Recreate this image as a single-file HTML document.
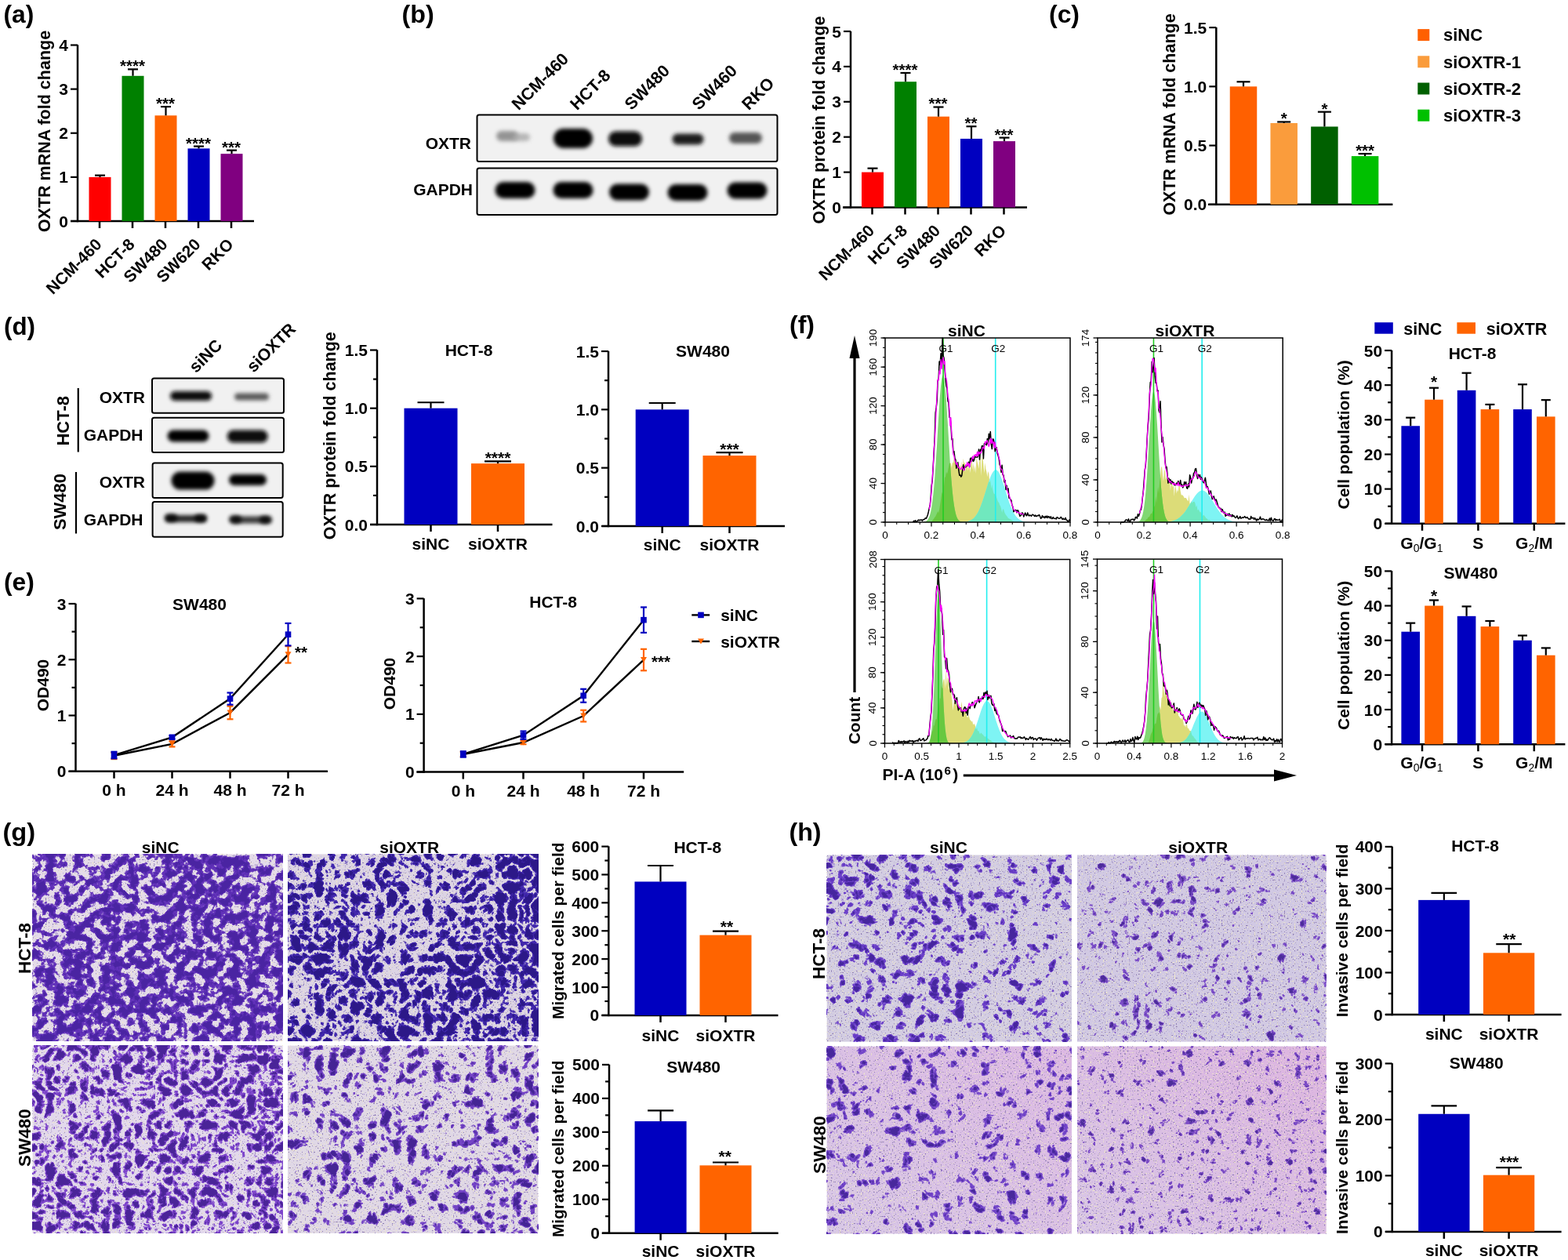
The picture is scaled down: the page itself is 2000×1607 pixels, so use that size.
<!DOCTYPE html>
<html><head><meta charset="utf-8"><title>Figure</title>
<style>
html,body{margin:0;padding:0;background:#fff;}
svg{display:block;}
text{font-family:"Liberation Sans", Arial, Helvetica, sans-serif;font-weight:bold;font-size:21px;text-anchor:middle;}
</style></head><body>
<svg width="2000" height="1607" viewBox="0 0 2000 1607">
<rect width="2000" height="1607" fill="#fff"/>
<text x="4.5" y="28.5" style="text-anchor:start;font-size:31px" textLength="38.8" lengthAdjust="spacingAndGlyphs">(a)</text>
<line x1="99" y1="283.25" x2="99" y2="57.25" stroke="#000" stroke-width="2.5"/>
<line x1="90" y1="282" x2="99" y2="282" stroke="#000" stroke-width="2.2"/>
<text x="87" y="289.56" style="text-anchor:end">0</text>
<line x1="90" y1="225.88" x2="99" y2="225.88" stroke="#000" stroke-width="2.2"/>
<text x="87" y="233.44" style="text-anchor:end">1</text>
<line x1="90" y1="169.75" x2="99" y2="169.75" stroke="#000" stroke-width="2.2"/>
<text x="87" y="177.31" style="text-anchor:end">2</text>
<line x1="90" y1="113.62" x2="99" y2="113.62" stroke="#000" stroke-width="2.2"/>
<text x="87" y="121.19" style="text-anchor:end">3</text>
<line x1="90" y1="57.5" x2="99" y2="57.5" stroke="#000" stroke-width="2.2"/>
<text x="87" y="65.06" style="text-anchor:end">4</text>
<line x1="90" y1="282" x2="324" y2="282" stroke="#000" stroke-width="2.5"/>
<rect x="113.5" y="225.88" width="28" height="56.12" fill="#ff0000"/>
<line x1="127.5" y1="225.88" x2="127.5" y2="223.63" stroke="#000" stroke-width="2.2"/>
<line x1="121" y1="223.63" x2="134" y2="223.63" stroke="#000" stroke-width="2.2"/>
<line x1="127" y1="282" x2="127" y2="291" stroke="#000" stroke-width="2.5"/>
<text x="131" y="313" style="text-anchor:end" transform="rotate(-45 131 313)">NCM-460</text>
<rect x="155.5" y="96.79" width="28" height="185.21" fill="#008000"/>
<line x1="169.5" y1="96.79" x2="169.5" y2="88.37" stroke="#000" stroke-width="2.2"/>
<line x1="163" y1="88.37" x2="176" y2="88.37" stroke="#000" stroke-width="2.2"/>
<line x1="169" y1="282" x2="169" y2="291" stroke="#000" stroke-width="2.5"/>
<text x="169" y="91.28" style="font-size:20.5px">****</text>
<text x="173" y="313" style="text-anchor:end" transform="rotate(-45 173 313)">HCT-8</text>
<rect x="197.5" y="147.3" width="28" height="134.7" fill="#ff6400"/>
<line x1="211.5" y1="147.3" x2="211.5" y2="136.07" stroke="#000" stroke-width="2.2"/>
<line x1="205" y1="136.07" x2="218" y2="136.07" stroke="#000" stroke-width="2.2"/>
<line x1="211" y1="282" x2="211" y2="291" stroke="#000" stroke-width="2.5"/>
<text x="211" y="138.98" style="font-size:20.5px">***</text>
<text x="215" y="313" style="text-anchor:end" transform="rotate(-45 215 313)">SW480</text>
<rect x="239.5" y="189.39" width="28" height="92.61" fill="#0000c0"/>
<line x1="253.5" y1="189.39" x2="253.5" y2="186.59" stroke="#000" stroke-width="2.2"/>
<line x1="247" y1="186.59" x2="260" y2="186.59" stroke="#000" stroke-width="2.2"/>
<line x1="253" y1="282" x2="253" y2="291" stroke="#000" stroke-width="2.5"/>
<text x="253" y="189.5" style="font-size:20.5px">****</text>
<text x="257" y="313" style="text-anchor:end" transform="rotate(-45 257 313)">SW620</text>
<rect x="281.5" y="196.13" width="28" height="85.87" fill="#800080"/>
<line x1="295.5" y1="196.13" x2="295.5" y2="191.64" stroke="#000" stroke-width="2.2"/>
<line x1="289" y1="191.64" x2="302" y2="191.64" stroke="#000" stroke-width="2.2"/>
<line x1="295" y1="282" x2="295" y2="291" stroke="#000" stroke-width="2.5"/>
<text x="295" y="194.55" style="font-size:20.5px">***</text>
<text x="299" y="313" style="text-anchor:end" transform="rotate(-45 299 313)">RKO</text>
<text x="63.5" y="167.5" style="font-size:21.5px" transform="rotate(-90 63.5 167.5)">OXTR mRNA fold change</text>
<text x="512.5" y="28.5" style="text-anchor:start;font-size:31px" textLength="41.2" lengthAdjust="spacingAndGlyphs">(b)</text>
<line x1="1085" y1="265.75" x2="1085" y2="39.75" stroke="#000" stroke-width="2.5"/>
<line x1="1076" y1="264.5" x2="1085" y2="264.5" stroke="#000" stroke-width="2.2"/>
<text x="1073" y="272.06" style="text-anchor:end">0</text>
<line x1="1076" y1="219.6" x2="1085" y2="219.6" stroke="#000" stroke-width="2.2"/>
<text x="1073" y="227.16" style="text-anchor:end">1</text>
<line x1="1076" y1="174.7" x2="1085" y2="174.7" stroke="#000" stroke-width="2.2"/>
<text x="1073" y="182.26" style="text-anchor:end">2</text>
<line x1="1076" y1="129.8" x2="1085" y2="129.8" stroke="#000" stroke-width="2.2"/>
<text x="1073" y="137.36" style="text-anchor:end">3</text>
<line x1="1076" y1="84.9" x2="1085" y2="84.9" stroke="#000" stroke-width="2.2"/>
<text x="1073" y="92.46" style="text-anchor:end">4</text>
<line x1="1076" y1="40" x2="1085" y2="40" stroke="#000" stroke-width="2.2"/>
<text x="1073" y="47.56" style="text-anchor:end">5</text>
<line x1="1075" y1="264.5" x2="1310" y2="264.5" stroke="#000" stroke-width="2.5"/>
<rect x="1099" y="219.6" width="28" height="44.9" fill="#ff0000"/>
<line x1="1113" y1="219.6" x2="1113" y2="214.66" stroke="#000" stroke-width="2.2"/>
<line x1="1106.5" y1="214.66" x2="1119.5" y2="214.66" stroke="#000" stroke-width="2.2"/>
<line x1="1112.5" y1="264.5" x2="1112.5" y2="273.5" stroke="#000" stroke-width="2.5"/>
<text x="1116.5" y="295.5" style="text-anchor:end" transform="rotate(-45 1116.5 295.5)">NCM-460</text>
<rect x="1141" y="104.21" width="28" height="160.29" fill="#008000"/>
<line x1="1155" y1="104.21" x2="1155" y2="92.98" stroke="#000" stroke-width="2.2"/>
<line x1="1148.5" y1="92.98" x2="1161.5" y2="92.98" stroke="#000" stroke-width="2.2"/>
<line x1="1154.5" y1="264.5" x2="1154.5" y2="273.5" stroke="#000" stroke-width="2.5"/>
<text x="1154.5" y="95.89" style="font-size:20.5px">****</text>
<text x="1158.5" y="295.5" style="text-anchor:end" transform="rotate(-45 1158.5 295.5)">HCT-8</text>
<rect x="1183" y="148.66" width="28" height="115.84" fill="#ff6400"/>
<line x1="1197" y1="148.66" x2="1197" y2="136.53" stroke="#000" stroke-width="2.2"/>
<line x1="1190.5" y1="136.53" x2="1203.5" y2="136.53" stroke="#000" stroke-width="2.2"/>
<line x1="1196.5" y1="264.5" x2="1196.5" y2="273.5" stroke="#000" stroke-width="2.5"/>
<text x="1196.5" y="139.44" style="font-size:20.5px">***</text>
<text x="1200.5" y="295.5" style="text-anchor:end" transform="rotate(-45 1200.5 295.5)">SW480</text>
<rect x="1225" y="176.94" width="28" height="87.56" fill="#0000c0"/>
<line x1="1239" y1="176.94" x2="1239" y2="161.23" stroke="#000" stroke-width="2.2"/>
<line x1="1232.5" y1="161.23" x2="1245.5" y2="161.23" stroke="#000" stroke-width="2.2"/>
<line x1="1238.5" y1="264.5" x2="1238.5" y2="273.5" stroke="#000" stroke-width="2.5"/>
<text x="1238.5" y="164.14" style="font-size:20.5px">**</text>
<text x="1242.5" y="295.5" style="text-anchor:end" transform="rotate(-45 1242.5 295.5)">SW620</text>
<rect x="1267" y="180.09" width="28" height="84.41" fill="#800080"/>
<line x1="1281" y1="180.09" x2="1281" y2="175.6" stroke="#000" stroke-width="2.2"/>
<line x1="1274.5" y1="175.6" x2="1287.5" y2="175.6" stroke="#000" stroke-width="2.2"/>
<line x1="1280.5" y1="264.5" x2="1280.5" y2="273.5" stroke="#000" stroke-width="2.5"/>
<text x="1280.5" y="178.51" style="font-size:20.5px">***</text>
<text x="1284.5" y="295.5" style="text-anchor:end" transform="rotate(-45 1284.5 295.5)">RKO</text>
<text x="1052" y="153" style="font-size:21.5px" transform="rotate(-90 1052 153)">OXTR protein fold change</text>
<text x="1338" y="28.5" style="text-anchor:start;font-size:31px" textLength="39" lengthAdjust="spacingAndGlyphs">(c)</text>
<line x1="1551.3" y1="262.05" x2="1551.3" y2="34.85" stroke="#000" stroke-width="2.5"/>
<line x1="1542.3" y1="260.8" x2="1551.3" y2="260.8" stroke="#000" stroke-width="2.2"/>
<text x="1539.3" y="268.36" style="text-anchor:end">0.0</text>
<line x1="1542.3" y1="185.57" x2="1551.3" y2="185.57" stroke="#000" stroke-width="2.2"/>
<text x="1539.3" y="193.13" style="text-anchor:end">0.5</text>
<line x1="1542.3" y1="110.33" x2="1551.3" y2="110.33" stroke="#000" stroke-width="2.2"/>
<text x="1539.3" y="117.89" style="text-anchor:end">1.0</text>
<line x1="1542.3" y1="35.1" x2="1551.3" y2="35.1" stroke="#000" stroke-width="2.2"/>
<text x="1539.3" y="42.66" style="text-anchor:end">1.5</text>
<line x1="1541" y1="260.8" x2="1776.4" y2="260.8" stroke="#000" stroke-width="2.5"/>
<rect x="1568.75" y="110.33" width="34.5" height="150.47" fill="#ff6000"/>
<line x1="1586" y1="110.33" x2="1586" y2="104.31" stroke="#000" stroke-width="2.2"/>
<line x1="1577.5" y1="104.31" x2="1594.5" y2="104.31" stroke="#000" stroke-width="2.2"/>
<rect x="1620.45" y="156.98" width="34.5" height="103.82" fill="#fa9c3c"/>
<line x1="1637.7" y1="156.98" x2="1637.7" y2="155.47" stroke="#000" stroke-width="2.2"/>
<line x1="1629.2" y1="155.47" x2="1646.2" y2="155.47" stroke="#000" stroke-width="2.2"/>
<text x="1637.7" y="158.38" style="font-size:20.5px">*</text>
<rect x="1672.15" y="161.49" width="34.5" height="99.31" fill="#006000"/>
<line x1="1689.4" y1="161.49" x2="1689.4" y2="142.68" stroke="#000" stroke-width="2.2"/>
<line x1="1680.9" y1="142.68" x2="1697.9" y2="142.68" stroke="#000" stroke-width="2.2"/>
<text x="1689.4" y="145.59" style="font-size:20.5px">*</text>
<rect x="1723.85" y="199.11" width="34.5" height="61.69" fill="#00c000"/>
<line x1="1741.1" y1="199.11" x2="1741.1" y2="196.1" stroke="#000" stroke-width="2.2"/>
<line x1="1732.6" y1="196.1" x2="1749.6" y2="196.1" stroke="#000" stroke-width="2.2"/>
<text x="1741.1" y="199.01" style="font-size:20.5px">***</text>
<text x="1499" y="146" style="font-size:21.5px" transform="rotate(-90 1499 146)">OXTR mRNA fold change</text>
<rect x="1808.3" y="37.1" width="15" height="15" fill="#ff6000"/>
<text x="1841" y="52.4" style="text-anchor:start;font-size:22px">siNC</text>
<rect x="1808.3" y="71.3" width="15" height="15" fill="#fa9c3c"/>
<text x="1841" y="86.6" style="text-anchor:start;font-size:22px">siOXTR-1</text>
<rect x="1808.3" y="105.5" width="15" height="15" fill="#006000"/>
<text x="1841" y="120.8" style="text-anchor:start;font-size:22px">siOXTR-2</text>
<rect x="1808.3" y="139.7" width="15" height="15" fill="#00c000"/>
<text x="1841" y="155" style="text-anchor:start;font-size:22px">siOXTR-3</text>
<defs><filter id="bb" x="-30%" y="-80%" width="160%" height="260%"><feGaussianBlur stdDeviation="2.4"/></filter><filter id="bb2" x="-30%" y="-80%" width="160%" height="260%"><feGaussianBlur stdDeviation="1.6"/></filter></defs>
<rect x="608.5" y="146.5" width="383" height="59.5" rx="2.5" fill="#f1f1f1" stroke="#000" stroke-width="2"/>
<rect x="608.5" y="214.5" width="383" height="59.5" rx="2.5" fill="#f1f1f1" stroke="#000" stroke-width="2"/>
<rect x="633" y="167" width="28" height="13" rx="6.5" fill="#8a8a8a" opacity="0.9" filter="url(#bb)"/>
<rect x="654" y="170" width="22" height="10" rx="5" fill="#a8a8a8" opacity="0.8" filter="url(#bb)"/>
<rect x="706" y="164" width="50" height="25" rx="12.5" fill="#050505" opacity="1" filter="url(#bb)"/>
<rect x="776" y="167.5" width="43" height="19" rx="9.5" fill="#080808" opacity="1" filter="url(#bb)"/>
<rect x="857.5" y="170.5" width="40" height="14" rx="7" fill="#1e1e1e" opacity="1" filter="url(#bb)"/>
<rect x="930" y="169" width="42" height="14" rx="7" fill="#555555" opacity="1" filter="url(#bb)"/>
<rect x="631.5" y="232" width="51" height="21" rx="10.5" fill="#050505" opacity="1" filter="url(#bb)"/>
<rect x="705.5" y="232" width="51" height="21" rx="10.5" fill="#050505" opacity="1" filter="url(#bb)"/>
<rect x="777" y="234.5" width="51" height="21" rx="10.5" fill="#050505" opacity="1" filter="url(#bb)"/>
<rect x="851.5" y="235" width="51" height="21" rx="10.5" fill="#050505" opacity="1" filter="url(#bb)"/>
<rect x="927.5" y="232.5" width="51" height="21" rx="10.5" fill="#050505" opacity="1" filter="url(#bb)"/>
<text x="601" y="189.5" style="text-anchor:end">OXTR</text>
<text x="603" y="249" style="text-anchor:end">GAPDH</text>
<text x="661.5" y="141.5" style="text-anchor:start;font-size:21.5px" transform="rotate(-45 661.5 141.5)">NCM-460</text>
<text x="736" y="141.5" style="text-anchor:start;font-size:21.5px" transform="rotate(-45 736 141.5)">HCT-8</text>
<text x="805.5" y="141.5" style="text-anchor:start;font-size:21.5px" transform="rotate(-45 805.5 141.5)">SW480</text>
<text x="891.5" y="141.5" style="text-anchor:start;font-size:21.5px" transform="rotate(-45 891.5 141.5)">SW460</text>
<text x="955" y="141.5" style="text-anchor:start;font-size:21.5px" transform="rotate(-45 955 141.5)">RKO</text>
<text x="5" y="427" style="text-anchor:start;font-size:31px" textLength="40" lengthAdjust="spacingAndGlyphs">(d)</text>
<rect x="194" y="482.5" width="168" height="44.3" rx="2.5" fill="#f1f1f1" stroke="#000" stroke-width="2"/>
<rect x="194" y="532.8" width="168" height="44.2" rx="2.5" fill="#f1f1f1" stroke="#000" stroke-width="2"/>
<rect x="194.6" y="590.5" width="166.1" height="44.4" rx="2.5" fill="#f1f1f1" stroke="#000" stroke-width="2"/>
<rect x="194.6" y="640.1" width="166.1" height="44.6" rx="2.5" fill="#f1f1f1" stroke="#000" stroke-width="2"/>
<rect x="217.1" y="499" width="53" height="12" rx="6" fill="#0a0a0a" opacity="1" filter="url(#bb)"/>
<rect x="299" y="501.5" width="44" height="9" rx="4.5" fill="#5a5a5a" opacity="1" filter="url(#bb)"/>
<rect x="213.5" y="548.5" width="53" height="15" rx="7.5" fill="#050505" opacity="1" filter="url(#bb)"/>
<rect x="289.7" y="548.5" width="52" height="16" rx="8" fill="#0a0a0a" opacity="1" filter="url(#bb)"/>
<rect x="218.5" y="601.5" width="55" height="23" rx="11.5" fill="#000000" opacity="1" filter="url(#bb)"/>
<rect x="292" y="605" width="48" height="14" rx="7" fill="#050505" opacity="1" filter="url(#bb)"/>
<rect x="211" y="657" width="52" height="9" rx="4.5" fill="#262626" opacity="1" filter="url(#bb)"/>
<rect x="294.6" y="658.5" width="50" height="9" rx="4.5" fill="#3a3a3a" opacity="1" filter="url(#bb)"/>
<rect x="210" y="655.5" width="16" height="10" rx="5" fill="#000" opacity="0.8" filter="url(#bb)"/>
<rect x="248" y="656" width="16" height="10" rx="5" fill="#000" opacity="0.8" filter="url(#bb)"/>
<rect x="292" y="657.5" width="16" height="10" rx="5" fill="#000" opacity="0.8" filter="url(#bb)"/>
<rect x="331" y="658" width="16" height="10" rx="5" fill="#000" opacity="0.8" filter="url(#bb)"/>
<text x="185" y="513.5" style="text-anchor:end">OXTR</text>
<text x="182.5" y="561.5" style="text-anchor:end">GAPDH</text>
<text x="185" y="621.5" style="text-anchor:end">OXTR</text>
<text x="182.5" y="669.5" style="text-anchor:end">GAPDH</text>
<line x1="99.75" y1="495" x2="99.75" y2="576.5" stroke="#000" stroke-width="2.2"/>
<line x1="97" y1="602" x2="97" y2="680.5" stroke="#000" stroke-width="2.2"/>
<text x="88" y="536.75" style="font-size:22px" transform="rotate(-90 88 536.75)">HCT-8</text>
<text x="84" y="640" style="font-size:22px" transform="rotate(-90 84 640)">SW480</text>
<text x="250" y="476.5" style="text-anchor:start;font-size:21.5px" transform="rotate(-45 250 476.5)">siNC</text>
<text x="323.5" y="476" style="text-anchor:start;font-size:21.5px" transform="rotate(-45 323.5 476)">siOXTR</text>
<line x1="481" y1="670.25" x2="481" y2="446.25" stroke="#000" stroke-width="2.5"/>
<line x1="472" y1="669" x2="481" y2="669" stroke="#000" stroke-width="2.2"/>
<text x="469" y="676.56" style="text-anchor:end">0.0</text>
<line x1="472" y1="594.83" x2="481" y2="594.83" stroke="#000" stroke-width="2.2"/>
<text x="469" y="602.39" style="text-anchor:end">0.5</text>
<line x1="472" y1="520.67" x2="481" y2="520.67" stroke="#000" stroke-width="2.2"/>
<text x="469" y="528.23" style="text-anchor:end">1.0</text>
<line x1="472" y1="446.5" x2="481" y2="446.5" stroke="#000" stroke-width="2.2"/>
<text x="469" y="454.06" style="text-anchor:end">1.5</text>
<line x1="476.05" y1="631.92" x2="481" y2="631.92" stroke="#000" stroke-width="2.2"/>
<line x1="476.05" y1="557.75" x2="481" y2="557.75" stroke="#000" stroke-width="2.2"/>
<line x1="476.05" y1="483.58" x2="481" y2="483.58" stroke="#000" stroke-width="2.2"/>
<line x1="472" y1="669" x2="704.5" y2="669" stroke="#000" stroke-width="2.5"/>
<rect x="515.5" y="520.67" width="68" height="148.33" fill="#0000c0"/>
<line x1="549.5" y1="520.67" x2="549.5" y2="513.25" stroke="#000" stroke-width="2.2"/>
<line x1="532.5" y1="513.25" x2="566.5" y2="513.25" stroke="#000" stroke-width="2.2"/>
<line x1="549.5" y1="669" x2="549.5" y2="678" stroke="#000" stroke-width="2.5"/>
<rect x="601" y="591.12" width="68" height="77.88" fill="#ff6400"/>
<line x1="635" y1="591.12" x2="635" y2="588.45" stroke="#000" stroke-width="2.2"/>
<line x1="618" y1="588.45" x2="652" y2="588.45" stroke="#000" stroke-width="2.2"/>
<line x1="635" y1="669" x2="635" y2="678" stroke="#000" stroke-width="2.5"/>
<text x="549.5" y="700.5">siNC</text>
<text x="635" y="700.5">siOXTR</text>
<text x="598" y="454">HCT-8</text>
<text x="635" y="591.22">****</text>
<line x1="776" y1="672.25" x2="776" y2="447.75" stroke="#000" stroke-width="2.5"/>
<line x1="767" y1="671" x2="776" y2="671" stroke="#000" stroke-width="2.2"/>
<text x="764" y="678.56" style="text-anchor:end">0.0</text>
<line x1="767" y1="596.67" x2="776" y2="596.67" stroke="#000" stroke-width="2.2"/>
<text x="764" y="604.23" style="text-anchor:end">0.5</text>
<line x1="767" y1="522.33" x2="776" y2="522.33" stroke="#000" stroke-width="2.2"/>
<text x="764" y="529.89" style="text-anchor:end">1.0</text>
<line x1="767" y1="448" x2="776" y2="448" stroke="#000" stroke-width="2.2"/>
<text x="764" y="455.56" style="text-anchor:end">1.5</text>
<line x1="771.05" y1="633.83" x2="776" y2="633.83" stroke="#000" stroke-width="2.2"/>
<line x1="771.05" y1="559.5" x2="776" y2="559.5" stroke="#000" stroke-width="2.2"/>
<line x1="771.05" y1="485.17" x2="776" y2="485.17" stroke="#000" stroke-width="2.2"/>
<line x1="767.5" y1="671" x2="1001" y2="671" stroke="#000" stroke-width="2.5"/>
<rect x="810.7" y="522.33" width="68" height="148.67" fill="#0000c0"/>
<line x1="844.7" y1="522.33" x2="844.7" y2="514.01" stroke="#000" stroke-width="2.2"/>
<line x1="827.7" y1="514.01" x2="861.7" y2="514.01" stroke="#000" stroke-width="2.2"/>
<line x1="844.7" y1="671" x2="844.7" y2="680" stroke="#000" stroke-width="2.5"/>
<rect x="896.5" y="581.06" width="68" height="89.94" fill="#ff6400"/>
<line x1="930.5" y1="581.06" x2="930.5" y2="577.04" stroke="#000" stroke-width="2.2"/>
<line x1="913.5" y1="577.04" x2="947.5" y2="577.04" stroke="#000" stroke-width="2.2"/>
<line x1="930.5" y1="671" x2="930.5" y2="680" stroke="#000" stroke-width="2.5"/>
<text x="844.7" y="701.5">siNC</text>
<text x="930.5" y="701.5">siOXTR</text>
<text x="896.5" y="454.5">SW480</text>
<text x="930.5" y="580.22">***</text>
<text x="428" y="555.75" style="font-size:21.5px" transform="rotate(-90 428 555.75)">OXTR protein fold change</text>
<text x="5" y="752.5" style="text-anchor:start;font-size:31px" textLength="38.8" lengthAdjust="spacingAndGlyphs">(e)</text>
<line x1="96.5" y1="985" x2="96.5" y2="769.75" stroke="#000" stroke-width="2.5"/>
<line x1="87.5" y1="983.75" x2="96.5" y2="983.75" stroke="#000" stroke-width="2.2"/>
<text x="84.5" y="991.31" style="text-anchor:end">0</text>
<line x1="87.5" y1="912.5" x2="96.5" y2="912.5" stroke="#000" stroke-width="2.2"/>
<text x="84.5" y="920.06" style="text-anchor:end">1</text>
<line x1="87.5" y1="841.25" x2="96.5" y2="841.25" stroke="#000" stroke-width="2.2"/>
<text x="84.5" y="848.81" style="text-anchor:end">2</text>
<line x1="87.5" y1="770" x2="96.5" y2="770" stroke="#000" stroke-width="2.2"/>
<text x="84.5" y="777.56" style="text-anchor:end">3</text>
<line x1="91.55" y1="948.12" x2="96.5" y2="948.12" stroke="#000" stroke-width="2.2"/>
<line x1="91.55" y1="876.88" x2="96.5" y2="876.88" stroke="#000" stroke-width="2.2"/>
<line x1="91.55" y1="805.62" x2="96.5" y2="805.62" stroke="#000" stroke-width="2.2"/>
<line x1="87.5" y1="983.75" x2="418" y2="983.75" stroke="#000" stroke-width="2.5"/>
<line x1="145.5" y1="983.75" x2="145.5" y2="992.75" stroke="#000" stroke-width="2.5"/>
<text x="145.5" y="1015.25">0 h</text>
<line x1="219.5" y1="983.75" x2="219.5" y2="992.75" stroke="#000" stroke-width="2.5"/>
<text x="219.5" y="1015.25">24 h</text>
<line x1="293.5" y1="983.75" x2="293.5" y2="992.75" stroke="#000" stroke-width="2.5"/>
<text x="293.5" y="1015.25">48 h</text>
<line x1="367.5" y1="983.75" x2="367.5" y2="992.75" stroke="#000" stroke-width="2.5"/>
<text x="367.5" y="1015.25">72 h</text>
<polyline points="145.5,963.09 219.5,940.29 293.5,891.12 367.5,809.19" fill="none" stroke="#000" stroke-width="2.4"/>
<polyline points="145.5,963.8 219.5,948.84 293.5,908.94 367.5,834.84" fill="none" stroke="#000" stroke-width="2.4"/>
<line x1="145.5" y1="959.52" x2="145.5" y2="968.07" stroke="#ff6400" stroke-width="2.2"/>
<line x1="141.5" y1="959.52" x2="149.5" y2="959.52" stroke="#ff6400" stroke-width="2.2"/>
<line x1="141.5" y1="968.07" x2="149.5" y2="968.07" stroke="#ff6400" stroke-width="2.2"/>
<path d="M141.5,960.3h8l-4,7z" fill="#ff6400"/>
<line x1="219.5" y1="945.27" x2="219.5" y2="952.4" stroke="#ff6400" stroke-width="2.2"/>
<line x1="215.5" y1="945.27" x2="223.5" y2="945.27" stroke="#ff6400" stroke-width="2.2"/>
<line x1="215.5" y1="952.4" x2="223.5" y2="952.4" stroke="#ff6400" stroke-width="2.2"/>
<path d="M215.5,945.34h8l-4,7z" fill="#ff6400"/>
<line x1="293.5" y1="900.6" x2="293.5" y2="917.27" stroke="#ff6400" stroke-width="2.2"/>
<line x1="289.5" y1="900.6" x2="297.5" y2="900.6" stroke="#ff6400" stroke-width="2.2"/>
<line x1="289.5" y1="917.27" x2="297.5" y2="917.27" stroke="#ff6400" stroke-width="2.2"/>
<path d="M289.5,905.44h8l-4,7z" fill="#ff6400"/>
<line x1="367.5" y1="824.15" x2="367.5" y2="845.52" stroke="#ff6400" stroke-width="2.2"/>
<line x1="363.5" y1="824.15" x2="371.5" y2="824.15" stroke="#ff6400" stroke-width="2.2"/>
<line x1="363.5" y1="845.52" x2="371.5" y2="845.52" stroke="#ff6400" stroke-width="2.2"/>
<path d="M363.5,831.34h8l-4,7z" fill="#ff6400"/>
<line x1="145.5" y1="958.81" x2="145.5" y2="967.36" stroke="#0000c0" stroke-width="2.2"/>
<line x1="141.5" y1="958.81" x2="149.5" y2="958.81" stroke="#0000c0" stroke-width="2.2"/>
<line x1="141.5" y1="967.36" x2="149.5" y2="967.36" stroke="#0000c0" stroke-width="2.2"/>
<rect x="141.7" y="959.29" width="7.6" height="7.6" fill="#0000c0"/>
<line x1="219.5" y1="938.15" x2="219.5" y2="942.43" stroke="#0000c0" stroke-width="2.2"/>
<line x1="215.5" y1="938.15" x2="223.5" y2="938.15" stroke="#0000c0" stroke-width="2.2"/>
<line x1="215.5" y1="942.43" x2="223.5" y2="942.43" stroke="#0000c0" stroke-width="2.2"/>
<rect x="215.7" y="936.49" width="7.6" height="7.6" fill="#0000c0"/>
<line x1="293.5" y1="883.5" x2="293.5" y2="898.75" stroke="#0000c0" stroke-width="2.2"/>
<line x1="289.5" y1="883.5" x2="297.5" y2="883.5" stroke="#0000c0" stroke-width="2.2"/>
<line x1="289.5" y1="898.75" x2="297.5" y2="898.75" stroke="#0000c0" stroke-width="2.2"/>
<rect x="289.7" y="887.33" width="7.6" height="7.6" fill="#0000c0"/>
<line x1="367.5" y1="794.94" x2="367.5" y2="823.44" stroke="#0000c0" stroke-width="2.2"/>
<line x1="363.5" y1="794.94" x2="371.5" y2="794.94" stroke="#0000c0" stroke-width="2.2"/>
<line x1="363.5" y1="823.44" x2="371.5" y2="823.44" stroke="#0000c0" stroke-width="2.2"/>
<rect x="363.7" y="805.39" width="7.6" height="7.6" fill="#0000c0"/>
<text x="254.5" y="777.5">SW480</text>
<text x="376" y="839.41" style="text-anchor:start;font-size:20.5px">**</text>
<text x="62" y="874" transform="rotate(-90 62 874)">OD490</text>
<line x1="540.6" y1="985.85" x2="540.6" y2="763.15" stroke="#000" stroke-width="2.5"/>
<line x1="531.6" y1="984.6" x2="540.6" y2="984.6" stroke="#000" stroke-width="2.2"/>
<text x="528.6" y="992.16" style="text-anchor:end">0</text>
<line x1="531.6" y1="910.87" x2="540.6" y2="910.87" stroke="#000" stroke-width="2.2"/>
<text x="528.6" y="918.43" style="text-anchor:end">1</text>
<line x1="531.6" y1="837.13" x2="540.6" y2="837.13" stroke="#000" stroke-width="2.2"/>
<text x="528.6" y="844.69" style="text-anchor:end">2</text>
<line x1="531.6" y1="763.4" x2="540.6" y2="763.4" stroke="#000" stroke-width="2.2"/>
<text x="528.6" y="770.96" style="text-anchor:end">3</text>
<line x1="535.65" y1="947.73" x2="540.6" y2="947.73" stroke="#000" stroke-width="2.2"/>
<line x1="535.65" y1="874" x2="540.6" y2="874" stroke="#000" stroke-width="2.2"/>
<line x1="535.65" y1="800.27" x2="540.6" y2="800.27" stroke="#000" stroke-width="2.2"/>
<line x1="531.4" y1="984.6" x2="872.2" y2="984.6" stroke="#000" stroke-width="2.5"/>
<line x1="590.8" y1="984.6" x2="590.8" y2="993.6" stroke="#000" stroke-width="2.5"/>
<text x="590.8" y="1016.1">0 h</text>
<line x1="667.5" y1="984.6" x2="667.5" y2="993.6" stroke="#000" stroke-width="2.5"/>
<text x="667.5" y="1016.1">24 h</text>
<line x1="744.2" y1="984.6" x2="744.2" y2="993.6" stroke="#000" stroke-width="2.5"/>
<text x="744.2" y="1016.1">48 h</text>
<line x1="821" y1="984.6" x2="821" y2="993.6" stroke="#000" stroke-width="2.5"/>
<text x="821" y="1016.1">72 h</text>
<polyline points="590.8,961.96 667.5,937.71 744.2,887.27 821,790.68" fill="none" stroke="#000" stroke-width="2.4"/>
<polyline points="590.8,961.96 667.5,947 744.2,913.08 821,841.56" fill="none" stroke="#000" stroke-width="2.4"/>
<line x1="590.8" y1="959.01" x2="590.8" y2="964.91" stroke="#ff6400" stroke-width="2.2"/>
<line x1="586.8" y1="959.01" x2="594.8" y2="959.01" stroke="#ff6400" stroke-width="2.2"/>
<line x1="586.8" y1="964.91" x2="594.8" y2="964.91" stroke="#ff6400" stroke-width="2.2"/>
<path d="M586.8,958.46h8l-4,7z" fill="#ff6400"/>
<line x1="667.5" y1="944.78" x2="667.5" y2="949.21" stroke="#ff6400" stroke-width="2.2"/>
<line x1="663.5" y1="944.78" x2="671.5" y2="944.78" stroke="#ff6400" stroke-width="2.2"/>
<line x1="663.5" y1="949.21" x2="671.5" y2="949.21" stroke="#ff6400" stroke-width="2.2"/>
<path d="M663.5,943.5h8l-4,7z" fill="#ff6400"/>
<line x1="744.2" y1="905.71" x2="744.2" y2="920.45" stroke="#ff6400" stroke-width="2.2"/>
<line x1="740.2" y1="905.71" x2="748.2" y2="905.71" stroke="#ff6400" stroke-width="2.2"/>
<line x1="740.2" y1="920.45" x2="748.2" y2="920.45" stroke="#ff6400" stroke-width="2.2"/>
<path d="M740.2,909.58h8l-4,7z" fill="#ff6400"/>
<line x1="821" y1="827.84" x2="821" y2="855.27" stroke="#ff6400" stroke-width="2.2"/>
<line x1="817" y1="827.84" x2="825" y2="827.84" stroke="#ff6400" stroke-width="2.2"/>
<line x1="817" y1="855.27" x2="825" y2="855.27" stroke="#ff6400" stroke-width="2.2"/>
<path d="M817,838.06h8l-4,7z" fill="#ff6400"/>
<line x1="590.8" y1="958.28" x2="590.8" y2="965.65" stroke="#0000c0" stroke-width="2.2"/>
<line x1="586.8" y1="958.28" x2="594.8" y2="958.28" stroke="#0000c0" stroke-width="2.2"/>
<line x1="586.8" y1="965.65" x2="594.8" y2="965.65" stroke="#0000c0" stroke-width="2.2"/>
<rect x="587" y="958.16" width="7.6" height="7.6" fill="#0000c0"/>
<line x1="667.5" y1="932.54" x2="667.5" y2="942.87" stroke="#0000c0" stroke-width="2.2"/>
<line x1="663.5" y1="932.54" x2="671.5" y2="932.54" stroke="#0000c0" stroke-width="2.2"/>
<line x1="663.5" y1="942.87" x2="671.5" y2="942.87" stroke="#0000c0" stroke-width="2.2"/>
<rect x="663.7" y="933.91" width="7.6" height="7.6" fill="#0000c0"/>
<line x1="744.2" y1="878.79" x2="744.2" y2="895.75" stroke="#0000c0" stroke-width="2.2"/>
<line x1="740.2" y1="878.79" x2="748.2" y2="878.79" stroke="#0000c0" stroke-width="2.2"/>
<line x1="740.2" y1="895.75" x2="748.2" y2="895.75" stroke="#0000c0" stroke-width="2.2"/>
<rect x="740.4" y="883.47" width="7.6" height="7.6" fill="#0000c0"/>
<line x1="821" y1="774.46" x2="821" y2="806.9" stroke="#0000c0" stroke-width="2.2"/>
<line x1="817" y1="774.46" x2="825" y2="774.46" stroke="#0000c0" stroke-width="2.2"/>
<line x1="817" y1="806.9" x2="825" y2="806.9" stroke="#0000c0" stroke-width="2.2"/>
<rect x="817.2" y="786.88" width="7.6" height="7.6" fill="#0000c0"/>
<text x="705.6" y="774.5">HCT-8</text>
<text x="831" y="851.21" style="text-anchor:start;font-size:20.5px">***</text>
<text x="504" y="872" transform="rotate(-90 504 872)">OD490</text>
<line x1="882.3" y1="784.4" x2="905.2" y2="784.4" stroke="#000" stroke-width="2.4"/>
<rect x="890.2" y="780.6" width="7.6" height="7.6" fill="#0000c0"/>
<line x1="882.3" y1="818" x2="905.2" y2="818" stroke="#000" stroke-width="2.4"/>
<path d="M890,814.5h8l-4,7z" fill="#ff6400"/>
<text x="919.2" y="792" style="text-anchor:start">siNC</text>
<text x="919.2" y="825.5" style="text-anchor:start">siOXTR</text>
<text x="1007" y="424.5" style="text-anchor:start;font-size:31px" textLength="32" lengthAdjust="spacingAndGlyphs">(f)</text>
<path d="M1187.3,666.0 L1188.2,665.7 L1189.2,664.1 L1190.2,662.7 L1191.2,661.6 L1192.2,659.8 L1193.2,658.8 L1194.2,656.4 L1195.2,654.5 L1196.1,652.1 L1197.1,654.2 L1198.1,650.1 L1199.1,643.8 L1200.1,637.3 L1201.1,630.0 L1202.1,626.9 L1203.1,631.9 L1204.0,619.9 L1205.0,609.3 L1206.0,608.0 L1207.0,601.7 L1208.0,604.5 L1209.0,601.3 L1210.0,595.6 L1211.0,590.8 L1211.9,590.3 L1212.9,590.9 L1213.9,596.8 L1214.9,589.0 L1215.9,590.9 L1216.9,583.4 L1217.9,583.0 L1218.9,590.6 L1219.8,595.0 L1220.8,597.1 L1221.8,589.4 L1222.8,592.1 L1223.8,595.4 L1224.8,592.7 L1225.8,597.7 L1226.8,588.3 L1227.7,596.7 L1228.7,584.8 L1229.7,590.9 L1230.7,589.7 L1231.7,602.0 L1232.7,593.0 L1233.7,588.7 L1234.7,600.7 L1235.6,595.6 L1236.6,593.3 L1237.6,603.3 L1238.6,590.9 L1239.6,586.9 L1240.6,599.2 L1241.6,590.1 L1242.6,602.2 L1243.5,592.7 L1244.5,604.1 L1245.5,583.7 L1246.5,588.8 L1247.5,592.2 L1248.5,598.1 L1249.5,583.5 L1250.5,578.9 L1251.4,607.1 L1252.4,585.2 L1253.4,582.8 L1254.4,592.5 L1255.4,603.8 L1256.4,589.9 L1257.4,598.0 L1258.4,601.7 L1259.3,608.3 L1260.3,601.0 L1261.3,604.0 L1262.3,615.5 L1263.3,612.5 L1264.3,623.8 L1265.3,617.8 L1266.3,624.3 L1267.2,628.3 L1268.2,630.5 L1269.2,629.2 L1270.2,631.9 L1271.2,634.7 L1272.2,638.0 L1273.2,640.3 L1274.2,641.1 L1275.1,644.1 L1276.1,645.4 L1277.1,648.9 L1278.1,653.7 L1279.1,649.5 L1280.1,649.5 L1281.1,653.3 L1282.1,655.3 L1283.0,656.7 L1284.0,658.1 L1285.0,659.3 L1286.0,660.9 L1287.0,661.2 L1288.0,662.1 L1289.0,662.3 L1290.0,663.1 L1290.9,663.6 L1291.9,664.4 L1292.9,665.0 L1293.9,665.8 L1294.9,666.0 L1294.9,666.0 L1187.3,666.0Z" fill="#dcdc78"/>
<path d="M1175.4,665.9 L1176.4,665.9 L1177.4,665.8 L1178.4,665.7 L1179.4,665.5 L1180.3,665.2 L1181.3,664.7 L1182.3,664.0 L1183.3,662.9 L1184.3,661.3 L1185.3,659.2 L1186.3,656.2 L1187.3,652.1 L1188.2,646.9 L1189.2,640.1 L1190.2,631.8 L1191.2,621.7 L1192.2,609.9 L1193.2,596.4 L1194.2,581.5 L1195.2,565.5 L1196.1,548.9 L1197.1,532.5 L1198.1,517.0 L1199.1,503.2 L1200.1,491.8 L1201.1,483.6 L1202.1,478.9 L1203.1,478.2 L1204.0,481.4 L1205.0,488.4 L1206.0,498.6 L1207.0,511.6 L1208.0,526.6 L1209.0,542.7 L1210.0,559.3 L1211.0,575.6 L1211.9,591.0 L1212.9,605.0 L1213.9,617.5 L1214.9,628.2 L1215.9,637.2 L1216.9,644.5 L1217.9,650.3 L1218.9,654.8 L1219.8,658.1 L1220.8,660.6 L1221.8,662.4 L1222.8,663.6 L1223.8,664.5 L1224.8,665.0 L1225.8,665.4 L1226.8,665.6 L1227.7,665.8 L1228.7,665.9 L1229.7,665.9 L1230.7,666.0 L1230.7,666.0 L1175.4,666.0Z" fill="#80d872"/>
<path d="M1222.8,666.0 L1223.8,665.9 L1224.8,665.9 L1225.8,665.9 L1226.8,665.8 L1227.7,665.8 L1228.7,665.7 L1229.7,665.7 L1230.7,665.6 L1231.7,665.4 L1232.7,665.3 L1233.7,665.1 L1234.7,664.9 L1235.6,664.6 L1236.6,664.2 L1237.6,663.8 L1238.6,663.3 L1239.6,662.7 L1240.6,662.0 L1241.6,661.2 L1242.6,660.3 L1243.5,659.2 L1244.5,657.9 L1245.5,656.5 L1246.5,655.0 L1247.5,653.2 L1248.5,651.2 L1249.5,649.1 L1250.5,646.8 L1251.4,644.3 L1252.4,641.6 L1253.4,638.8 L1254.4,635.8 L1255.4,632.7 L1256.4,629.5 L1257.4,626.3 L1258.4,623.1 L1259.3,619.9 L1260.3,616.8 L1261.3,613.8 L1262.3,611.0 L1263.3,608.3 L1264.3,606.0 L1265.3,603.9 L1266.3,602.2 L1267.2,600.9 L1268.2,599.9 L1269.2,599.3 L1270.2,599.2 L1271.2,599.5 L1272.2,600.2 L1273.2,601.3 L1274.2,602.8 L1275.1,604.7 L1276.1,606.9 L1277.1,609.3 L1278.1,612.0 L1279.1,614.9 L1280.1,618.0 L1281.1,621.1 L1282.1,624.4 L1283.0,627.6 L1284.0,630.8 L1285.0,633.9 L1286.0,637.0 L1287.0,639.9 L1288.0,642.7 L1289.0,645.3 L1290.0,647.7 L1290.9,650.0 L1291.9,652.0 L1292.9,653.9 L1293.9,655.6 L1294.9,657.1 L1295.9,658.4 L1296.9,659.6 L1297.9,660.7 L1298.8,661.5 L1299.8,662.3 L1300.8,663.0 L1301.8,663.5 L1302.8,664.0 L1303.8,664.4 L1304.8,664.7 L1305.8,665.0 L1306.7,665.2 L1307.7,665.4 L1308.7,665.5 L1309.7,665.6 L1310.7,665.7 L1311.7,665.8 L1312.7,665.8 L1313.7,665.9 L1314.6,665.9 L1315.6,665.9 L1316.6,665.9 L1316.6,666.0 L1222.8,666.0Z" fill="#7ef4f4"/>
<path d="M1187.3,666.0 L1188.2,665.7 L1189.2,664.1 L1190.2,662.7 L1191.2,661.6 L1192.2,659.8 L1193.2,658.8 L1194.2,656.4 L1195.2,654.5 L1196.1,652.1 L1197.1,654.2 L1198.1,650.1 L1199.1,643.8 L1200.1,637.3 L1201.1,630.0 L1202.1,626.9 L1203.1,631.9 L1204.0,619.9 L1205.0,609.3 L1206.0,608.0 L1207.0,601.7 L1208.0,604.5 L1209.0,601.3 L1210.0,595.6 L1211.0,590.8 L1211.9,591.0 L1212.9,605.0 L1213.9,617.5 L1214.9,628.2 L1215.9,637.2 L1216.9,644.5 L1217.9,650.3 L1218.9,654.8 L1219.8,658.1 L1220.8,660.6 L1221.8,662.4 L1222.8,663.6 L1223.8,664.5 L1224.8,665.0 L1225.8,665.4 L1226.8,665.6 L1227.7,665.8 L1228.7,665.9 L1229.7,665.9 L1230.7,666.0 L1230.7,666.0 L1187.3,666.0Z" fill="#68c840"/>
<path d="M1222.8,666.0 L1223.8,665.9 L1224.8,665.9 L1225.8,665.9 L1226.8,665.8 L1227.7,665.8 L1228.7,665.7 L1229.7,665.7 L1230.7,665.6 L1231.7,665.4 L1232.7,665.3 L1233.7,665.1 L1234.7,664.9 L1235.6,664.6 L1236.6,664.2 L1237.6,663.8 L1238.6,663.3 L1239.6,662.7 L1240.6,662.0 L1241.6,661.2 L1242.6,660.3 L1243.5,659.2 L1244.5,657.9 L1245.5,656.5 L1246.5,655.0 L1247.5,653.2 L1248.5,651.2 L1249.5,649.1 L1250.5,646.8 L1251.4,644.3 L1252.4,641.6 L1253.4,638.8 L1254.4,635.8 L1255.4,632.7 L1256.4,629.5 L1257.4,626.3 L1258.4,623.1 L1259.3,619.9 L1260.3,616.8 L1261.3,613.8 L1262.3,615.5 L1263.3,612.5 L1264.3,623.8 L1265.3,617.8 L1266.3,624.3 L1267.2,628.3 L1268.2,630.5 L1269.2,629.2 L1270.2,631.9 L1271.2,634.7 L1272.2,638.0 L1273.2,640.3 L1274.2,641.1 L1275.1,644.1 L1276.1,645.4 L1277.1,648.9 L1278.1,653.7 L1279.1,649.5 L1280.1,649.5 L1281.1,653.3 L1282.1,655.3 L1283.0,656.7 L1284.0,658.1 L1285.0,659.3 L1286.0,660.9 L1287.0,661.2 L1288.0,662.1 L1289.0,662.3 L1290.0,663.1 L1290.9,663.6 L1291.9,664.4 L1292.9,665.0 L1293.9,665.8 L1294.9,666.0 L1294.9,666.0 L1222.8,666.0Z" fill="#70e8be"/>
<line x1="1203.05" y1="431" x2="1203.05" y2="666" stroke="#22cc22" stroke-width="1.6"/>
<line x1="1269.71" y1="431" x2="1269.71" y2="666" stroke="#22eeee" stroke-width="1.6"/>
<path d="M1164.5,666.0 L1165.5,664.4 L1166.5,665.7 L1167.5,663.7 L1168.5,665.7 L1169.5,665.0 L1170.5,664.2 L1171.5,663.0 L1172.4,663.7 L1173.4,663.3 L1174.4,663.3 L1175.4,662.9 L1176.4,664.1 L1177.4,662.6 L1178.4,662.7 L1179.4,662.2 L1180.3,660.7 L1181.3,661.3 L1182.3,659.3 L1183.3,656.7 L1184.3,652.7 L1185.3,648.0 L1186.3,643.9 L1187.3,633.1 L1188.2,618.9 L1189.2,613.5 L1190.2,595.2 L1191.2,579.0 L1192.2,557.6 L1193.2,526.3 L1194.2,519.7 L1195.2,511.0 L1196.1,485.3 L1197.1,484.2 L1198.1,461.0 L1199.1,464.9 L1200.1,450.7 L1201.1,468.1 L1202.1,431.0 L1203.1,453.8 L1204.0,456.4 L1205.0,469.8 L1206.0,483.6 L1207.0,492.1 L1208.0,495.6 L1209.0,511.7 L1210.0,513.7 L1211.0,532.3 L1211.9,532.4 L1212.9,540.9 L1213.9,560.8 L1214.9,559.6 L1215.9,576.9 L1216.9,575.7 L1217.9,584.2 L1218.9,586.3 L1219.8,597.3 L1220.8,594.8 L1221.8,589.7 L1222.8,599.7 L1223.8,606.2 L1224.8,605.8 L1225.8,608.1 L1226.8,606.5 L1227.7,599.6 L1228.7,592.8 L1229.7,599.3 L1230.7,595.2 L1231.7,595.9 L1232.7,594.4 L1233.7,594.1 L1234.7,593.1 L1235.6,589.3 L1236.6,595.5 L1237.6,584.8 L1238.6,584.1 L1239.6,588.1 L1240.6,582.5 L1241.6,588.4 L1242.6,586.6 L1243.5,582.3 L1244.5,582.9 L1245.5,583.1 L1246.5,583.2 L1247.5,581.5 L1248.5,572.9 L1249.5,586.1 L1250.5,573.3 L1251.4,575.0 L1252.4,568.8 L1253.4,568.6 L1254.4,584.9 L1255.4,565.7 L1256.4,565.9 L1257.4,566.3 L1258.4,567.7 L1259.3,559.6 L1260.3,566.2 L1261.3,553.2 L1262.3,559.9 L1263.3,550.6 L1264.3,566.7 L1265.3,572.6 L1266.3,559.9 L1267.2,560.2 L1268.2,565.9 L1269.2,575.7 L1270.2,573.0 L1271.2,570.8 L1272.2,578.2 L1273.2,581.2 L1274.2,585.2 L1275.1,592.7 L1276.1,595.0 L1277.1,602.5 L1278.1,593.3 L1279.1,605.8 L1280.1,606.0 L1281.1,615.0 L1282.1,612.6 L1283.0,624.5 L1284.0,619.3 L1285.0,625.4 L1286.0,623.0 L1287.0,635.2 L1288.0,635.1 L1289.0,637.4 L1290.0,638.3 L1290.9,644.5 L1291.9,646.3 L1292.9,652.7 L1293.9,651.4 L1294.9,650.4 L1295.9,650.4 L1296.9,653.8 L1297.9,650.7 L1298.8,651.4 L1299.8,654.5 L1300.8,658.3 L1301.8,657.6 L1302.8,656.4 L1303.8,653.9 L1304.8,655.3 L1305.8,659.0 L1306.7,656.6 L1307.7,654.1 L1308.7,657.1 L1309.7,657.8 L1310.7,654.0 L1311.7,657.0 L1312.7,657.9 L1313.7,656.9 L1314.6,657.5 L1315.6,658.3 L1316.6,656.2 L1317.6,656.5 L1318.6,657.1 L1319.6,658.5 L1320.6,657.0 L1321.6,658.7 L1322.5,658.1 L1323.5,657.5 L1324.5,657.8 L1325.5,656.6 L1326.5,658.5 L1327.5,661.3 L1328.5,660.7 L1329.5,657.6 L1330.4,659.8 L1331.4,659.0 L1332.4,660.6 L1333.4,658.4 L1334.4,660.2 L1335.4,658.0 L1336.4,660.6 L1337.4,658.6 L1338.3,659.2 L1339.3,661.0 L1340.3,658.8 L1341.3,661.4 L1342.3,661.4 L1343.3,659.6 L1344.3,661.3 L1345.3,661.4 L1346.2,661.1 L1347.2,662.0 L1348.2,659.6 L1349.2,660.2 L1350.2,661.1 L1351.2,661.3 L1352.2,660.8 L1353.2,659.4 L1354.1,660.7 L1355.1,662.5 L1356.1,661.1 L1357.1,662.3 L1358.1,662.6 L1359.1,660.4 L1360.1,663.2 L1361.1,663.4 L1362.0,665.2 L1363.0,664.8 L1364.0,662.9 L1365.0,664.3" fill="none" stroke="#000" stroke-width="1.5" stroke-linejoin="round"/>
<path d="M1185.3,649.6 L1186.3,643.2 L1187.3,634.1 L1188.2,625.3 L1189.2,609.5 L1190.2,595.1 L1191.2,571.7 L1192.2,563.3 L1193.2,543.8 L1194.2,521.0 L1195.2,499.4 L1196.1,483.9 L1197.1,485.1 L1198.1,473.0 L1199.1,476.9 L1200.1,458.5 L1201.1,470.4 L1202.1,462.2 L1203.1,455.9 L1204.0,464.4 L1205.0,460.6 L1206.0,481.7 L1207.0,482.1 L1208.0,490.0 L1209.0,505.8 L1210.0,509.7 L1211.0,524.0 L1211.9,543.0 L1212.9,532.9 L1213.9,554.5 L1214.9,565.9 L1215.9,579.5 L1216.9,581.1 L1217.9,587.3 L1218.9,589.8 L1219.8,592.2 L1220.8,590.4 L1221.8,595.5 L1222.8,596.1 L1223.8,597.2 L1224.8,598.3 L1225.8,598.3 L1226.8,595.7 L1227.7,596.4 L1228.7,599.3 L1229.7,599.8 L1230.7,596.6 L1231.7,593.0 L1232.7,594.5 L1233.7,589.6 L1234.7,594.1 L1235.6,591.0 L1236.6,596.0 L1237.6,590.6 L1238.6,588.9 L1239.6,586.0 L1240.6,582.1 L1241.6,585.0 L1242.6,580.5 L1243.5,581.4 L1244.5,579.5 L1245.5,582.2 L1246.5,576.4 L1247.5,581.6 L1248.5,576.2 L1249.5,578.9 L1250.5,576.5 L1251.4,577.9 L1252.4,574.0 L1253.4,570.4 L1254.4,570.3 L1255.4,572.8 L1256.4,563.3 L1257.4,565.4 L1258.4,562.1 L1259.3,562.0 L1260.3,566.0 L1261.3,569.5 L1262.3,565.9 L1263.3,558.9 L1264.3,565.6 L1265.3,560.2 L1266.3,565.7 L1267.2,563.8 L1268.2,571.5 L1269.2,563.9 L1270.2,570.8 L1271.2,571.5 L1272.2,576.8 L1273.2,578.6 L1274.2,584.7 L1275.1,586.8 L1276.1,596.0 L1277.1,598.8 L1278.1,598.9 L1279.1,604.1 L1280.1,608.2 L1281.1,611.8 L1282.1,614.5 L1283.0,619.5 L1284.0,621.3 L1285.0,626.4 L1286.0,629.1 L1287.0,630.9 L1288.0,634.3 L1289.0,639.1 L1290.0,640.3 L1290.9,644.4 L1291.9,646.0 L1292.9,649.9 L1293.9,650.5 L1294.9,651.3 L1295.9,652.3 L1296.9,652.8 L1297.9,653.5 L1298.8,653.5 L1299.8,654.0 L1300.8,654.8 L1301.8,655.0 L1302.8,654.9 L1303.8,655.5 L1304.8,655.8 L1305.8,656.4" fill="none" stroke="#ff00ff" stroke-width="1.3" stroke-linejoin="round"/>
<rect x="1129.0" y="431.0" width="236.0" height="235.0" fill="none" stroke="#000" stroke-width="1.5"/>
<line x1="1126" y1="666" x2="1129" y2="666" stroke="#000" stroke-width="1.1"/>
<line x1="1126" y1="653.63" x2="1129" y2="653.63" stroke="#000" stroke-width="1.1"/>
<line x1="1126" y1="641.26" x2="1129" y2="641.26" stroke="#000" stroke-width="1.1"/>
<line x1="1126" y1="628.89" x2="1129" y2="628.89" stroke="#000" stroke-width="1.1"/>
<line x1="1126" y1="616.53" x2="1129" y2="616.53" stroke="#000" stroke-width="1.1"/>
<line x1="1126" y1="604.16" x2="1129" y2="604.16" stroke="#000" stroke-width="1.1"/>
<line x1="1126" y1="591.79" x2="1129" y2="591.79" stroke="#000" stroke-width="1.1"/>
<line x1="1126" y1="579.42" x2="1129" y2="579.42" stroke="#000" stroke-width="1.1"/>
<line x1="1126" y1="567.05" x2="1129" y2="567.05" stroke="#000" stroke-width="1.1"/>
<line x1="1126" y1="554.68" x2="1129" y2="554.68" stroke="#000" stroke-width="1.1"/>
<line x1="1126" y1="542.32" x2="1129" y2="542.32" stroke="#000" stroke-width="1.1"/>
<line x1="1126" y1="529.95" x2="1129" y2="529.95" stroke="#000" stroke-width="1.1"/>
<line x1="1126" y1="517.58" x2="1129" y2="517.58" stroke="#000" stroke-width="1.1"/>
<line x1="1126" y1="505.21" x2="1129" y2="505.21" stroke="#000" stroke-width="1.1"/>
<line x1="1126" y1="492.84" x2="1129" y2="492.84" stroke="#000" stroke-width="1.1"/>
<line x1="1126" y1="480.47" x2="1129" y2="480.47" stroke="#000" stroke-width="1.1"/>
<line x1="1126" y1="468.11" x2="1129" y2="468.11" stroke="#000" stroke-width="1.1"/>
<line x1="1126" y1="455.74" x2="1129" y2="455.74" stroke="#000" stroke-width="1.1"/>
<line x1="1126" y1="443.37" x2="1129" y2="443.37" stroke="#000" stroke-width="1.1"/>
<line x1="1126" y1="431" x2="1129" y2="431" stroke="#000" stroke-width="1.1"/>
<line x1="1123.5" y1="666" x2="1129" y2="666" stroke="#000" stroke-width="1.3"/>
<text x="1118" y="666" style="font-size:13.5px;font-weight:normal" transform="rotate(-90 1118 666)">0</text>
<line x1="1123.5" y1="616.53" x2="1129" y2="616.53" stroke="#000" stroke-width="1.3"/>
<text x="1118" y="616.53" style="font-size:13.5px;font-weight:normal" transform="rotate(-90 1118 616.53)">40</text>
<line x1="1123.5" y1="567.05" x2="1129" y2="567.05" stroke="#000" stroke-width="1.3"/>
<text x="1118" y="567.05" style="font-size:13.5px;font-weight:normal" transform="rotate(-90 1118 567.05)">80</text>
<line x1="1123.5" y1="517.58" x2="1129" y2="517.58" stroke="#000" stroke-width="1.3"/>
<text x="1118" y="517.58" style="font-size:13.5px;font-weight:normal" transform="rotate(-90 1118 517.58)">120</text>
<line x1="1123.5" y1="468.11" x2="1129" y2="468.11" stroke="#000" stroke-width="1.3"/>
<text x="1118" y="468.11" style="font-size:13.5px;font-weight:normal" transform="rotate(-90 1118 468.11)">160</text>
<line x1="1123.5" y1="431" x2="1129" y2="431" stroke="#000" stroke-width="1.3"/>
<text x="1118" y="431" style="font-size:13.5px;font-weight:normal" transform="rotate(-90 1118 431)">190</text>
<line x1="1129" y1="666" x2="1129" y2="671.5" stroke="#000" stroke-width="1.2"/>
<line x1="1143.75" y1="666" x2="1143.75" y2="669" stroke="#000" stroke-width="1"/>
<line x1="1158.5" y1="666" x2="1158.5" y2="669" stroke="#000" stroke-width="1"/>
<line x1="1173.25" y1="666" x2="1173.25" y2="669" stroke="#000" stroke-width="1"/>
<line x1="1188" y1="666" x2="1188" y2="671.5" stroke="#000" stroke-width="1.2"/>
<line x1="1202.75" y1="666" x2="1202.75" y2="669" stroke="#000" stroke-width="1"/>
<line x1="1217.5" y1="666" x2="1217.5" y2="669" stroke="#000" stroke-width="1"/>
<line x1="1232.25" y1="666" x2="1232.25" y2="669" stroke="#000" stroke-width="1"/>
<line x1="1247" y1="666" x2="1247" y2="671.5" stroke="#000" stroke-width="1.2"/>
<line x1="1261.75" y1="666" x2="1261.75" y2="669" stroke="#000" stroke-width="1"/>
<line x1="1276.5" y1="666" x2="1276.5" y2="669" stroke="#000" stroke-width="1"/>
<line x1="1291.25" y1="666" x2="1291.25" y2="669" stroke="#000" stroke-width="1"/>
<line x1="1306" y1="666" x2="1306" y2="671.5" stroke="#000" stroke-width="1.2"/>
<line x1="1320.75" y1="666" x2="1320.75" y2="669" stroke="#000" stroke-width="1"/>
<line x1="1335.5" y1="666" x2="1335.5" y2="669" stroke="#000" stroke-width="1"/>
<line x1="1350.25" y1="666" x2="1350.25" y2="669" stroke="#000" stroke-width="1"/>
<line x1="1365" y1="666" x2="1365" y2="671.5" stroke="#000" stroke-width="1.2"/>
<text x="1129" y="687.3" style="font-size:13.5px;font-weight:normal">0</text>
<text x="1188" y="687.3" style="font-size:13.5px;font-weight:normal">0.2</text>
<text x="1247" y="687.3" style="font-size:13.5px;font-weight:normal">0.4</text>
<text x="1306" y="687.3" style="font-size:13.5px;font-weight:normal">0.6</text>
<text x="1365" y="687.3" style="font-size:13.5px;font-weight:normal">0.8</text>
<text x="1206.55" y="449" style="font-size:13.5px;font-weight:normal">G1</text>
<text x="1273.21" y="449" style="font-size:13.5px;font-weight:normal">G2</text>
<text x="1233" y="428.5">siNC</text>
<path d="M1458.3,666.0 L1459.3,665.7 L1460.3,664.6 L1461.3,663.5 L1462.3,662.2 L1463.3,662.2 L1464.2,660.0 L1465.2,659.4 L1466.2,659.0 L1467.2,656.2 L1468.2,654.8 L1469.2,655.2 L1470.2,652.2 L1471.2,651.7 L1472.1,646.5 L1473.1,644.7 L1474.1,633.1 L1475.1,641.8 L1476.1,628.9 L1477.1,621.1 L1478.1,628.9 L1479.1,614.8 L1480.1,608.4 L1481.0,596.8 L1482.0,594.5 L1483.0,606.4 L1484.0,613.7 L1485.0,598.6 L1486.0,601.1 L1487.0,612.2 L1488.0,609.1 L1488.9,610.4 L1489.9,610.7 L1490.9,613.8 L1491.9,609.0 L1492.9,625.7 L1493.9,613.5 L1494.9,617.9 L1495.9,621.8 L1496.9,616.9 L1497.8,633.1 L1498.8,618.7 L1499.8,622.6 L1500.8,629.5 L1501.8,623.7 L1502.8,627.3 L1503.8,616.5 L1504.8,620.1 L1505.7,626.2 L1506.7,631.3 L1507.7,631.6 L1508.7,631.6 L1509.7,633.2 L1510.7,635.3 L1511.7,635.1 L1512.7,634.9 L1513.7,636.5 L1514.6,637.9 L1515.6,639.4 L1516.6,630.4 L1517.6,642.6 L1518.6,642.1 L1519.6,638.9 L1520.6,641.5 L1521.6,640.3 L1522.5,640.1 L1523.5,639.8 L1524.5,642.1 L1525.5,647.2 L1526.5,644.3 L1527.5,651.0 L1528.5,649.4 L1529.5,651.3 L1530.5,653.4 L1531.4,652.5 L1532.4,654.8 L1533.4,654.7 L1534.4,658.0 L1535.4,656.8 L1536.4,658.0 L1537.4,659.2 L1538.4,661.0 L1539.3,661.3 L1540.3,662.6 L1541.3,663.6 L1542.3,662.8 L1543.3,663.8 L1544.3,664.2 L1545.3,665.0 L1546.3,665.3 L1547.3,665.8 L1548.2,666.0 L1548.2,666.0 L1458.3,666.0Z" fill="#dcdc78"/>
<path d="M1447.4,666.0 L1448.4,665.9 L1449.4,665.8 L1450.4,665.7 L1451.4,665.5 L1452.4,665.1 L1453.4,664.5 L1454.4,663.5 L1455.3,661.9 L1456.3,659.7 L1457.3,656.4 L1458.3,651.9 L1459.3,645.9 L1460.3,638.0 L1461.3,628.1 L1462.3,616.1 L1463.3,602.1 L1464.2,586.6 L1465.2,569.9 L1466.2,553.0 L1467.2,536.7 L1468.2,522.2 L1469.2,510.5 L1470.2,502.4 L1471.2,498.7 L1472.1,499.7 L1473.1,505.2 L1474.1,514.8 L1475.1,527.8 L1476.1,543.1 L1477.1,559.8 L1478.1,576.7 L1479.1,593.0 L1480.1,608.0 L1481.0,621.2 L1482.0,632.3 L1483.0,641.4 L1484.0,648.5 L1485.0,653.9 L1486.0,657.9 L1487.0,660.7 L1488.0,662.6 L1488.9,663.9 L1489.9,664.8 L1490.9,665.3 L1491.9,665.6 L1492.9,665.8 L1493.9,665.9 L1494.9,665.9 L1494.9,666.0 L1447.4,666.0Z" fill="#80d872"/>
<path d="M1480.1,665.9 L1481.0,665.9 L1482.0,665.9 L1483.0,665.9 L1484.0,665.9 L1485.0,665.8 L1486.0,665.8 L1487.0,665.7 L1488.0,665.6 L1488.9,665.6 L1489.9,665.5 L1490.9,665.4 L1491.9,665.2 L1492.9,665.1 L1493.9,664.9 L1494.9,664.7 L1495.9,664.4 L1496.9,664.1 L1497.8,663.8 L1498.8,663.4 L1499.8,663.0 L1500.8,662.5 L1501.8,661.9 L1502.8,661.3 L1503.8,660.6 L1504.8,659.9 L1505.7,659.0 L1506.7,658.1 L1507.7,657.1 L1508.7,656.1 L1509.7,654.9 L1510.7,653.7 L1511.7,652.4 L1512.7,651.0 L1513.7,649.5 L1514.6,648.0 L1515.6,646.5 L1516.6,644.9 L1517.6,643.2 L1518.6,641.6 L1519.6,639.9 L1520.6,638.3 L1521.6,636.7 L1522.5,635.2 L1523.5,633.7 L1524.5,632.3 L1525.5,630.9 L1526.5,629.7 L1527.5,628.7 L1528.5,627.7 L1529.5,626.9 L1530.5,626.3 L1531.4,625.9 L1532.4,625.6 L1533.4,625.5 L1534.4,625.6 L1535.4,625.8 L1536.4,626.3 L1537.4,626.9 L1538.4,627.7 L1539.3,628.6 L1540.3,629.7 L1541.3,630.9 L1542.3,632.2 L1543.3,633.6 L1544.3,635.1 L1545.3,636.6 L1546.3,638.2 L1547.3,639.8 L1548.2,641.5 L1549.2,643.1 L1550.2,644.7 L1551.2,646.3 L1552.2,647.9 L1553.2,649.4 L1554.2,650.9 L1555.2,652.3 L1556.1,653.6 L1557.1,654.8 L1558.1,656.0 L1559.1,657.1 L1560.1,658.1 L1561.1,659.0 L1562.1,659.8 L1563.1,660.6 L1564.1,661.3 L1565.0,661.9 L1566.0,662.5 L1567.0,662.9 L1568.0,663.4 L1569.0,663.8 L1570.0,664.1 L1571.0,664.4 L1572.0,664.7 L1572.9,664.9 L1573.9,665.1 L1574.9,665.2 L1575.9,665.4 L1576.9,665.5 L1577.9,665.6 L1578.9,665.6 L1579.9,665.7 L1580.9,665.8 L1581.8,665.8 L1582.8,665.8 L1583.8,665.9 L1584.8,665.9 L1585.8,665.9 L1586.8,665.9 L1586.8,666.0 L1480.1,666.0Z" fill="#7ef4f4"/>
<path d="M1458.3,666.0 L1459.3,665.7 L1460.3,664.6 L1461.3,663.5 L1462.3,662.2 L1463.3,662.2 L1464.2,660.0 L1465.2,659.4 L1466.2,659.0 L1467.2,656.2 L1468.2,654.8 L1469.2,655.2 L1470.2,652.2 L1471.2,651.7 L1472.1,646.5 L1473.1,644.7 L1474.1,633.1 L1475.1,641.8 L1476.1,628.9 L1477.1,621.1 L1478.1,628.9 L1479.1,614.8 L1480.1,608.4 L1481.0,621.2 L1482.0,632.3 L1483.0,641.4 L1484.0,648.5 L1485.0,653.9 L1486.0,657.9 L1487.0,660.7 L1488.0,662.6 L1488.9,663.9 L1489.9,664.8 L1490.9,665.3 L1491.9,665.6 L1492.9,665.8 L1493.9,665.9 L1494.9,665.9 L1494.9,666.0 L1458.3,666.0Z" fill="#68c840"/>
<path d="M1480.1,665.9 L1481.0,665.9 L1482.0,665.9 L1483.0,665.9 L1484.0,665.9 L1485.0,665.8 L1486.0,665.8 L1487.0,665.7 L1488.0,665.6 L1488.9,665.6 L1489.9,665.5 L1490.9,665.4 L1491.9,665.2 L1492.9,665.1 L1493.9,664.9 L1494.9,664.7 L1495.9,664.4 L1496.9,664.1 L1497.8,663.8 L1498.8,663.4 L1499.8,663.0 L1500.8,662.5 L1501.8,661.9 L1502.8,661.3 L1503.8,660.6 L1504.8,659.9 L1505.7,659.0 L1506.7,658.1 L1507.7,657.1 L1508.7,656.1 L1509.7,654.9 L1510.7,653.7 L1511.7,652.4 L1512.7,651.0 L1513.7,649.5 L1514.6,648.0 L1515.6,646.5 L1516.6,644.9 L1517.6,643.2 L1518.6,642.1 L1519.6,639.9 L1520.6,641.5 L1521.6,640.3 L1522.5,640.1 L1523.5,639.8 L1524.5,642.1 L1525.5,647.2 L1526.5,644.3 L1527.5,651.0 L1528.5,649.4 L1529.5,651.3 L1530.5,653.4 L1531.4,652.5 L1532.4,654.8 L1533.4,654.7 L1534.4,658.0 L1535.4,656.8 L1536.4,658.0 L1537.4,659.2 L1538.4,661.0 L1539.3,661.3 L1540.3,662.6 L1541.3,663.6 L1542.3,662.8 L1543.3,663.8 L1544.3,664.2 L1545.3,665.0 L1546.3,665.3 L1547.3,665.8 L1548.2,666.0 L1548.2,666.0 L1480.1,666.0Z" fill="#70e8be"/>
<line x1="1471.45" y1="431" x2="1471.45" y2="666" stroke="#22cc22" stroke-width="1.6"/>
<line x1="1533.16" y1="431" x2="1533.16" y2="666" stroke="#22eeee" stroke-width="1.6"/>
<path d="M1429.6,666.0 L1430.6,666.0 L1431.6,666.0 L1432.6,666.0 L1433.6,665.8 L1434.6,665.2 L1435.6,663.4 L1436.6,662.8 L1437.6,663.3 L1438.5,664.4 L1439.5,661.9 L1440.5,665.3 L1441.5,665.7 L1442.5,662.6 L1443.5,662.6 L1444.5,662.5 L1445.5,662.0 L1446.4,663.8 L1447.4,662.9 L1448.4,659.5 L1449.4,659.5 L1450.4,661.2 L1451.4,655.7 L1452.4,658.2 L1453.4,655.4 L1454.4,650.8 L1455.3,650.4 L1456.3,644.6 L1457.3,635.0 L1458.3,626.7 L1459.3,612.4 L1460.3,599.4 L1461.3,593.3 L1462.3,577.6 L1463.3,557.2 L1464.2,542.9 L1465.2,532.4 L1466.2,507.3 L1467.2,487.7 L1468.2,486.4 L1469.2,461.3 L1470.2,474.8 L1471.2,469.8 L1472.1,456.5 L1473.1,478.9 L1474.1,488.5 L1475.1,488.2 L1476.1,498.6 L1477.1,498.1 L1478.1,523.8 L1479.1,526.2 L1480.1,511.8 L1481.0,542.3 L1482.0,564.0 L1483.0,557.6 L1484.0,567.2 L1485.0,572.3 L1486.0,586.7 L1487.0,597.0 L1488.0,595.3 L1488.9,603.7 L1489.9,616.1 L1490.9,610.1 L1491.9,615.6 L1492.9,611.6 L1493.9,617.0 L1494.9,613.6 L1495.9,616.0 L1496.9,615.2 L1497.8,617.5 L1498.8,619.0 L1499.8,617.7 L1500.8,616.1 L1501.8,617.0 L1502.8,613.4 L1503.8,617.5 L1504.8,617.0 L1505.7,612.6 L1506.7,619.3 L1507.7,618.0 L1508.7,621.9 L1509.7,619.8 L1510.7,614.6 L1511.7,618.5 L1512.7,614.7 L1513.7,622.5 L1514.6,623.3 L1515.6,617.0 L1516.6,620.9 L1517.6,605.8 L1518.6,608.9 L1519.6,616.0 L1520.6,610.6 L1521.6,610.0 L1522.5,603.6 L1523.5,602.7 L1524.5,598.2 L1525.5,597.5 L1526.5,605.4 L1527.5,610.4 L1528.5,605.2 L1529.5,609.3 L1530.5,605.6 L1531.4,611.2 L1532.4,608.7 L1533.4,611.3 L1534.4,614.0 L1535.4,615.8 L1536.4,613.3 L1537.4,609.3 L1538.4,616.7 L1539.3,621.6 L1540.3,620.8 L1541.3,624.4 L1542.3,630.2 L1543.3,627.5 L1544.3,626.0 L1545.3,632.8 L1546.3,636.6 L1547.3,634.4 L1548.2,632.9 L1549.2,636.7 L1550.2,638.2 L1551.2,637.1 L1552.2,640.2 L1553.2,643.8 L1554.2,646.9 L1555.2,647.3 L1556.1,648.9 L1557.1,648.3 L1558.1,652.5 L1559.1,649.5 L1560.1,652.7 L1561.1,654.3 L1562.1,653.0 L1563.1,658.3 L1564.1,657.0 L1565.0,657.3 L1566.0,655.5 L1567.0,657.7 L1568.0,655.0 L1569.0,658.0 L1570.0,656.8 L1571.0,658.9 L1572.0,656.4 L1572.9,658.6 L1573.9,657.8 L1574.9,659.4 L1575.9,660.5 L1576.9,659.5 L1577.9,657.8 L1578.9,660.8 L1579.9,661.6 L1580.9,660.0 L1581.8,658.6 L1582.8,661.2 L1583.8,660.6 L1584.8,659.7 L1585.8,660.5 L1586.8,659.7 L1587.8,658.6 L1588.8,660.3 L1589.8,660.5 L1590.7,659.5 L1591.7,660.7 L1592.7,661.9 L1593.7,662.1 L1594.7,662.3 L1595.7,658.4 L1596.7,661.1 L1597.7,660.4 L1598.6,660.3 L1599.6,662.5 L1600.6,660.6 L1601.6,662.2 L1602.6,664.2 L1603.6,661.9 L1604.6,663.1 L1605.6,662.3 L1606.6,661.5 L1607.5,659.1 L1608.5,662.7 L1609.5,662.3 L1610.5,661.7 L1611.5,661.9 L1612.5,662.4 L1613.5,663.6 L1614.5,663.5 L1615.4,662.6 L1616.4,663.8 L1617.4,663.3 L1618.4,664.0 L1619.4,661.1 L1620.4,664.4 L1621.4,660.3 L1622.4,663.4 L1623.4,664.0 L1624.3,664.2 L1625.3,661.8 L1626.3,661.6 L1627.3,663.9 L1628.3,662.5 L1629.3,663.2 L1630.3,663.3 L1631.3,662.9 L1632.2,662.2 L1633.2,665.5 L1634.2,665.9 L1635.2,663.0 L1636.2,663.4" fill="none" stroke="#000" stroke-width="1.5" stroke-linejoin="round"/>
<path d="M1453.4,654.6 L1454.4,651.1 L1455.3,646.9 L1456.3,644.0 L1457.3,634.7 L1458.3,627.6 L1459.3,619.2 L1460.3,599.1 L1461.3,591.3 L1462.3,576.1 L1463.3,558.2 L1464.2,539.0 L1465.2,525.3 L1466.2,502.1 L1467.2,495.9 L1468.2,490.6 L1469.2,468.3 L1470.2,457.1 L1471.2,457.9 L1472.1,463.7 L1473.1,474.1 L1474.1,469.3 L1475.1,489.1 L1476.1,499.8 L1477.1,499.5 L1478.1,520.6 L1479.1,521.6 L1480.1,532.4 L1481.0,546.2 L1482.0,554.0 L1483.0,563.0 L1484.0,565.5 L1485.0,578.2 L1486.0,590.3 L1487.0,596.9 L1488.0,601.1 L1488.9,606.4 L1489.9,610.9 L1490.9,612.3 L1491.9,615.2 L1492.9,613.7 L1493.9,615.1 L1494.9,616.3 L1495.9,616.5 L1496.9,618.4 L1497.8,616.2 L1498.8,617.1 L1499.8,618.5 L1500.8,618.0 L1501.8,619.1 L1502.8,615.1 L1503.8,619.5 L1504.8,618.3 L1505.7,618.8 L1506.7,620.6 L1507.7,619.7 L1508.7,620.4 L1509.7,619.6 L1510.7,619.4 L1511.7,618.5 L1512.7,618.2 L1513.7,619.6 L1514.6,619.6 L1515.6,618.8 L1516.6,617.7 L1517.6,617.5 L1518.6,612.3 L1519.6,611.8 L1520.6,610.4 L1521.6,610.8 L1522.5,607.9 L1523.5,607.3 L1524.5,602.1 L1525.5,602.0 L1526.5,603.5 L1527.5,606.1 L1528.5,609.2 L1529.5,608.7 L1530.5,609.8 L1531.4,609.5 L1532.4,610.3 L1533.4,612.9 L1534.4,613.4 L1535.4,613.2 L1536.4,615.0 L1537.4,617.8 L1538.4,622.4 L1539.3,622.0 L1540.3,621.9 L1541.3,624.6 L1542.3,625.4 L1543.3,628.8 L1544.3,630.1 L1545.3,631.2 L1546.3,633.1 L1547.3,635.3 L1548.2,636.3 L1549.2,637.8 L1550.2,639.4 L1551.2,643.2 L1552.2,643.9 L1553.2,645.4 L1554.2,646.7 L1555.2,648.5 L1556.1,648.1 L1557.1,650.4 L1558.1,651.0 L1559.1,653.1 L1560.1,653.2 L1561.1,653.7 L1562.1,654.6 L1563.1,654.7 L1564.1,654.9 L1565.0,656.6 L1566.0,656.9 L1567.0,656.5 L1568.0,657.0 L1569.0,657.5 L1570.0,657.9 L1571.0,657.7" fill="none" stroke="#ff00ff" stroke-width="1.3" stroke-linejoin="round"/>
<rect x="1400.0" y="431.0" width="236.2" height="235.0" fill="none" stroke="#000" stroke-width="1.5"/>
<line x1="1397" y1="666" x2="1400" y2="666" stroke="#000" stroke-width="1.1"/>
<line x1="1397" y1="652.49" x2="1400" y2="652.49" stroke="#000" stroke-width="1.1"/>
<line x1="1397" y1="638.99" x2="1400" y2="638.99" stroke="#000" stroke-width="1.1"/>
<line x1="1397" y1="625.48" x2="1400" y2="625.48" stroke="#000" stroke-width="1.1"/>
<line x1="1397" y1="611.98" x2="1400" y2="611.98" stroke="#000" stroke-width="1.1"/>
<line x1="1397" y1="598.47" x2="1400" y2="598.47" stroke="#000" stroke-width="1.1"/>
<line x1="1397" y1="584.97" x2="1400" y2="584.97" stroke="#000" stroke-width="1.1"/>
<line x1="1397" y1="571.46" x2="1400" y2="571.46" stroke="#000" stroke-width="1.1"/>
<line x1="1397" y1="557.95" x2="1400" y2="557.95" stroke="#000" stroke-width="1.1"/>
<line x1="1397" y1="544.45" x2="1400" y2="544.45" stroke="#000" stroke-width="1.1"/>
<line x1="1397" y1="530.94" x2="1400" y2="530.94" stroke="#000" stroke-width="1.1"/>
<line x1="1397" y1="517.44" x2="1400" y2="517.44" stroke="#000" stroke-width="1.1"/>
<line x1="1397" y1="503.93" x2="1400" y2="503.93" stroke="#000" stroke-width="1.1"/>
<line x1="1397" y1="490.43" x2="1400" y2="490.43" stroke="#000" stroke-width="1.1"/>
<line x1="1397" y1="476.92" x2="1400" y2="476.92" stroke="#000" stroke-width="1.1"/>
<line x1="1397" y1="463.41" x2="1400" y2="463.41" stroke="#000" stroke-width="1.1"/>
<line x1="1397" y1="449.91" x2="1400" y2="449.91" stroke="#000" stroke-width="1.1"/>
<line x1="1397" y1="436.4" x2="1400" y2="436.4" stroke="#000" stroke-width="1.1"/>
<line x1="1394.5" y1="666" x2="1400" y2="666" stroke="#000" stroke-width="1.3"/>
<text x="1389" y="666" style="font-size:13.5px;font-weight:normal" transform="rotate(-90 1389 666)">0</text>
<line x1="1394.5" y1="611.98" x2="1400" y2="611.98" stroke="#000" stroke-width="1.3"/>
<text x="1389" y="611.98" style="font-size:13.5px;font-weight:normal" transform="rotate(-90 1389 611.98)">40</text>
<line x1="1394.5" y1="557.95" x2="1400" y2="557.95" stroke="#000" stroke-width="1.3"/>
<text x="1389" y="557.95" style="font-size:13.5px;font-weight:normal" transform="rotate(-90 1389 557.95)">80</text>
<line x1="1394.5" y1="503.93" x2="1400" y2="503.93" stroke="#000" stroke-width="1.3"/>
<text x="1389" y="503.93" style="font-size:13.5px;font-weight:normal" transform="rotate(-90 1389 503.93)">120</text>
<line x1="1394.5" y1="431" x2="1400" y2="431" stroke="#000" stroke-width="1.3"/>
<text x="1389" y="431" style="font-size:13.5px;font-weight:normal" transform="rotate(-90 1389 431)">174</text>
<line x1="1400" y1="666" x2="1400" y2="671.5" stroke="#000" stroke-width="1.2"/>
<line x1="1414.76" y1="666" x2="1414.76" y2="669" stroke="#000" stroke-width="1"/>
<line x1="1429.53" y1="666" x2="1429.53" y2="669" stroke="#000" stroke-width="1"/>
<line x1="1444.29" y1="666" x2="1444.29" y2="669" stroke="#000" stroke-width="1"/>
<line x1="1459.05" y1="666" x2="1459.05" y2="671.5" stroke="#000" stroke-width="1.2"/>
<line x1="1473.81" y1="666" x2="1473.81" y2="669" stroke="#000" stroke-width="1"/>
<line x1="1488.58" y1="666" x2="1488.58" y2="669" stroke="#000" stroke-width="1"/>
<line x1="1503.34" y1="666" x2="1503.34" y2="669" stroke="#000" stroke-width="1"/>
<line x1="1518.1" y1="666" x2="1518.1" y2="671.5" stroke="#000" stroke-width="1.2"/>
<line x1="1532.86" y1="666" x2="1532.86" y2="669" stroke="#000" stroke-width="1"/>
<line x1="1547.62" y1="666" x2="1547.62" y2="669" stroke="#000" stroke-width="1"/>
<line x1="1562.39" y1="666" x2="1562.39" y2="669" stroke="#000" stroke-width="1"/>
<line x1="1577.15" y1="666" x2="1577.15" y2="671.5" stroke="#000" stroke-width="1.2"/>
<line x1="1591.91" y1="666" x2="1591.91" y2="669" stroke="#000" stroke-width="1"/>
<line x1="1606.68" y1="666" x2="1606.68" y2="669" stroke="#000" stroke-width="1"/>
<line x1="1621.44" y1="666" x2="1621.44" y2="669" stroke="#000" stroke-width="1"/>
<line x1="1636.2" y1="666" x2="1636.2" y2="671.5" stroke="#000" stroke-width="1.2"/>
<text x="1400" y="687.3" style="font-size:13.5px;font-weight:normal">0</text>
<text x="1459.05" y="687.3" style="font-size:13.5px;font-weight:normal">0.2</text>
<text x="1518.1" y="687.3" style="font-size:13.5px;font-weight:normal">0.4</text>
<text x="1577.15" y="687.3" style="font-size:13.5px;font-weight:normal">0.6</text>
<text x="1636.2" y="687.3" style="font-size:13.5px;font-weight:normal">0.8</text>
<text x="1474.95" y="449" style="font-size:13.5px;font-weight:normal">G1</text>
<text x="1536.66" y="449" style="font-size:13.5px;font-weight:normal">G2</text>
<text x="1511.4" y="428.5">siOXTR</text>
<path d="M1184.8,948.0 L1185.8,945.9 L1186.8,943.3 L1187.8,937.7 L1188.8,933.4 L1189.8,931.9 L1190.8,924.5 L1191.8,926.1 L1192.7,920.6 L1193.7,917.0 L1194.7,917.4 L1195.7,907.4 L1196.7,895.9 L1197.7,904.6 L1198.7,890.2 L1199.7,891.1 L1200.6,874.4 L1201.6,877.5 L1202.6,871.2 L1203.6,866.4 L1204.6,866.3 L1205.6,878.2 L1206.6,853.9 L1207.6,875.4 L1208.6,864.2 L1209.5,865.3 L1210.5,880.2 L1211.5,877.0 L1212.5,874.2 L1213.5,886.0 L1214.5,892.8 L1215.5,906.2 L1216.5,896.1 L1217.4,895.4 L1218.4,896.4 L1219.4,900.2 L1220.4,894.7 L1221.4,901.1 L1222.4,900.3 L1223.4,897.9 L1224.4,906.1 L1225.4,904.5 L1226.3,894.8 L1227.3,901.6 L1228.3,911.8 L1229.3,907.8 L1230.3,906.3 L1231.3,904.8 L1232.3,910.1 L1233.3,913.7 L1234.2,915.5 L1235.2,912.0 L1236.2,914.3 L1237.2,918.2 L1238.2,918.6 L1239.2,920.8 L1240.2,919.2 L1241.2,924.4 L1242.2,923.0 L1243.1,923.8 L1244.1,926.2 L1245.1,930.4 L1246.1,927.9 L1247.1,932.6 L1248.1,931.7 L1249.1,934.3 L1250.1,936.4 L1251.0,934.5 L1252.0,935.3 L1253.0,936.5 L1254.0,937.0 L1255.0,938.7 L1256.0,939.6 L1257.0,939.8 L1258.0,938.9 L1259.0,940.5 L1259.9,942.1 L1260.9,942.2 L1261.9,943.4 L1262.9,944.1 L1263.9,944.3 L1264.9,945.4 L1265.9,946.3 L1266.9,946.5 L1267.8,946.9 L1268.8,947.3 L1269.8,947.8 L1270.8,948.0 L1270.8,948.0 L1184.8,948.0Z" fill="#dcdc78"/>
<path d="M1180.9,947.9 L1181.9,947.9 L1182.9,947.7 L1183.8,947.2 L1184.8,946.3 L1185.8,944.4 L1186.8,940.9 L1187.8,935.0 L1188.8,925.5 L1189.8,911.5 L1190.8,892.3 L1191.8,868.1 L1192.7,840.3 L1193.7,811.6 L1194.7,785.6 L1195.7,766.3 L1196.7,756.9 L1197.7,759.2 L1198.7,772.6 L1199.7,794.9 L1200.6,822.4 L1201.6,851.1 L1202.6,877.8 L1203.6,900.2 L1204.6,917.4 L1205.6,929.6 L1206.6,937.6 L1207.6,942.5 L1208.6,945.2 L1209.5,946.7 L1210.5,947.4 L1211.5,947.8 L1212.5,947.9 L1213.5,948.0 L1213.5,948.0 L1180.9,948.0Z" fill="#80d872"/>
<path d="M1219.4,948.0 L1220.4,947.9 L1221.4,947.9 L1222.4,947.9 L1223.4,947.8 L1224.4,947.8 L1225.4,947.7 L1226.3,947.6 L1227.3,947.5 L1228.3,947.3 L1229.3,947.1 L1230.3,946.8 L1231.3,946.4 L1232.3,946.0 L1233.3,945.4 L1234.2,944.7 L1235.2,943.9 L1236.2,943.0 L1237.2,941.8 L1238.2,940.5 L1239.2,939.0 L1240.2,937.3 L1241.2,935.3 L1242.2,933.2 L1243.1,930.8 L1244.1,928.2 L1245.1,925.5 L1246.1,922.6 L1247.1,919.6 L1248.1,916.5 L1249.1,913.3 L1250.1,910.3 L1251.0,907.3 L1252.0,904.4 L1253.0,901.8 L1254.0,899.5 L1255.0,897.5 L1256.0,895.9 L1257.0,894.8 L1258.0,894.1 L1259.0,893.9 L1259.9,894.2 L1260.9,894.9 L1261.9,896.1 L1262.9,897.8 L1263.9,899.8 L1264.9,902.2 L1265.9,904.8 L1266.9,907.7 L1267.8,910.7 L1268.8,913.8 L1269.8,916.9 L1270.8,920.0 L1271.8,923.0 L1272.8,925.9 L1273.8,928.6 L1274.8,931.2 L1275.8,933.5 L1276.7,935.6 L1277.7,937.6 L1278.7,939.2 L1279.7,940.7 L1280.7,942.0 L1281.7,943.1 L1282.7,944.1 L1283.7,944.8 L1284.6,945.5 L1285.6,946.0 L1286.6,946.5 L1287.6,946.8 L1288.6,947.1 L1289.6,947.3 L1290.6,947.5 L1291.6,947.6 L1292.6,947.7 L1293.5,947.8 L1294.5,947.8 L1295.5,947.9 L1296.5,947.9 L1297.5,947.9 L1297.5,948.0 L1219.4,948.0Z" fill="#7ef4f4"/>
<path d="M1184.8,948.0 L1185.8,945.9 L1186.8,943.3 L1187.8,937.7 L1188.8,933.4 L1189.8,931.9 L1190.8,924.5 L1191.8,926.1 L1192.7,920.6 L1193.7,917.0 L1194.7,917.4 L1195.7,907.4 L1196.7,895.9 L1197.7,904.6 L1198.7,890.2 L1199.7,891.1 L1200.6,874.4 L1201.6,877.5 L1202.6,877.8 L1203.6,900.2 L1204.6,917.4 L1205.6,929.6 L1206.6,937.6 L1207.6,942.5 L1208.6,945.2 L1209.5,946.7 L1210.5,947.4 L1211.5,947.8 L1212.5,947.9 L1213.5,948.0 L1213.5,948.0 L1184.8,948.0Z" fill="#68c840"/>
<path d="M1219.4,948.0 L1220.4,947.9 L1221.4,947.9 L1222.4,947.9 L1223.4,947.8 L1224.4,947.8 L1225.4,947.7 L1226.3,947.6 L1227.3,947.5 L1228.3,947.3 L1229.3,947.1 L1230.3,946.8 L1231.3,946.4 L1232.3,946.0 L1233.3,945.4 L1234.2,944.7 L1235.2,943.9 L1236.2,943.0 L1237.2,941.8 L1238.2,940.5 L1239.2,939.0 L1240.2,937.3 L1241.2,935.3 L1242.2,933.2 L1243.1,930.8 L1244.1,928.2 L1245.1,930.4 L1246.1,927.9 L1247.1,932.6 L1248.1,931.7 L1249.1,934.3 L1250.1,936.4 L1251.0,934.5 L1252.0,935.3 L1253.0,936.5 L1254.0,937.0 L1255.0,938.7 L1256.0,939.6 L1257.0,939.8 L1258.0,938.9 L1259.0,940.5 L1259.9,942.1 L1260.9,942.2 L1261.9,943.4 L1262.9,944.1 L1263.9,944.3 L1264.9,945.4 L1265.9,946.3 L1266.9,946.5 L1267.8,946.9 L1268.8,947.3 L1269.8,947.8 L1270.8,948.0 L1270.8,948.0 L1219.4,948.0Z" fill="#70e8be"/>
<line x1="1197" y1="713.5" x2="1197" y2="948" stroke="#22cc22" stroke-width="1.6"/>
<line x1="1258.6" y1="713.5" x2="1258.6" y2="948" stroke="#22eeee" stroke-width="1.6"/>
<path d="M1138.4,946.4 L1139.4,948.0 L1140.4,948.0 L1141.3,947.3 L1142.3,948.0 L1143.3,947.5 L1144.3,947.8 L1145.3,947.7 L1146.3,944.4 L1147.3,946.3 L1148.3,946.9 L1149.3,945.5 L1150.2,946.9 L1151.2,945.7 L1152.2,946.1 L1153.2,944.8 L1154.2,947.7 L1155.2,945.5 L1156.2,946.1 L1157.2,947.2 L1158.1,945.0 L1159.1,946.8 L1160.1,944.2 L1161.1,945.3 L1162.1,945.0 L1163.1,945.5 L1164.1,944.5 L1165.1,947.2 L1166.1,945.1 L1167.0,945.7 L1168.0,944.7 L1169.0,944.9 L1170.0,944.1 L1171.0,945.5 L1172.0,942.6 L1173.0,941.9 L1174.0,944.5 L1174.9,944.2 L1175.9,943.7 L1176.9,942.5 L1177.9,941.7 L1178.9,945.0 L1179.9,944.2 L1180.9,944.1 L1181.9,942.8 L1182.9,942.1 L1183.8,938.2 L1184.8,938.8 L1185.8,926.5 L1186.8,915.3 L1187.8,908.5 L1188.8,888.6 L1189.8,864.1 L1190.8,829.3 L1191.8,819.8 L1192.7,802.3 L1193.7,767.5 L1194.7,748.7 L1195.7,746.5 L1196.7,726.3 L1197.7,745.2 L1198.7,755.1 L1199.7,777.0 L1200.6,775.6 L1201.6,783.6 L1202.6,809.3 L1203.6,803.5 L1204.6,837.7 L1205.6,838.8 L1206.6,852.7 L1207.6,839.7 L1208.6,853.6 L1209.5,855.5 L1210.5,859.8 L1211.5,874.4 L1212.5,882.7 L1213.5,878.7 L1214.5,878.3 L1215.5,885.8 L1216.5,885.3 L1217.4,886.9 L1218.4,897.4 L1219.4,893.3 L1220.4,889.7 L1221.4,899.6 L1222.4,905.8 L1223.4,901.9 L1224.4,904.0 L1225.4,902.8 L1226.3,908.0 L1227.3,906.6 L1228.3,913.2 L1229.3,904.3 L1230.3,901.8 L1231.3,902.1 L1232.3,909.5 L1233.3,903.5 L1234.2,912.1 L1235.2,901.6 L1236.2,901.7 L1237.2,903.6 L1238.2,898.8 L1239.2,898.8 L1240.2,895.5 L1241.2,897.4 L1242.2,896.4 L1243.1,902.8 L1244.1,899.7 L1245.1,896.9 L1246.1,893.8 L1247.1,894.2 L1248.1,888.5 L1249.1,895.9 L1250.1,893.2 L1251.0,890.9 L1252.0,891.8 L1253.0,888.4 L1254.0,891.4 L1255.0,883.4 L1256.0,888.8 L1257.0,882.7 L1258.0,886.1 L1259.0,881.3 L1259.9,892.5 L1260.9,886.3 L1261.9,890.4 L1262.9,889.0 L1263.9,887.3 L1264.9,896.9 L1265.9,899.1 L1266.9,899.6 L1267.8,897.6 L1268.8,906.4 L1269.8,902.8 L1270.8,909.1 L1271.8,910.9 L1272.8,911.6 L1273.8,912.8 L1274.8,918.2 L1275.8,920.9 L1276.7,923.0 L1277.7,925.9 L1278.7,932.6 L1279.7,930.8 L1280.7,932.3 L1281.7,932.9 L1282.7,932.5 L1283.7,935.5 L1284.6,937.3 L1285.6,939.7 L1286.6,939.0 L1287.6,938.4 L1288.6,938.1 L1289.6,941.1 L1290.6,940.0 L1291.6,939.5 L1292.6,938.6 L1293.5,940.8 L1294.5,941.9 L1295.5,942.1 L1296.5,941.7 L1297.5,942.0 L1298.5,940.2 L1299.5,939.9 L1300.5,940.4 L1301.4,939.8 L1302.4,941.8 L1303.4,940.8 L1304.4,941.7 L1305.4,941.2 L1306.4,939.8 L1307.4,941.3 L1308.4,943.5 L1309.4,941.6 L1310.3,942.3 L1311.3,943.3 L1312.3,942.5 L1313.3,940.5 L1314.3,939.7 L1315.3,942.4 L1316.3,940.7 L1317.3,940.6 L1318.3,943.4 L1319.2,942.2 L1320.2,942.3 L1321.2,942.1 L1322.2,944.2 L1323.2,942.8 L1324.2,941.3 L1325.2,941.2 L1326.2,940.6 L1327.1,943.1 L1328.1,940.7 L1329.1,942.2 L1330.1,944.5 L1331.1,942.2 L1332.1,943.5 L1333.1,942.6 L1334.1,943.4 L1335.1,942.0 L1336.0,943.2 L1337.0,943.8 L1338.0,942.5 L1339.0,943.3 L1340.0,944.1 L1341.0,942.3 L1342.0,944.2 L1343.0,944.4 L1343.9,944.4 L1344.9,945.4 L1345.9,944.5 L1346.9,941.9 L1347.9,944.9 L1348.9,944.0 L1349.9,945.2 L1350.9,944.7 L1351.9,942.5 L1352.8,943.2 L1353.8,944.8 L1354.8,944.2 L1355.8,945.1 L1356.8,945.1 L1357.8,945.3 L1358.8,945.3 L1359.8,944.1 L1360.7,943.8 L1361.7,944.0 L1362.7,944.7 L1363.7,946.0 L1364.7,944.7" fill="none" stroke="#000" stroke-width="1.5" stroke-linejoin="round"/>
<path d="M1183.8,938.5 L1184.8,936.7 L1185.8,928.0 L1186.8,918.1 L1187.8,906.3 L1188.8,884.8 L1189.8,861.8 L1190.8,835.9 L1191.8,812.0 L1192.7,789.1 L1193.7,759.8 L1194.7,753.3 L1195.7,746.4 L1196.7,752.4 L1197.7,753.7 L1198.7,765.3 L1199.7,779.5 L1200.6,771.8 L1201.6,781.4 L1202.6,793.2 L1203.6,809.4 L1204.6,832.0 L1205.6,841.6 L1206.6,838.7 L1207.6,856.9 L1208.6,854.9 L1209.5,857.7 L1210.5,863.8 L1211.5,869.3 L1212.5,871.2 L1213.5,879.7 L1214.5,880.7 L1215.5,883.4 L1216.5,890.0 L1217.4,891.6 L1218.4,892.1 L1219.4,892.7 L1220.4,894.0 L1221.4,896.8 L1222.4,900.6 L1223.4,902.8 L1224.4,902.3 L1225.4,903.5 L1226.3,906.9 L1227.3,906.8 L1228.3,906.7 L1229.3,905.4 L1230.3,907.4 L1231.3,905.0 L1232.3,906.7 L1233.3,904.9 L1234.2,903.5 L1235.2,900.4 L1236.2,896.9 L1237.2,900.2 L1238.2,899.2 L1239.2,897.7 L1240.2,900.5 L1241.2,896.6 L1242.2,899.0 L1243.1,894.0 L1244.1,893.7 L1245.1,894.5 L1246.1,896.0 L1247.1,891.5 L1248.1,893.1 L1249.1,892.8 L1250.1,891.4 L1251.0,894.7 L1252.0,890.3 L1253.0,888.5 L1254.0,888.7 L1255.0,888.2 L1256.0,889.4 L1257.0,885.6 L1258.0,885.6 L1259.0,886.7 L1259.9,888.5 L1260.9,886.6 L1261.9,886.6 L1262.9,889.1 L1263.9,889.9 L1264.9,890.9 L1265.9,892.2 L1266.9,896.0 L1267.8,898.7 L1268.8,901.3 L1269.8,903.1 L1270.8,904.7 L1271.8,906.7 L1272.8,911.1 L1273.8,913.6 L1274.8,917.7 L1275.8,918.8 L1276.7,923.2 L1277.7,925.1 L1278.7,928.1 L1279.7,930.2 L1280.7,932.7 L1281.7,933.9 L1282.7,935.4 L1283.7,936.5 L1284.6,937.7 L1285.6,938.5 L1286.6,938.9 L1287.6,938.9 L1288.6,940.0 L1289.6,940.2 L1290.6,940.3 L1291.6,940.7 L1292.6,941.2 L1293.5,941.1" fill="none" stroke="#ff00ff" stroke-width="1.3" stroke-linejoin="round"/>
<rect x="1128.5" y="713.5" width="236.2" height="234.5" fill="none" stroke="#000" stroke-width="1.5"/>
<line x1="1125.5" y1="948" x2="1128.5" y2="948" stroke="#000" stroke-width="1.1"/>
<line x1="1125.5" y1="936.73" x2="1128.5" y2="936.73" stroke="#000" stroke-width="1.1"/>
<line x1="1125.5" y1="925.45" x2="1128.5" y2="925.45" stroke="#000" stroke-width="1.1"/>
<line x1="1125.5" y1="914.18" x2="1128.5" y2="914.18" stroke="#000" stroke-width="1.1"/>
<line x1="1125.5" y1="902.9" x2="1128.5" y2="902.9" stroke="#000" stroke-width="1.1"/>
<line x1="1125.5" y1="891.63" x2="1128.5" y2="891.63" stroke="#000" stroke-width="1.1"/>
<line x1="1125.5" y1="880.36" x2="1128.5" y2="880.36" stroke="#000" stroke-width="1.1"/>
<line x1="1125.5" y1="869.08" x2="1128.5" y2="869.08" stroke="#000" stroke-width="1.1"/>
<line x1="1125.5" y1="857.81" x2="1128.5" y2="857.81" stroke="#000" stroke-width="1.1"/>
<line x1="1125.5" y1="846.53" x2="1128.5" y2="846.53" stroke="#000" stroke-width="1.1"/>
<line x1="1125.5" y1="835.26" x2="1128.5" y2="835.26" stroke="#000" stroke-width="1.1"/>
<line x1="1125.5" y1="823.99" x2="1128.5" y2="823.99" stroke="#000" stroke-width="1.1"/>
<line x1="1125.5" y1="812.71" x2="1128.5" y2="812.71" stroke="#000" stroke-width="1.1"/>
<line x1="1125.5" y1="801.44" x2="1128.5" y2="801.44" stroke="#000" stroke-width="1.1"/>
<line x1="1125.5" y1="790.16" x2="1128.5" y2="790.16" stroke="#000" stroke-width="1.1"/>
<line x1="1125.5" y1="778.89" x2="1128.5" y2="778.89" stroke="#000" stroke-width="1.1"/>
<line x1="1125.5" y1="767.62" x2="1128.5" y2="767.62" stroke="#000" stroke-width="1.1"/>
<line x1="1125.5" y1="756.34" x2="1128.5" y2="756.34" stroke="#000" stroke-width="1.1"/>
<line x1="1125.5" y1="745.07" x2="1128.5" y2="745.07" stroke="#000" stroke-width="1.1"/>
<line x1="1125.5" y1="733.79" x2="1128.5" y2="733.79" stroke="#000" stroke-width="1.1"/>
<line x1="1125.5" y1="722.52" x2="1128.5" y2="722.52" stroke="#000" stroke-width="1.1"/>
<line x1="1123" y1="948" x2="1128.5" y2="948" stroke="#000" stroke-width="1.3"/>
<text x="1117.5" y="948" style="font-size:13.5px;font-weight:normal" transform="rotate(-90 1117.5 948)">0</text>
<line x1="1123" y1="902.9" x2="1128.5" y2="902.9" stroke="#000" stroke-width="1.3"/>
<text x="1117.5" y="902.9" style="font-size:13.5px;font-weight:normal" transform="rotate(-90 1117.5 902.9)">40</text>
<line x1="1123" y1="857.81" x2="1128.5" y2="857.81" stroke="#000" stroke-width="1.3"/>
<text x="1117.5" y="857.81" style="font-size:13.5px;font-weight:normal" transform="rotate(-90 1117.5 857.81)">80</text>
<line x1="1123" y1="812.71" x2="1128.5" y2="812.71" stroke="#000" stroke-width="1.3"/>
<text x="1117.5" y="812.71" style="font-size:13.5px;font-weight:normal" transform="rotate(-90 1117.5 812.71)">120</text>
<line x1="1123" y1="767.62" x2="1128.5" y2="767.62" stroke="#000" stroke-width="1.3"/>
<text x="1117.5" y="767.62" style="font-size:13.5px;font-weight:normal" transform="rotate(-90 1117.5 767.62)">160</text>
<line x1="1123" y1="713.5" x2="1128.5" y2="713.5" stroke="#000" stroke-width="1.3"/>
<text x="1117.5" y="713.5" style="font-size:13.5px;font-weight:normal" transform="rotate(-90 1117.5 713.5)">208</text>
<line x1="1128.5" y1="948" x2="1128.5" y2="953.5" stroke="#000" stroke-width="1.2"/>
<line x1="1140.31" y1="948" x2="1140.31" y2="951" stroke="#000" stroke-width="1"/>
<line x1="1152.12" y1="948" x2="1152.12" y2="951" stroke="#000" stroke-width="1"/>
<line x1="1163.93" y1="948" x2="1163.93" y2="951" stroke="#000" stroke-width="1"/>
<line x1="1175.74" y1="948" x2="1175.74" y2="953.5" stroke="#000" stroke-width="1.2"/>
<line x1="1187.55" y1="948" x2="1187.55" y2="951" stroke="#000" stroke-width="1"/>
<line x1="1199.36" y1="948" x2="1199.36" y2="951" stroke="#000" stroke-width="1"/>
<line x1="1211.17" y1="948" x2="1211.17" y2="951" stroke="#000" stroke-width="1"/>
<line x1="1222.98" y1="948" x2="1222.98" y2="953.5" stroke="#000" stroke-width="1.2"/>
<line x1="1234.79" y1="948" x2="1234.79" y2="951" stroke="#000" stroke-width="1"/>
<line x1="1246.6" y1="948" x2="1246.6" y2="951" stroke="#000" stroke-width="1"/>
<line x1="1258.41" y1="948" x2="1258.41" y2="951" stroke="#000" stroke-width="1"/>
<line x1="1270.22" y1="948" x2="1270.22" y2="953.5" stroke="#000" stroke-width="1.2"/>
<line x1="1282.03" y1="948" x2="1282.03" y2="951" stroke="#000" stroke-width="1"/>
<line x1="1293.84" y1="948" x2="1293.84" y2="951" stroke="#000" stroke-width="1"/>
<line x1="1305.65" y1="948" x2="1305.65" y2="951" stroke="#000" stroke-width="1"/>
<line x1="1317.46" y1="948" x2="1317.46" y2="953.5" stroke="#000" stroke-width="1.2"/>
<line x1="1329.27" y1="948" x2="1329.27" y2="951" stroke="#000" stroke-width="1"/>
<line x1="1341.08" y1="948" x2="1341.08" y2="951" stroke="#000" stroke-width="1"/>
<line x1="1352.89" y1="948" x2="1352.89" y2="951" stroke="#000" stroke-width="1"/>
<line x1="1364.7" y1="948" x2="1364.7" y2="953.5" stroke="#000" stroke-width="1.2"/>
<text x="1128.5" y="969.3" style="font-size:13.5px;font-weight:normal">0</text>
<text x="1175.74" y="969.3" style="font-size:13.5px;font-weight:normal">0.5</text>
<text x="1222.98" y="969.3" style="font-size:13.5px;font-weight:normal">1</text>
<text x="1270.22" y="969.3" style="font-size:13.5px;font-weight:normal">1.5</text>
<text x="1317.46" y="969.3" style="font-size:13.5px;font-weight:normal">2</text>
<text x="1364.7" y="969.3" style="font-size:13.5px;font-weight:normal">2.5</text>
<text x="1200.5" y="731.5" style="font-size:13.5px;font-weight:normal">G1</text>
<text x="1262.1" y="731.5" style="font-size:13.5px;font-weight:normal">G2</text>
<path d="M1463.7,948.0 L1464.7,947.2 L1465.7,944.8 L1466.6,941.7 L1467.6,937.4 L1468.6,935.1 L1469.6,933.4 L1470.6,928.6 L1471.6,928.4 L1472.6,923.8 L1473.6,922.8 L1474.5,922.7 L1475.5,916.1 L1476.5,910.6 L1477.5,909.8 L1478.5,907.9 L1479.5,900.2 L1480.5,905.4 L1481.5,890.4 L1482.4,889.1 L1483.4,864.6 L1484.4,879.3 L1485.4,888.7 L1486.4,875.0 L1487.4,884.9 L1488.4,886.4 L1489.4,888.6 L1490.3,891.4 L1491.3,897.5 L1492.3,892.4 L1493.3,896.0 L1494.3,902.3 L1495.3,902.1 L1496.3,906.9 L1497.3,902.8 L1498.2,902.2 L1499.2,904.0 L1500.2,905.6 L1501.2,909.9 L1502.2,904.9 L1503.2,912.9 L1504.2,913.4 L1505.2,916.0 L1506.1,916.0 L1507.1,918.3 L1508.1,913.0 L1509.1,919.1 L1510.1,926.1 L1511.1,924.1 L1512.1,927.7 L1513.1,923.7 L1514.0,924.2 L1515.0,929.3 L1516.0,928.6 L1517.0,931.5 L1518.0,932.0 L1519.0,931.9 L1520.0,936.3 L1521.0,938.8 L1521.9,938.5 L1522.9,940.4 L1523.9,941.7 L1524.9,942.7 L1525.9,944.5 L1526.9,945.9 L1527.9,946.3 L1528.9,947.5 L1529.8,948.0 L1529.8,948.0 L1463.7,948.0Z" fill="#dcdc78"/>
<path d="M1452.8,947.9 L1453.8,947.9 L1454.8,947.7 L1455.8,947.4 L1456.8,946.8 L1457.8,945.7 L1458.7,943.9 L1459.7,940.9 L1460.7,936.3 L1461.7,929.6 L1462.7,920.2 L1463.7,907.8 L1464.7,892.5 L1465.7,874.5 L1466.6,855.0 L1467.6,835.3 L1468.6,817.2 L1469.6,802.7 L1470.6,793.6 L1471.6,790.9 L1472.6,795.0 L1473.6,805.4 L1474.5,820.7 L1475.5,839.3 L1476.5,859.2 L1477.5,878.5 L1478.5,895.9 L1479.5,910.7 L1480.5,922.4 L1481.5,931.2 L1482.4,937.4 L1483.4,941.6 L1484.4,944.3 L1485.4,946.0 L1486.4,946.9 L1487.4,947.5 L1488.4,947.7 L1489.4,947.9 L1490.3,947.9 L1490.3,948.0 L1452.8,948.0Z" fill="#80d872"/>
<path d="M1497.3,947.9 L1498.2,947.9 L1499.2,947.9 L1500.2,947.8 L1501.2,947.7 L1502.2,947.6 L1503.2,947.5 L1504.2,947.3 L1505.2,947.1 L1506.1,946.8 L1507.1,946.5 L1508.1,946.1 L1509.1,945.5 L1510.1,944.9 L1511.1,944.1 L1512.1,943.3 L1513.1,942.2 L1514.0,941.0 L1515.0,939.6 L1516.0,938.1 L1517.0,936.4 L1518.0,934.5 L1519.0,932.4 L1520.0,930.2 L1521.0,927.9 L1521.9,925.6 L1522.9,923.1 L1523.9,920.7 L1524.9,918.4 L1525.9,916.1 L1526.9,914.1 L1527.9,912.2 L1528.9,910.6 L1529.8,909.3 L1530.8,908.3 L1531.8,907.7 L1532.8,907.5 L1533.8,907.7 L1534.8,908.3 L1535.8,909.2 L1536.8,910.5 L1537.7,912.1 L1538.7,913.9 L1539.7,916.0 L1540.7,918.2 L1541.7,920.6 L1542.7,923.0 L1543.7,925.4 L1544.7,927.8 L1545.6,930.1 L1546.6,932.3 L1547.6,934.3 L1548.6,936.2 L1549.6,938.0 L1550.6,939.5 L1551.6,940.9 L1552.6,942.1 L1553.5,943.2 L1554.5,944.1 L1555.5,944.9 L1556.5,945.5 L1557.5,946.0 L1558.5,946.5 L1559.5,946.8 L1560.5,947.1 L1561.4,947.3 L1562.4,947.5 L1563.4,947.6 L1564.4,947.7 L1565.4,947.8 L1566.4,947.8 L1567.4,947.9 L1568.4,947.9 L1568.4,948.0 L1497.3,948.0Z" fill="#7ef4f4"/>
<path d="M1463.7,948.0 L1464.7,947.2 L1465.7,944.8 L1466.6,941.7 L1467.6,937.4 L1468.6,935.1 L1469.6,933.4 L1470.6,928.6 L1471.6,928.4 L1472.6,923.8 L1473.6,922.8 L1474.5,922.7 L1475.5,916.1 L1476.5,910.6 L1477.5,909.8 L1478.5,907.9 L1479.5,910.7 L1480.5,922.4 L1481.5,931.2 L1482.4,937.4 L1483.4,941.6 L1484.4,944.3 L1485.4,946.0 L1486.4,946.9 L1487.4,947.5 L1488.4,947.7 L1489.4,947.9 L1490.3,947.9 L1490.3,948.0 L1463.7,948.0Z" fill="#68c840"/>
<path d="M1497.3,947.9 L1498.2,947.9 L1499.2,947.9 L1500.2,947.8 L1501.2,947.7 L1502.2,947.6 L1503.2,947.5 L1504.2,947.3 L1505.2,947.1 L1506.1,946.8 L1507.1,946.5 L1508.1,946.1 L1509.1,945.5 L1510.1,944.9 L1511.1,944.1 L1512.1,943.3 L1513.1,942.2 L1514.0,941.0 L1515.0,939.6 L1516.0,938.1 L1517.0,936.4 L1518.0,934.5 L1519.0,932.4 L1520.0,936.3 L1521.0,938.8 L1521.9,938.5 L1522.9,940.4 L1523.9,941.7 L1524.9,942.7 L1525.9,944.5 L1526.9,945.9 L1527.9,946.3 L1528.9,947.5 L1529.8,948.0 L1529.8,948.0 L1497.3,948.0Z" fill="#70e8be"/>
<line x1="1471.48" y1="713.1" x2="1471.48" y2="948" stroke="#22cc22" stroke-width="1.6"/>
<line x1="1530.48" y1="713.1" x2="1530.48" y2="948" stroke="#22eeee" stroke-width="1.6"/>
<path d="M1411.3,947.9 L1412.3,948.0 L1413.3,948.0 L1414.3,946.6 L1415.3,948.0 L1416.3,947.5 L1417.3,946.2 L1418.3,947.0 L1419.2,947.4 L1420.2,947.0 L1421.2,945.4 L1422.2,946.5 L1423.2,946.0 L1424.2,945.7 L1425.2,946.7 L1426.2,945.6 L1427.1,946.4 L1428.1,944.3 L1429.1,945.1 L1430.1,948.0 L1431.1,945.9 L1432.1,944.0 L1433.1,945.8 L1434.1,946.0 L1435.0,943.9 L1436.0,946.7 L1437.0,945.0 L1438.0,944.2 L1439.0,943.7 L1440.0,946.3 L1441.0,946.5 L1442.0,942.4 L1442.9,945.6 L1443.9,944.5 L1444.9,940.6 L1445.9,944.7 L1446.9,947.2 L1447.9,939.6 L1448.9,942.1 L1449.9,943.0 L1450.8,939.2 L1451.8,943.4 L1452.8,940.6 L1453.8,941.5 L1454.8,940.6 L1455.8,937.7 L1456.8,934.9 L1457.8,931.4 L1458.7,926.7 L1459.7,920.4 L1460.7,909.2 L1461.7,888.8 L1462.7,879.7 L1463.7,868.3 L1464.7,846.5 L1465.7,827.0 L1466.6,808.5 L1467.6,804.1 L1468.6,785.8 L1469.6,758.3 L1470.6,739.5 L1471.6,757.3 L1472.6,742.9 L1473.6,758.2 L1474.5,767.1 L1475.5,802.0 L1476.5,785.9 L1477.5,818.8 L1478.5,823.4 L1479.5,821.6 L1480.5,840.1 L1481.5,846.7 L1482.4,858.3 L1483.4,861.2 L1484.4,875.0 L1485.4,874.0 L1486.4,877.1 L1487.4,885.2 L1488.4,880.3 L1489.4,886.3 L1490.3,898.9 L1491.3,892.5 L1492.3,900.5 L1493.3,896.5 L1494.3,902.7 L1495.3,902.5 L1496.3,901.2 L1497.3,896.9 L1498.2,908.9 L1499.2,905.8 L1500.2,906.4 L1501.2,902.5 L1502.2,907.5 L1503.2,906.1 L1504.2,903.9 L1505.2,906.4 L1506.1,910.8 L1507.1,911.7 L1508.1,912.1 L1509.1,911.8 L1510.1,917.1 L1511.1,917.5 L1512.1,918.6 L1513.1,922.6 L1514.0,920.7 L1515.0,916.7 L1516.0,913.2 L1517.0,917.2 L1518.0,914.4 L1519.0,906.0 L1520.0,908.3 L1521.0,910.1 L1521.9,904.6 L1522.9,898.2 L1523.9,904.4 L1524.9,905.0 L1525.9,902.1 L1526.9,895.3 L1527.9,902.4 L1528.9,897.8 L1529.8,896.2 L1530.8,898.1 L1531.8,901.9 L1532.8,899.1 L1533.8,901.3 L1534.8,899.7 L1535.8,902.3 L1536.8,904.7 L1537.7,912.3 L1538.7,906.5 L1539.7,910.4 L1540.7,917.8 L1541.7,913.6 L1542.7,914.6 L1543.7,917.6 L1544.7,925.5 L1545.6,922.9 L1546.6,925.3 L1547.6,925.3 L1548.6,931.2 L1549.6,926.6 L1550.6,927.5 L1551.6,928.8 L1552.6,931.4 L1553.5,932.9 L1554.5,932.1 L1555.5,934.5 L1556.5,937.5 L1557.5,937.6 L1558.5,938.3 L1559.5,938.0 L1560.5,939.3 L1561.4,941.5 L1562.4,941.2 L1563.4,940.2 L1564.4,940.2 L1565.4,939.2 L1566.4,943.9 L1567.4,942.2 L1568.4,943.0 L1569.3,939.6 L1570.3,940.3 L1571.3,941.0 L1572.3,940.2 L1573.3,942.4 L1574.3,940.7 L1575.3,941.4 L1576.3,941.4 L1577.2,941.7 L1578.2,940.0 L1579.2,939.8 L1580.2,943.8 L1581.2,942.3 L1582.2,941.4 L1583.2,940.6 L1584.2,944.0 L1585.1,943.0 L1586.1,942.0 L1587.1,938.7 L1588.1,942.9 L1589.1,942.2 L1590.1,941.7 L1591.1,941.9 L1592.1,941.5 L1593.0,941.9 L1594.0,942.2 L1595.0,941.5 L1596.0,941.6 L1597.0,941.5 L1598.0,941.6 L1599.0,944.0 L1600.0,942.0 L1600.9,942.1 L1601.9,941.2 L1602.9,941.5 L1603.9,940.2 L1604.9,943.9 L1605.9,942.9 L1606.9,942.5 L1607.9,943.8 L1608.8,943.3 L1609.8,943.5 L1610.8,943.8 L1611.8,939.7 L1612.8,943.3 L1613.8,941.0 L1614.8,944.6 L1615.8,943.0 L1616.7,944.4 L1617.7,943.0 L1618.7,941.1 L1619.7,940.8 L1620.7,942.5 L1621.7,943.1 L1622.7,943.8 L1623.7,943.3 L1624.6,942.0 L1625.6,946.4 L1626.6,944.6 L1627.6,945.6 L1628.6,942.8 L1629.6,946.1 L1630.6,943.2 L1631.6,946.1 L1632.5,946.1 L1633.5,942.4 L1634.5,943.2 L1635.5,946.0" fill="none" stroke="#000" stroke-width="1.5" stroke-linejoin="round"/>
<path d="M1456.8,936.7 L1457.8,934.2 L1458.7,928.1 L1459.7,918.8 L1460.7,908.8 L1461.7,896.7 L1462.7,879.1 L1463.7,867.5 L1464.7,852.4 L1465.7,837.9 L1466.6,817.3 L1467.6,801.4 L1468.6,782.7 L1469.6,763.5 L1470.6,754.3 L1471.6,749.6 L1472.6,732.9 L1473.6,761.5 L1474.5,768.9 L1475.5,785.8 L1476.5,812.3 L1477.5,813.2 L1478.5,830.4 L1479.5,831.2 L1480.5,845.5 L1481.5,848.7 L1482.4,860.1 L1483.4,862.0 L1484.4,869.7 L1485.4,870.1 L1486.4,875.7 L1487.4,882.7 L1488.4,883.9 L1489.4,889.3 L1490.3,891.4 L1491.3,892.9 L1492.3,894.8 L1493.3,898.3 L1494.3,901.0 L1495.3,901.1 L1496.3,899.8 L1497.3,903.4 L1498.2,905.9 L1499.2,906.4 L1500.2,906.8 L1501.2,904.6 L1502.2,907.1 L1503.2,908.2 L1504.2,907.6 L1505.2,907.6 L1506.1,909.7 L1507.1,911.3 L1508.1,911.1 L1509.1,911.3 L1510.1,916.3 L1511.1,918.7 L1512.1,918.4 L1513.1,921.1 L1514.0,919.1 L1515.0,918.7 L1516.0,916.3 L1517.0,913.6 L1518.0,910.1 L1519.0,909.8 L1520.0,910.2 L1521.0,904.7 L1521.9,903.0 L1522.9,902.2 L1523.9,903.8 L1524.9,902.7 L1525.9,901.6 L1526.9,900.5 L1527.9,897.6 L1528.9,901.5 L1529.8,900.7 L1530.8,900.2 L1531.8,901.6 L1532.8,902.0 L1533.8,903.9 L1534.8,902.3 L1535.8,904.0 L1536.8,905.0 L1537.7,905.7 L1538.7,908.8 L1539.7,910.2 L1540.7,911.4 L1541.7,914.0 L1542.7,915.2 L1543.7,918.9 L1544.7,919.9 L1545.6,920.7 L1546.6,922.8 L1547.6,924.0 L1548.6,926.8 L1549.6,927.6 L1550.6,928.7 L1551.6,930.0 L1552.6,931.4 L1553.5,932.0 L1554.5,934.2 L1555.5,935.5 L1556.5,936.6 L1557.5,938.0 L1558.5,939.4 L1559.5,939.6 L1560.5,940.0 L1561.4,940.3 L1562.4,940.6 L1563.4,940.3 L1564.4,940.8 L1565.4,940.7 L1566.4,941.1 L1567.4,940.6 L1568.4,941.1 L1569.3,941.7 L1570.3,941.4" fill="none" stroke="#ff00ff" stroke-width="1.3" stroke-linejoin="round"/>
<rect x="1399.5" y="713.1" width="236.0" height="234.9" fill="none" stroke="#000" stroke-width="1.5"/>
<line x1="1396.5" y1="948" x2="1399.5" y2="948" stroke="#000" stroke-width="1.1"/>
<line x1="1396.5" y1="931.8" x2="1399.5" y2="931.8" stroke="#000" stroke-width="1.1"/>
<line x1="1396.5" y1="915.6" x2="1399.5" y2="915.6" stroke="#000" stroke-width="1.1"/>
<line x1="1396.5" y1="899.4" x2="1399.5" y2="899.4" stroke="#000" stroke-width="1.1"/>
<line x1="1396.5" y1="883.2" x2="1399.5" y2="883.2" stroke="#000" stroke-width="1.1"/>
<line x1="1396.5" y1="867" x2="1399.5" y2="867" stroke="#000" stroke-width="1.1"/>
<line x1="1396.5" y1="850.8" x2="1399.5" y2="850.8" stroke="#000" stroke-width="1.1"/>
<line x1="1396.5" y1="834.6" x2="1399.5" y2="834.6" stroke="#000" stroke-width="1.1"/>
<line x1="1396.5" y1="818.4" x2="1399.5" y2="818.4" stroke="#000" stroke-width="1.1"/>
<line x1="1396.5" y1="802.2" x2="1399.5" y2="802.2" stroke="#000" stroke-width="1.1"/>
<line x1="1396.5" y1="786" x2="1399.5" y2="786" stroke="#000" stroke-width="1.1"/>
<line x1="1396.5" y1="769.8" x2="1399.5" y2="769.8" stroke="#000" stroke-width="1.1"/>
<line x1="1396.5" y1="753.6" x2="1399.5" y2="753.6" stroke="#000" stroke-width="1.1"/>
<line x1="1396.5" y1="737.4" x2="1399.5" y2="737.4" stroke="#000" stroke-width="1.1"/>
<line x1="1396.5" y1="721.2" x2="1399.5" y2="721.2" stroke="#000" stroke-width="1.1"/>
<line x1="1394" y1="948" x2="1399.5" y2="948" stroke="#000" stroke-width="1.3"/>
<text x="1388.5" y="948" style="font-size:13.5px;font-weight:normal" transform="rotate(-90 1388.5 948)">0</text>
<line x1="1394" y1="883.2" x2="1399.5" y2="883.2" stroke="#000" stroke-width="1.3"/>
<text x="1388.5" y="883.2" style="font-size:13.5px;font-weight:normal" transform="rotate(-90 1388.5 883.2)">40</text>
<line x1="1394" y1="818.4" x2="1399.5" y2="818.4" stroke="#000" stroke-width="1.3"/>
<text x="1388.5" y="818.4" style="font-size:13.5px;font-weight:normal" transform="rotate(-90 1388.5 818.4)">80</text>
<line x1="1394" y1="753.6" x2="1399.5" y2="753.6" stroke="#000" stroke-width="1.3"/>
<text x="1388.5" y="753.6" style="font-size:13.5px;font-weight:normal" transform="rotate(-90 1388.5 753.6)">120</text>
<line x1="1394" y1="713.1" x2="1399.5" y2="713.1" stroke="#000" stroke-width="1.3"/>
<text x="1388.5" y="713.1" style="font-size:13.5px;font-weight:normal" transform="rotate(-90 1388.5 713.1)">145</text>
<line x1="1399.5" y1="948" x2="1399.5" y2="953.5" stroke="#000" stroke-width="1.2"/>
<line x1="1411.3" y1="948" x2="1411.3" y2="951" stroke="#000" stroke-width="1"/>
<line x1="1423.1" y1="948" x2="1423.1" y2="951" stroke="#000" stroke-width="1"/>
<line x1="1434.9" y1="948" x2="1434.9" y2="951" stroke="#000" stroke-width="1"/>
<line x1="1446.7" y1="948" x2="1446.7" y2="953.5" stroke="#000" stroke-width="1.2"/>
<line x1="1458.5" y1="948" x2="1458.5" y2="951" stroke="#000" stroke-width="1"/>
<line x1="1470.3" y1="948" x2="1470.3" y2="951" stroke="#000" stroke-width="1"/>
<line x1="1482.1" y1="948" x2="1482.1" y2="951" stroke="#000" stroke-width="1"/>
<line x1="1493.9" y1="948" x2="1493.9" y2="953.5" stroke="#000" stroke-width="1.2"/>
<line x1="1505.7" y1="948" x2="1505.7" y2="951" stroke="#000" stroke-width="1"/>
<line x1="1517.5" y1="948" x2="1517.5" y2="951" stroke="#000" stroke-width="1"/>
<line x1="1529.3" y1="948" x2="1529.3" y2="951" stroke="#000" stroke-width="1"/>
<line x1="1541.1" y1="948" x2="1541.1" y2="953.5" stroke="#000" stroke-width="1.2"/>
<line x1="1552.9" y1="948" x2="1552.9" y2="951" stroke="#000" stroke-width="1"/>
<line x1="1564.7" y1="948" x2="1564.7" y2="951" stroke="#000" stroke-width="1"/>
<line x1="1576.5" y1="948" x2="1576.5" y2="951" stroke="#000" stroke-width="1"/>
<line x1="1588.3" y1="948" x2="1588.3" y2="953.5" stroke="#000" stroke-width="1.2"/>
<line x1="1600.1" y1="948" x2="1600.1" y2="951" stroke="#000" stroke-width="1"/>
<line x1="1611.9" y1="948" x2="1611.9" y2="951" stroke="#000" stroke-width="1"/>
<line x1="1623.7" y1="948" x2="1623.7" y2="951" stroke="#000" stroke-width="1"/>
<line x1="1635.5" y1="948" x2="1635.5" y2="953.5" stroke="#000" stroke-width="1.2"/>
<text x="1399.5" y="969.3" style="font-size:13.5px;font-weight:normal">0</text>
<text x="1446.7" y="969.3" style="font-size:13.5px;font-weight:normal">0.4</text>
<text x="1493.9" y="969.3" style="font-size:13.5px;font-weight:normal">0.8</text>
<text x="1541.1" y="969.3" style="font-size:13.5px;font-weight:normal">1.2</text>
<text x="1588.3" y="969.3" style="font-size:13.5px;font-weight:normal">1.6</text>
<text x="1635.5" y="969.3" style="font-size:13.5px;font-weight:normal">2</text>
<text x="1474.98" y="731.1" style="font-size:13.5px;font-weight:normal">G1</text>
<text x="1533.98" y="731.1" style="font-size:13.5px;font-weight:normal">G2</text>
<line x1="1090" y1="454" x2="1090" y2="883" stroke="#000" stroke-width="3.2"/>
<path d="M1090,428 L1096.5,457 L1083.5,457Z" fill="#000"/>
<text x="1096.6" y="919" transform="rotate(-90 1096.6 919)">Count</text>
<line x1="1228.8" y1="989" x2="1628" y2="989" stroke="#000" stroke-width="3.2"/>
<path d="M1654,989 L1625,981.5 L1625,996.5Z" fill="#000"/>
<text x="1125.6" y="994.7" style="text-anchor:start">PI-A (10<tspan dx="1.5" dy="-6.5" style="font-size:15px">6</tspan><tspan dx="2.5" dy="6.5">)</tspan></text>
<line x1="1775.1" y1="669.05" x2="1775.1" y2="446.75" stroke="#000" stroke-width="2.5"/>
<line x1="1766.1" y1="667.8" x2="1775.1" y2="667.8" stroke="#000" stroke-width="2.2"/>
<text x="1763.1" y="675.36" style="text-anchor:end">0</text>
<line x1="1766.1" y1="623.64" x2="1775.1" y2="623.64" stroke="#000" stroke-width="2.2"/>
<text x="1763.1" y="631.2" style="text-anchor:end">10</text>
<line x1="1766.1" y1="579.48" x2="1775.1" y2="579.48" stroke="#000" stroke-width="2.2"/>
<text x="1763.1" y="587.04" style="text-anchor:end">20</text>
<line x1="1766.1" y1="535.32" x2="1775.1" y2="535.32" stroke="#000" stroke-width="2.2"/>
<text x="1763.1" y="542.88" style="text-anchor:end">30</text>
<line x1="1766.1" y1="491.16" x2="1775.1" y2="491.16" stroke="#000" stroke-width="2.2"/>
<text x="1763.1" y="498.72" style="text-anchor:end">40</text>
<line x1="1766.1" y1="447" x2="1775.1" y2="447" stroke="#000" stroke-width="2.2"/>
<text x="1763.1" y="454.56" style="text-anchor:end">50</text>
<line x1="1770.15" y1="645.72" x2="1775.1" y2="645.72" stroke="#000" stroke-width="2.2"/>
<line x1="1770.15" y1="601.56" x2="1775.1" y2="601.56" stroke="#000" stroke-width="2.2"/>
<line x1="1770.15" y1="557.4" x2="1775.1" y2="557.4" stroke="#000" stroke-width="2.2"/>
<line x1="1770.15" y1="513.24" x2="1775.1" y2="513.24" stroke="#000" stroke-width="2.2"/>
<line x1="1770.15" y1="469.08" x2="1775.1" y2="469.08" stroke="#000" stroke-width="2.2"/>
<line x1="1766.8" y1="667.8" x2="1996.4" y2="667.8" stroke="#000" stroke-width="2.5"/>
<rect x="1787.4" y="543.27" width="23.6" height="124.53" fill="#0000c0"/>
<line x1="1799.2" y1="543.27" x2="1799.2" y2="532.67" stroke="#000" stroke-width="2.2"/>
<line x1="1793.2" y1="532.67" x2="1805.2" y2="532.67" stroke="#000" stroke-width="2.2"/>
<rect x="1817.2" y="509.71" width="23.6" height="158.09" fill="#ff6400"/>
<line x1="1829" y1="509.71" x2="1829" y2="494.69" stroke="#000" stroke-width="2.2"/>
<line x1="1823" y1="494.69" x2="1835" y2="494.69" stroke="#000" stroke-width="2.2"/>
<rect x="1858.8" y="497.78" width="23.6" height="170.02" fill="#0000c0"/>
<line x1="1870.6" y1="497.78" x2="1870.6" y2="475.7" stroke="#000" stroke-width="2.2"/>
<line x1="1864.6" y1="475.7" x2="1876.6" y2="475.7" stroke="#000" stroke-width="2.2"/>
<rect x="1888.6" y="522.07" width="23.6" height="145.73" fill="#ff6400"/>
<line x1="1900.4" y1="522.07" x2="1900.4" y2="515.89" stroke="#000" stroke-width="2.2"/>
<line x1="1894.4" y1="515.89" x2="1906.4" y2="515.89" stroke="#000" stroke-width="2.2"/>
<rect x="1930.2" y="522.07" width="23.6" height="145.73" fill="#0000c0"/>
<line x1="1942" y1="522.07" x2="1942" y2="490.28" stroke="#000" stroke-width="2.2"/>
<line x1="1936" y1="490.28" x2="1948" y2="490.28" stroke="#000" stroke-width="2.2"/>
<rect x="1960" y="531.35" width="23.6" height="136.45" fill="#ff6400"/>
<line x1="1971.8" y1="531.35" x2="1971.8" y2="510.15" stroke="#000" stroke-width="2.2"/>
<line x1="1965.8" y1="510.15" x2="1977.8" y2="510.15" stroke="#000" stroke-width="2.2"/>
<line x1="1814" y1="667.8" x2="1814" y2="676.8" stroke="#000" stroke-width="2.5"/>
<line x1="1885.4" y1="667.8" x2="1885.4" y2="676.8" stroke="#000" stroke-width="2.5"/>
<line x1="1956.8" y1="667.8" x2="1956.8" y2="676.8" stroke="#000" stroke-width="2.5"/>
<text x="1878" y="458.3">HCT-8</text>
<text x="1829" y="494.22">*</text>
<text x="1813.4" y="699.5">G<tspan dy="4" style="font-size:14px;font-weight:normal">0</tspan><tspan dy="-4">/G</tspan><tspan dy="4" style="font-size:14px;font-weight:normal">1</tspan></text>
<text x="1885.2" y="699.5">S</text>
<text x="1956.8" y="699.5">G<tspan dy="4" style="font-size:14px;font-weight:normal">2</tspan><tspan dy="-4">/M</tspan></text>
<text x="1721" y="554.4" transform="rotate(-90 1721 554.4)">Cell population (%)</text>
<line x1="1775.1" y1="950.45" x2="1775.1" y2="728.15" stroke="#000" stroke-width="2.5"/>
<line x1="1766.1" y1="949.2" x2="1775.1" y2="949.2" stroke="#000" stroke-width="2.2"/>
<text x="1763.1" y="956.76" style="text-anchor:end">0</text>
<line x1="1766.1" y1="905.04" x2="1775.1" y2="905.04" stroke="#000" stroke-width="2.2"/>
<text x="1763.1" y="912.6" style="text-anchor:end">10</text>
<line x1="1766.1" y1="860.88" x2="1775.1" y2="860.88" stroke="#000" stroke-width="2.2"/>
<text x="1763.1" y="868.44" style="text-anchor:end">20</text>
<line x1="1766.1" y1="816.72" x2="1775.1" y2="816.72" stroke="#000" stroke-width="2.2"/>
<text x="1763.1" y="824.28" style="text-anchor:end">30</text>
<line x1="1766.1" y1="772.56" x2="1775.1" y2="772.56" stroke="#000" stroke-width="2.2"/>
<text x="1763.1" y="780.12" style="text-anchor:end">40</text>
<line x1="1766.1" y1="728.4" x2="1775.1" y2="728.4" stroke="#000" stroke-width="2.2"/>
<text x="1763.1" y="735.96" style="text-anchor:end">50</text>
<line x1="1770.15" y1="927.12" x2="1775.1" y2="927.12" stroke="#000" stroke-width="2.2"/>
<line x1="1770.15" y1="882.96" x2="1775.1" y2="882.96" stroke="#000" stroke-width="2.2"/>
<line x1="1770.15" y1="838.8" x2="1775.1" y2="838.8" stroke="#000" stroke-width="2.2"/>
<line x1="1770.15" y1="794.64" x2="1775.1" y2="794.64" stroke="#000" stroke-width="2.2"/>
<line x1="1770.15" y1="750.48" x2="1775.1" y2="750.48" stroke="#000" stroke-width="2.2"/>
<line x1="1766.8" y1="949.2" x2="1996.4" y2="949.2" stroke="#000" stroke-width="2.5"/>
<rect x="1787.4" y="805.68" width="23.6" height="143.52" fill="#0000c0"/>
<line x1="1799.2" y1="805.68" x2="1799.2" y2="794.64" stroke="#000" stroke-width="2.2"/>
<line x1="1793.2" y1="794.64" x2="1805.2" y2="794.64" stroke="#000" stroke-width="2.2"/>
<rect x="1817.2" y="772.56" width="23.6" height="176.64" fill="#ff6400"/>
<line x1="1829" y1="772.56" x2="1829" y2="765.49" stroke="#000" stroke-width="2.2"/>
<line x1="1823" y1="765.49" x2="1835" y2="765.49" stroke="#000" stroke-width="2.2"/>
<rect x="1858.8" y="785.81" width="23.6" height="163.39" fill="#0000c0"/>
<line x1="1870.6" y1="785.81" x2="1870.6" y2="773.44" stroke="#000" stroke-width="2.2"/>
<line x1="1864.6" y1="773.44" x2="1876.6" y2="773.44" stroke="#000" stroke-width="2.2"/>
<rect x="1888.6" y="799.06" width="23.6" height="150.14" fill="#ff6400"/>
<line x1="1900.4" y1="799.06" x2="1900.4" y2="791.99" stroke="#000" stroke-width="2.2"/>
<line x1="1894.4" y1="791.99" x2="1906.4" y2="791.99" stroke="#000" stroke-width="2.2"/>
<rect x="1930.2" y="816.72" width="23.6" height="132.48" fill="#0000c0"/>
<line x1="1942" y1="816.72" x2="1942" y2="810.54" stroke="#000" stroke-width="2.2"/>
<line x1="1936" y1="810.54" x2="1948" y2="810.54" stroke="#000" stroke-width="2.2"/>
<rect x="1960" y="835.71" width="23.6" height="113.49" fill="#ff6400"/>
<line x1="1971.8" y1="835.71" x2="1971.8" y2="826.44" stroke="#000" stroke-width="2.2"/>
<line x1="1965.8" y1="826.44" x2="1977.8" y2="826.44" stroke="#000" stroke-width="2.2"/>
<line x1="1814" y1="949.2" x2="1814" y2="958.2" stroke="#000" stroke-width="2.5"/>
<line x1="1885.4" y1="949.2" x2="1885.4" y2="958.2" stroke="#000" stroke-width="2.5"/>
<line x1="1956.8" y1="949.2" x2="1956.8" y2="958.2" stroke="#000" stroke-width="2.5"/>
<text x="1876" y="738.3">SW480</text>
<text x="1829" y="767.42">*</text>
<text x="1813.4" y="980">G<tspan dy="4" style="font-size:14px;font-weight:normal">0</tspan><tspan dy="-4">/G</tspan><tspan dy="4" style="font-size:14px;font-weight:normal">1</tspan></text>
<text x="1885.2" y="980">S</text>
<text x="1956.8" y="980">G<tspan dy="4" style="font-size:14px;font-weight:normal">2</tspan><tspan dy="-4">/M</tspan></text>
<text x="1721" y="835.8" transform="rotate(-90 1721 835.8)">Cell population (%)</text>
<rect x="1753.3" y="411.2" width="23.5" height="14.5" fill="#0000c0"/>
<text x="1790.3" y="426.8" style="text-anchor:start;font-size:21.5px">siNC</text>
<rect x="1858.4" y="411.2" width="23.6" height="14.5" fill="#ff6400"/>
<text x="1895.7" y="426.8" style="text-anchor:start;font-size:21.5px">siOXTR</text>
<text x="3.5" y="1072" style="text-anchor:start;font-size:31px" textLength="41.7" lengthAdjust="spacingAndGlyphs">(g)</text>
<line x1="776.3" y1="1296.15" x2="776.3" y2="1079.35" stroke="#000" stroke-width="2.5"/>
<line x1="767.3" y1="1294.9" x2="776.3" y2="1294.9" stroke="#000" stroke-width="2.2"/>
<text x="764.3" y="1302.46" style="text-anchor:end">0</text>
<line x1="767.3" y1="1259.02" x2="776.3" y2="1259.02" stroke="#000" stroke-width="2.2"/>
<text x="764.3" y="1266.58" style="text-anchor:end">100</text>
<line x1="767.3" y1="1223.13" x2="776.3" y2="1223.13" stroke="#000" stroke-width="2.2"/>
<text x="764.3" y="1230.69" style="text-anchor:end">200</text>
<line x1="767.3" y1="1187.25" x2="776.3" y2="1187.25" stroke="#000" stroke-width="2.2"/>
<text x="764.3" y="1194.81" style="text-anchor:end">300</text>
<line x1="767.3" y1="1151.37" x2="776.3" y2="1151.37" stroke="#000" stroke-width="2.2"/>
<text x="764.3" y="1158.93" style="text-anchor:end">400</text>
<line x1="767.3" y1="1115.48" x2="776.3" y2="1115.48" stroke="#000" stroke-width="2.2"/>
<text x="764.3" y="1123.04" style="text-anchor:end">500</text>
<line x1="767.3" y1="1079.6" x2="776.3" y2="1079.6" stroke="#000" stroke-width="2.2"/>
<text x="764.3" y="1087.16" style="text-anchor:end">600</text>
<line x1="771.35" y1="1276.96" x2="776.3" y2="1276.96" stroke="#000" stroke-width="2.2"/>
<line x1="771.35" y1="1241.08" x2="776.3" y2="1241.08" stroke="#000" stroke-width="2.2"/>
<line x1="771.35" y1="1205.19" x2="776.3" y2="1205.19" stroke="#000" stroke-width="2.2"/>
<line x1="771.35" y1="1169.31" x2="776.3" y2="1169.31" stroke="#000" stroke-width="2.2"/>
<line x1="771.35" y1="1133.42" x2="776.3" y2="1133.42" stroke="#000" stroke-width="2.2"/>
<line x1="771.35" y1="1097.54" x2="776.3" y2="1097.54" stroke="#000" stroke-width="2.2"/>
<line x1="767.5" y1="1294.9" x2="992.5" y2="1294.9" stroke="#000" stroke-width="2.5"/>
<rect x="809.5" y="1124.45" width="66" height="170.45" fill="#0000c0"/>
<line x1="842.5" y1="1124.45" x2="842.5" y2="1104" stroke="#000" stroke-width="2.2"/>
<line x1="826" y1="1104" x2="859" y2="1104" stroke="#000" stroke-width="2.2"/>
<rect x="892.5" y="1192.63" width="66" height="102.27" fill="#ff6400"/>
<line x1="925.5" y1="1192.63" x2="925.5" y2="1187.61" stroke="#000" stroke-width="2.2"/>
<line x1="909" y1="1187.61" x2="942" y2="1187.61" stroke="#000" stroke-width="2.2"/>
<line x1="842.5" y1="1294.9" x2="842.5" y2="1303.9" stroke="#000" stroke-width="2.5"/>
<line x1="925.5" y1="1294.9" x2="925.5" y2="1303.9" stroke="#000" stroke-width="2.5"/>
<text x="842.5" y="1327.5">siNC</text>
<text x="925.5" y="1327.5">siOXTR</text>
<text x="889.8" y="1087.5">HCT-8</text>
<text x="927" y="1188.72">**</text>
<text x="719" y="1187.25" style="font-size:20.8px" transform="rotate(-90 719 1187.25)">Migrated cells per field</text>
<line x1="777" y1="1573.95" x2="777" y2="1357.65" stroke="#000" stroke-width="2.5"/>
<line x1="768" y1="1572.7" x2="777" y2="1572.7" stroke="#000" stroke-width="2.2"/>
<text x="765" y="1580.26" style="text-anchor:end">0</text>
<line x1="768" y1="1529.74" x2="777" y2="1529.74" stroke="#000" stroke-width="2.2"/>
<text x="765" y="1537.3" style="text-anchor:end">100</text>
<line x1="768" y1="1486.78" x2="777" y2="1486.78" stroke="#000" stroke-width="2.2"/>
<text x="765" y="1494.34" style="text-anchor:end">200</text>
<line x1="768" y1="1443.82" x2="777" y2="1443.82" stroke="#000" stroke-width="2.2"/>
<text x="765" y="1451.38" style="text-anchor:end">300</text>
<line x1="768" y1="1400.86" x2="777" y2="1400.86" stroke="#000" stroke-width="2.2"/>
<text x="765" y="1408.42" style="text-anchor:end">400</text>
<line x1="768" y1="1357.9" x2="777" y2="1357.9" stroke="#000" stroke-width="2.2"/>
<text x="765" y="1365.46" style="text-anchor:end">500</text>
<line x1="772.05" y1="1551.22" x2="777" y2="1551.22" stroke="#000" stroke-width="2.2"/>
<line x1="772.05" y1="1508.26" x2="777" y2="1508.26" stroke="#000" stroke-width="2.2"/>
<line x1="772.05" y1="1465.3" x2="777" y2="1465.3" stroke="#000" stroke-width="2.2"/>
<line x1="772.05" y1="1422.34" x2="777" y2="1422.34" stroke="#000" stroke-width="2.2"/>
<line x1="772.05" y1="1379.38" x2="777" y2="1379.38" stroke="#000" stroke-width="2.2"/>
<line x1="767.7" y1="1572.7" x2="992.7" y2="1572.7" stroke="#000" stroke-width="2.5"/>
<rect x="809.6" y="1430.07" width="66" height="142.63" fill="#0000c0"/>
<line x1="842.6" y1="1430.07" x2="842.6" y2="1416.41" stroke="#000" stroke-width="2.2"/>
<line x1="826.1" y1="1416.41" x2="859.1" y2="1416.41" stroke="#000" stroke-width="2.2"/>
<rect x="892.5" y="1486.35" width="66" height="86.35" fill="#ff6400"/>
<line x1="925.5" y1="1486.35" x2="925.5" y2="1482.48" stroke="#000" stroke-width="2.2"/>
<line x1="909" y1="1482.48" x2="942" y2="1482.48" stroke="#000" stroke-width="2.2"/>
<line x1="842.6" y1="1572.7" x2="842.6" y2="1581.7" stroke="#000" stroke-width="2.5"/>
<line x1="925.5" y1="1572.7" x2="925.5" y2="1581.7" stroke="#000" stroke-width="2.5"/>
<text x="842.6" y="1603.4">siNC</text>
<text x="925.5" y="1603.4">siOXTR</text>
<text x="884.6" y="1368.2">SW480</text>
<text x="924.8" y="1481.52">**</text>
<text x="719.5" y="1465.3" style="font-size:20.8px" transform="rotate(-90 719.5 1465.3)">Migrated cells per field</text>
<text x="1006.4" y="1071.5" style="text-anchor:start;font-size:31px" textLength="41.2" lengthAdjust="spacingAndGlyphs">(h)</text>
<line x1="1775.7" y1="1295.25" x2="1775.7" y2="1079.65" stroke="#000" stroke-width="2.5"/>
<line x1="1766.7" y1="1294" x2="1775.7" y2="1294" stroke="#000" stroke-width="2.2"/>
<text x="1763.7" y="1301.56" style="text-anchor:end">0</text>
<line x1="1766.7" y1="1240.47" x2="1775.7" y2="1240.47" stroke="#000" stroke-width="2.2"/>
<text x="1763.7" y="1248.03" style="text-anchor:end">100</text>
<line x1="1766.7" y1="1186.95" x2="1775.7" y2="1186.95" stroke="#000" stroke-width="2.2"/>
<text x="1763.7" y="1194.51" style="text-anchor:end">200</text>
<line x1="1766.7" y1="1133.43" x2="1775.7" y2="1133.43" stroke="#000" stroke-width="2.2"/>
<text x="1763.7" y="1140.99" style="text-anchor:end">300</text>
<line x1="1766.7" y1="1079.9" x2="1775.7" y2="1079.9" stroke="#000" stroke-width="2.2"/>
<text x="1763.7" y="1087.46" style="text-anchor:end">400</text>
<line x1="1770.75" y1="1267.24" x2="1775.7" y2="1267.24" stroke="#000" stroke-width="2.2"/>
<line x1="1770.75" y1="1213.71" x2="1775.7" y2="1213.71" stroke="#000" stroke-width="2.2"/>
<line x1="1770.75" y1="1160.19" x2="1775.7" y2="1160.19" stroke="#000" stroke-width="2.2"/>
<line x1="1770.75" y1="1106.66" x2="1775.7" y2="1106.66" stroke="#000" stroke-width="2.2"/>
<line x1="1766.9" y1="1294" x2="1991.6" y2="1294" stroke="#000" stroke-width="2.5"/>
<rect x="1809.2" y="1147.88" width="65.3" height="146.12" fill="#0000c0"/>
<line x1="1841.85" y1="1147.88" x2="1841.85" y2="1138.78" stroke="#000" stroke-width="2.2"/>
<line x1="1825.52" y1="1138.78" x2="1858.17" y2="1138.78" stroke="#000" stroke-width="2.2"/>
<rect x="1891.95" y="1215.32" width="65.3" height="78.68" fill="#ff6400"/>
<line x1="1924.6" y1="1215.32" x2="1924.6" y2="1204.08" stroke="#000" stroke-width="2.2"/>
<line x1="1908.27" y1="1204.08" x2="1940.92" y2="1204.08" stroke="#000" stroke-width="2.2"/>
<line x1="1841.85" y1="1294" x2="1841.85" y2="1303" stroke="#000" stroke-width="2.5"/>
<line x1="1924.6" y1="1294" x2="1924.6" y2="1303" stroke="#000" stroke-width="2.5"/>
<text x="1841.85" y="1326.2">siNC</text>
<text x="1924.6" y="1326.2">siOXTR</text>
<text x="1881.5" y="1085.6">HCT-8</text>
<text x="1925.3" y="1204.92">**</text>
<text x="1719" y="1186.95" style="font-size:20.8px" transform="rotate(-90 1719 1186.95)">Invasive cells per field</text>
<line x1="1775.7" y1="1572.15" x2="1775.7" y2="1356.15" stroke="#000" stroke-width="2.5"/>
<line x1="1766.7" y1="1570.9" x2="1775.7" y2="1570.9" stroke="#000" stroke-width="2.2"/>
<text x="1763.7" y="1578.46" style="text-anchor:end">0</text>
<line x1="1766.7" y1="1499.4" x2="1775.7" y2="1499.4" stroke="#000" stroke-width="2.2"/>
<text x="1763.7" y="1506.96" style="text-anchor:end">100</text>
<line x1="1766.7" y1="1427.9" x2="1775.7" y2="1427.9" stroke="#000" stroke-width="2.2"/>
<text x="1763.7" y="1435.46" style="text-anchor:end">200</text>
<line x1="1766.7" y1="1356.4" x2="1775.7" y2="1356.4" stroke="#000" stroke-width="2.2"/>
<text x="1763.7" y="1363.96" style="text-anchor:end">300</text>
<line x1="1770.75" y1="1535.15" x2="1775.7" y2="1535.15" stroke="#000" stroke-width="2.2"/>
<line x1="1770.75" y1="1463.65" x2="1775.7" y2="1463.65" stroke="#000" stroke-width="2.2"/>
<line x1="1770.75" y1="1392.15" x2="1775.7" y2="1392.15" stroke="#000" stroke-width="2.2"/>
<line x1="1766.9" y1="1570.9" x2="1991.6" y2="1570.9" stroke="#000" stroke-width="2.5"/>
<rect x="1809.2" y="1420.75" width="65.3" height="150.15" fill="#0000c0"/>
<line x1="1841.85" y1="1420.75" x2="1841.85" y2="1410.38" stroke="#000" stroke-width="2.2"/>
<line x1="1825.52" y1="1410.38" x2="1858.17" y2="1410.38" stroke="#000" stroke-width="2.2"/>
<rect x="1891.95" y="1498.69" width="65.3" height="72.21" fill="#ff6400"/>
<line x1="1924.6" y1="1498.69" x2="1924.6" y2="1489.03" stroke="#000" stroke-width="2.2"/>
<line x1="1908.27" y1="1489.03" x2="1940.92" y2="1489.03" stroke="#000" stroke-width="2.2"/>
<line x1="1841.85" y1="1570.9" x2="1841.85" y2="1579.9" stroke="#000" stroke-width="2.5"/>
<line x1="1924.6" y1="1570.9" x2="1924.6" y2="1579.9" stroke="#000" stroke-width="2.5"/>
<text x="1841.85" y="1602.4">siNC</text>
<text x="1924.6" y="1602.4">siOXTR</text>
<text x="1883.3" y="1362.5">SW480</text>
<text x="1925" y="1488.72">***</text>
<text x="1719" y="1463.65" style="font-size:20.8px" transform="rotate(-90 1719 1463.65)">Invasive cells per field</text>
<text x="204.7" y="1088">siNC</text>
<text x="522.2" y="1088">siOXTR</text>
<text x="39" y="1209.4" style="font-size:22.5px" transform="rotate(-90 39 1209.4)">HCT-8</text>
<text x="39" y="1451" style="font-size:22.5px" transform="rotate(-90 39 1451)">SW480</text>
<text x="1210" y="1088">siNC</text>
<text x="1528.2" y="1088">siOXTR</text>
<text x="1052.5" y="1216.4" style="font-size:22.5px" transform="rotate(-90 1052.5 1216.4)">HCT-8</text>
<text x="1052.5" y="1460" style="font-size:22.5px" transform="rotate(-90 1052.5 1460)">SW480</text>
<defs><filter id="mc1" filterUnits="userSpaceOnUse" x="41.6" y="1089.4" width="319" height="238.2" color-interpolation-filters="sRGB"><feGaussianBlur in="SourceGraphic" stdDeviation="10" result="b"/><feColorMatrix in="b" type="matrix" values="1 0 0 0 0 1 0 0 0 0 1 0 0 0 0 0 0 0 0 1" result="d"/><feTurbulence type="fractalNoise" baseFrequency="0.085" numOctaves="4" seed="11" result="n0"/><feColorMatrix in="n0" type="matrix" values="1 0 0 0 0 1 0 0 0 0 1 0 0 0 0 0 0 0 0 1" result="n"/><feComposite in="d" in2="n" operator="arithmetic" k2="0.35" k3="1" k4="-0.35" result="s"/><feColorMatrix in="s" type="matrix" values="0 0 0 0 0 0 0 0 0 0 0 0 0 0 0 14 0 0 0 -5.04" result="m1"/><feFlood flood-color="#6232ba"/><feComposite in2="m1" operator="in" result="f1"/><feColorMatrix in="s" type="matrix" values="0 0 0 0 0 0 0 0 0 0 0 0 0 0 0 14 0 0 0 -6.72" result="m2"/><feFlood flood-color="#4a24a2"/><feComposite in2="m2" operator="in" result="f2"/><feMerge><feMergeNode in="f1"/><feMergeNode in="f2"/></feMerge></filter><filter id="mc1s" filterUnits="userSpaceOnUse" x="41.6" y="1089.4" width="319" height="238.2" color-interpolation-filters="sRGB"><feTurbulence type="fractalNoise" baseFrequency="0.55" numOctaves="1" seed="61" result="n"/><feColorMatrix in="n" type="matrix" values="0 0 0 0 0 0 0 0 0 0 0 0 0 0 0 -9 0 0 0 3.42" result="a1"/><feFlood flood-color="#8a78b0"/><feComposite in2="a1" operator="in" result="s1"/><feColorMatrix in="n" type="matrix" values="0 0 0 0 0 0 0 0 0 0 0 0 0 0 0 0 9 0 0 -5.58" result="a2"/><feFlood flood-color="#f0e8c8"/><feComposite in2="a2" operator="in" result="s2"/><feMerge><feMergeNode in="s1"/><feMergeNode in="s2"/></feMerge></filter></defs>
<rect x="41.6" y="1089.4" width="319" height="238.2" fill="#e4dbea"/>
<rect x="41.6" y="1089.4" width="319" height="238.2" fill="#000" filter="url(#mc1s)"/>
<g filter="url(#mc1)"><rect x="11.6" y="1059.4" width="70.38" height="70.2" fill="rgb(224,224,224)"/><rect x="81.47" y="1059.4" width="40.38" height="70.2" fill="rgb(176,176,176)"/><rect x="121.35" y="1059.4" width="40.38" height="70.2" fill="rgb(210,210,210)"/><rect x="161.22" y="1059.4" width="40.38" height="70.2" fill="rgb(198,198,198)"/><rect x="201.1" y="1059.4" width="40.38" height="70.2" fill="rgb(239,239,239)"/><rect x="240.97" y="1059.4" width="40.38" height="70.2" fill="rgb(255,255,255)"/><rect x="280.85" y="1059.4" width="40.38" height="70.2" fill="rgb(239,239,239)"/><rect x="320.73" y="1059.4" width="70.38" height="70.2" fill="rgb(187,187,187)"/><rect x="11.6" y="1129.1" width="70.38" height="40.2" fill="rgb(198,198,198)"/><rect x="81.47" y="1129.1" width="40.38" height="40.2" fill="rgb(187,187,187)"/><rect x="121.35" y="1129.1" width="40.38" height="40.2" fill="rgb(224,224,224)"/><rect x="161.22" y="1129.1" width="40.38" height="40.2" fill="rgb(187,187,187)"/><rect x="201.1" y="1129.1" width="40.38" height="40.2" fill="rgb(239,239,239)"/><rect x="240.97" y="1129.1" width="40.38" height="40.2" fill="rgb(255,255,255)"/><rect x="280.85" y="1129.1" width="40.38" height="40.2" fill="rgb(239,239,239)"/><rect x="320.73" y="1129.1" width="70.38" height="40.2" fill="rgb(198,198,198)"/><rect x="11.6" y="1168.8" width="70.38" height="40.2" fill="rgb(187,187,187)"/><rect x="81.47" y="1168.8" width="40.38" height="40.2" fill="rgb(224,224,224)"/><rect x="121.35" y="1168.8" width="40.38" height="40.2" fill="rgb(224,224,224)"/><rect x="161.22" y="1168.8" width="40.38" height="40.2" fill="rgb(239,239,239)"/><rect x="201.1" y="1168.8" width="40.38" height="40.2" fill="rgb(224,224,224)"/><rect x="240.97" y="1168.8" width="40.38" height="40.2" fill="rgb(224,224,224)"/><rect x="280.85" y="1168.8" width="40.38" height="40.2" fill="rgb(224,224,224)"/><rect x="320.73" y="1168.8" width="70.38" height="40.2" fill="rgb(239,239,239)"/><rect x="11.6" y="1208.5" width="70.38" height="40.2" fill="rgb(198,198,198)"/><rect x="81.47" y="1208.5" width="40.38" height="40.2" fill="rgb(239,239,239)"/><rect x="121.35" y="1208.5" width="40.38" height="40.2" fill="rgb(239,239,239)"/><rect x="161.22" y="1208.5" width="40.38" height="40.2" fill="rgb(224,224,224)"/><rect x="201.1" y="1208.5" width="40.38" height="40.2" fill="rgb(224,224,224)"/><rect x="240.97" y="1208.5" width="40.38" height="40.2" fill="rgb(239,239,239)"/><rect x="280.85" y="1208.5" width="40.38" height="40.2" fill="rgb(224,224,224)"/><rect x="320.73" y="1208.5" width="70.38" height="40.2" fill="rgb(239,239,239)"/><rect x="11.6" y="1248.2" width="70.38" height="40.2" fill="rgb(210,210,210)"/><rect x="81.47" y="1248.2" width="40.38" height="40.2" fill="rgb(224,224,224)"/><rect x="121.35" y="1248.2" width="40.38" height="40.2" fill="rgb(239,239,239)"/><rect x="161.22" y="1248.2" width="40.38" height="40.2" fill="rgb(239,239,239)"/><rect x="201.1" y="1248.2" width="40.38" height="40.2" fill="rgb(224,224,224)"/><rect x="240.97" y="1248.2" width="40.38" height="40.2" fill="rgb(210,210,210)"/><rect x="280.85" y="1248.2" width="40.38" height="40.2" fill="rgb(239,239,239)"/><rect x="320.73" y="1248.2" width="70.38" height="40.2" fill="rgb(198,198,198)"/><rect x="11.6" y="1287.9" width="70.38" height="70.2" fill="rgb(224,224,224)"/><rect x="81.47" y="1287.9" width="40.38" height="70.2" fill="rgb(239,239,239)"/><rect x="121.35" y="1287.9" width="40.38" height="70.2" fill="rgb(239,239,239)"/><rect x="161.22" y="1287.9" width="40.38" height="70.2" fill="rgb(198,198,198)"/><rect x="201.1" y="1287.9" width="40.38" height="70.2" fill="rgb(176,176,176)"/><rect x="240.97" y="1287.9" width="40.38" height="70.2" fill="rgb(224,224,224)"/><rect x="280.85" y="1287.9" width="40.38" height="70.2" fill="rgb(239,239,239)"/><rect x="320.73" y="1287.9" width="70.38" height="70.2" fill="rgb(224,224,224)"/></g>
<defs><filter id="mc2" filterUnits="userSpaceOnUse" x="367" y="1089.4" width="319.3" height="238.2" color-interpolation-filters="sRGB"><feGaussianBlur in="SourceGraphic" stdDeviation="10" result="b"/><feColorMatrix in="b" type="matrix" values="1 0 0 0 0 1 0 0 0 0 1 0 0 0 0 0 0 0 0 1" result="d"/><feTurbulence type="turbulence" baseFrequency="0.065" numOctaves="3" seed="12" result="n0"/><feColorMatrix in="n0" type="matrix" values="1 0 0 0 0 1 0 0 0 0 1 0 0 0 0 0 0 0 0 1" result="n"/><feComposite in="d" in2="n" operator="arithmetic" k2="0.35" k3="1" k4="-0.35" result="s"/><feColorMatrix in="s" type="matrix" values="0 0 0 0 0 0 0 0 0 0 0 0 0 0 0 14 0 0 0 -1.96" result="m1"/><feFlood flood-color="#4228ae"/><feComposite in2="m1" operator="in" result="f1"/><feColorMatrix in="s" type="matrix" values="0 0 0 0 0 0 0 0 0 0 0 0 0 0 0 14 0 0 0 -3.78" result="m2"/><feFlood flood-color="#2c1888"/><feComposite in2="m2" operator="in" result="f2"/><feMerge><feMergeNode in="f1"/><feMergeNode in="f2"/></feMerge></filter><filter id="mc2s" filterUnits="userSpaceOnUse" x="367" y="1089.4" width="319.3" height="238.2" color-interpolation-filters="sRGB"><feTurbulence type="fractalNoise" baseFrequency="0.55" numOctaves="1" seed="62" result="n"/><feColorMatrix in="n" type="matrix" values="0 0 0 0 0 0 0 0 0 0 0 0 0 0 0 -9 0 0 0 3.42" result="a1"/><feFlood flood-color="#8a78b0"/><feComposite in2="a1" operator="in" result="s1"/><feColorMatrix in="n" type="matrix" values="0 0 0 0 0 0 0 0 0 0 0 0 0 0 0 0 9 0 0 -5.58" result="a2"/><feFlood flood-color="#f0e8c8"/><feComposite in2="a2" operator="in" result="s2"/><feMerge><feMergeNode in="s1"/><feMergeNode in="s2"/></feMerge></filter></defs>
<rect x="367" y="1089.4" width="319.3" height="238.2" fill="#dcd4e4"/>
<rect x="367" y="1089.4" width="319.3" height="238.2" fill="#000" filter="url(#mc2s)"/>
<g filter="url(#mc2)"><rect x="337" y="1059.4" width="70.41" height="70.2" fill="rgb(144,144,144)"/><rect x="406.91" y="1059.4" width="40.41" height="70.2" fill="rgb(130,130,130)"/><rect x="446.82" y="1059.4" width="40.41" height="70.2" fill="rgb(159,159,159)"/><rect x="486.74" y="1059.4" width="40.41" height="70.2" fill="rgb(175,175,175)"/><rect x="526.65" y="1059.4" width="40.41" height="70.2" fill="rgb(159,159,159)"/><rect x="566.56" y="1059.4" width="40.41" height="70.2" fill="rgb(144,144,144)"/><rect x="606.48" y="1059.4" width="40.41" height="70.2" fill="rgb(175,175,175)"/><rect x="646.39" y="1059.4" width="70.41" height="70.2" fill="rgb(255,255,255)"/><rect x="337" y="1129.1" width="70.41" height="40.2" fill="rgb(189,189,189)"/><rect x="406.91" y="1129.1" width="40.41" height="40.2" fill="rgb(201,201,201)"/><rect x="446.82" y="1129.1" width="40.41" height="40.2" fill="rgb(189,189,189)"/><rect x="486.74" y="1129.1" width="40.41" height="40.2" fill="rgb(144,144,144)"/><rect x="526.65" y="1129.1" width="40.41" height="40.2" fill="rgb(144,144,144)"/><rect x="566.56" y="1129.1" width="40.41" height="40.2" fill="rgb(175,175,175)"/><rect x="606.48" y="1129.1" width="40.41" height="40.2" fill="rgb(159,159,159)"/><rect x="646.39" y="1129.1" width="70.41" height="40.2" fill="rgb(255,255,255)"/><rect x="337" y="1168.8" width="70.41" height="40.2" fill="rgb(214,214,214)"/><rect x="406.91" y="1168.8" width="40.41" height="40.2" fill="rgb(201,201,201)"/><rect x="446.82" y="1168.8" width="40.41" height="40.2" fill="rgb(159,159,159)"/><rect x="486.74" y="1168.8" width="40.41" height="40.2" fill="rgb(113,113,113)"/><rect x="526.65" y="1168.8" width="40.41" height="40.2" fill="rgb(130,130,130)"/><rect x="566.56" y="1168.8" width="40.41" height="40.2" fill="rgb(189,189,189)"/><rect x="606.48" y="1168.8" width="40.41" height="40.2" fill="rgb(201,201,201)"/><rect x="646.39" y="1168.8" width="70.41" height="40.2" fill="rgb(241,241,241)"/><rect x="337" y="1208.5" width="70.41" height="40.2" fill="rgb(189,189,189)"/><rect x="406.91" y="1208.5" width="40.41" height="40.2" fill="rgb(175,175,175)"/><rect x="446.82" y="1208.5" width="40.41" height="40.2" fill="rgb(201,201,201)"/><rect x="486.74" y="1208.5" width="40.41" height="40.2" fill="rgb(130,130,130)"/><rect x="526.65" y="1208.5" width="40.41" height="40.2" fill="rgb(144,144,144)"/><rect x="566.56" y="1208.5" width="40.41" height="40.2" fill="rgb(201,201,201)"/><rect x="606.48" y="1208.5" width="40.41" height="40.2" fill="rgb(214,214,214)"/><rect x="646.39" y="1208.5" width="70.41" height="40.2" fill="rgb(214,214,214)"/><rect x="337" y="1248.2" width="70.41" height="40.2" fill="rgb(175,175,175)"/><rect x="406.91" y="1248.2" width="40.41" height="40.2" fill="rgb(189,189,189)"/><rect x="446.82" y="1248.2" width="40.41" height="40.2" fill="rgb(175,175,175)"/><rect x="486.74" y="1248.2" width="40.41" height="40.2" fill="rgb(159,159,159)"/><rect x="526.65" y="1248.2" width="40.41" height="40.2" fill="rgb(201,201,201)"/><rect x="566.56" y="1248.2" width="40.41" height="40.2" fill="rgb(214,214,214)"/><rect x="606.48" y="1248.2" width="40.41" height="40.2" fill="rgb(214,214,214)"/><rect x="646.39" y="1248.2" width="70.41" height="40.2" fill="rgb(214,214,214)"/><rect x="337" y="1287.9" width="70.41" height="70.2" fill="rgb(175,175,175)"/><rect x="406.91" y="1287.9" width="40.41" height="70.2" fill="rgb(189,189,189)"/><rect x="446.82" y="1287.9" width="40.41" height="70.2" fill="rgb(189,189,189)"/><rect x="486.74" y="1287.9" width="40.41" height="70.2" fill="rgb(214,214,214)"/><rect x="526.65" y="1287.9" width="40.41" height="70.2" fill="rgb(175,175,175)"/><rect x="566.56" y="1287.9" width="40.41" height="70.2" fill="rgb(201,201,201)"/><rect x="606.48" y="1287.9" width="40.41" height="70.2" fill="rgb(214,214,214)"/><rect x="646.39" y="1287.9" width="70.41" height="70.2" fill="rgb(201,201,201)"/></g>
<defs><filter id="mc3" filterUnits="userSpaceOnUse" x="41.6" y="1333.6" width="319" height="239.2" color-interpolation-filters="sRGB"><feGaussianBlur in="SourceGraphic" stdDeviation="10" result="b"/><feColorMatrix in="b" type="matrix" values="1 0 0 0 0 1 0 0 0 0 1 0 0 0 0 0 0 0 0 1" result="d"/><feTurbulence type="turbulence" baseFrequency="0.07" numOctaves="3" seed="13" result="n0"/><feColorMatrix in="n0" type="matrix" values="1 0 0 0 0 1 0 0 0 0 1 0 0 0 0 0 0 0 0 1" result="n"/><feComposite in="d" in2="n" operator="arithmetic" k2="0.35" k3="1" k4="-0.35" result="s"/><feColorMatrix in="s" type="matrix" values="0 0 0 0 0 0 0 0 0 0 0 0 0 0 0 14 0 0 0 -1.96" result="m1"/><feFlood flood-color="#7e46cc"/><feComposite in2="m1" operator="in" result="f1"/><feColorMatrix in="s" type="matrix" values="0 0 0 0 0 0 0 0 0 0 0 0 0 0 0 14 0 0 0 -3.78" result="m2"/><feFlood flood-color="#4a2498"/><feComposite in2="m2" operator="in" result="f2"/><feMerge><feMergeNode in="f1"/><feMergeNode in="f2"/></feMerge></filter><filter id="mc3s" filterUnits="userSpaceOnUse" x="41.6" y="1333.6" width="319" height="239.2" color-interpolation-filters="sRGB"><feTurbulence type="fractalNoise" baseFrequency="0.55" numOctaves="1" seed="63" result="n"/><feColorMatrix in="n" type="matrix" values="0 0 0 0 0 0 0 0 0 0 0 0 0 0 0 -9 0 0 0 3.42" result="a1"/><feFlood flood-color="#8a78b0"/><feComposite in2="a1" operator="in" result="s1"/><feColorMatrix in="n" type="matrix" values="0 0 0 0 0 0 0 0 0 0 0 0 0 0 0 0 9 0 0 -5.58" result="a2"/><feFlood flood-color="#f0e8c8"/><feComposite in2="a2" operator="in" result="s2"/><feMerge><feMergeNode in="s1"/><feMergeNode in="s2"/></feMerge></filter></defs>
<rect x="41.6" y="1333.6" width="319" height="239.2" fill="#e2d8ec"/>
<rect x="41.6" y="1333.6" width="319" height="239.2" fill="#000" filter="url(#mc3s)"/>
<g filter="url(#mc3)"><rect x="11.6" y="1303.6" width="70.38" height="70.37" fill="rgb(196,196,196)"/><rect x="81.47" y="1303.6" width="40.38" height="70.37" fill="rgb(209,209,209)"/><rect x="121.35" y="1303.6" width="40.38" height="70.37" fill="rgb(184,184,184)"/><rect x="161.22" y="1303.6" width="40.38" height="70.37" fill="rgb(196,196,196)"/><rect x="201.1" y="1303.6" width="40.38" height="70.37" fill="rgb(209,209,209)"/><rect x="240.97" y="1303.6" width="40.38" height="70.37" fill="rgb(169,169,169)"/><rect x="280.85" y="1303.6" width="40.38" height="70.37" fill="rgb(196,196,196)"/><rect x="320.73" y="1303.6" width="70.38" height="70.37" fill="rgb(222,222,222)"/><rect x="11.6" y="1373.47" width="70.38" height="40.37" fill="rgb(196,196,196)"/><rect x="81.47" y="1373.47" width="40.38" height="40.37" fill="rgb(169,169,169)"/><rect x="121.35" y="1373.47" width="40.38" height="40.37" fill="rgb(184,184,184)"/><rect x="161.22" y="1373.47" width="40.38" height="40.37" fill="rgb(196,196,196)"/><rect x="201.1" y="1373.47" width="40.38" height="40.37" fill="rgb(184,184,184)"/><rect x="240.97" y="1373.47" width="40.38" height="40.37" fill="rgb(184,184,184)"/><rect x="280.85" y="1373.47" width="40.38" height="40.37" fill="rgb(196,196,196)"/><rect x="320.73" y="1373.47" width="70.38" height="40.37" fill="rgb(235,235,235)"/><rect x="11.6" y="1413.33" width="70.38" height="40.37" fill="rgb(169,169,169)"/><rect x="81.47" y="1413.33" width="40.38" height="40.37" fill="rgb(139,139,139)"/><rect x="121.35" y="1413.33" width="40.38" height="40.37" fill="rgb(196,196,196)"/><rect x="161.22" y="1413.33" width="40.38" height="40.37" fill="rgb(139,139,139)"/><rect x="201.1" y="1413.33" width="40.38" height="40.37" fill="rgb(184,184,184)"/><rect x="240.97" y="1413.33" width="40.38" height="40.37" fill="rgb(209,209,209)"/><rect x="280.85" y="1413.33" width="40.38" height="40.37" fill="rgb(196,196,196)"/><rect x="320.73" y="1413.33" width="70.38" height="40.37" fill="rgb(222,222,222)"/><rect x="11.6" y="1453.2" width="70.38" height="40.37" fill="rgb(184,184,184)"/><rect x="81.47" y="1453.2" width="40.38" height="40.37" fill="rgb(196,196,196)"/><rect x="121.35" y="1453.2" width="40.38" height="40.37" fill="rgb(196,196,196)"/><rect x="161.22" y="1453.2" width="40.38" height="40.37" fill="rgb(139,139,139)"/><rect x="201.1" y="1453.2" width="40.38" height="40.37" fill="rgb(209,209,209)"/><rect x="240.97" y="1453.2" width="40.38" height="40.37" fill="rgb(209,209,209)"/><rect x="280.85" y="1453.2" width="40.38" height="40.37" fill="rgb(184,184,184)"/><rect x="320.73" y="1453.2" width="70.38" height="40.37" fill="rgb(209,209,209)"/><rect x="11.6" y="1493.07" width="70.38" height="40.37" fill="rgb(209,209,209)"/><rect x="81.47" y="1493.07" width="40.38" height="40.37" fill="rgb(184,184,184)"/><rect x="121.35" y="1493.07" width="40.38" height="40.37" fill="rgb(153,153,153)"/><rect x="161.22" y="1493.07" width="40.38" height="40.37" fill="rgb(169,169,169)"/><rect x="201.1" y="1493.07" width="40.38" height="40.37" fill="rgb(184,184,184)"/><rect x="240.97" y="1493.07" width="40.38" height="40.37" fill="rgb(196,196,196)"/><rect x="280.85" y="1493.07" width="40.38" height="40.37" fill="rgb(169,169,169)"/><rect x="320.73" y="1493.07" width="70.38" height="40.37" fill="rgb(209,209,209)"/><rect x="11.6" y="1532.93" width="70.38" height="70.37" fill="rgb(196,196,196)"/><rect x="81.47" y="1532.93" width="40.38" height="70.37" fill="rgb(184,184,184)"/><rect x="121.35" y="1532.93" width="40.38" height="70.37" fill="rgb(169,169,169)"/><rect x="161.22" y="1532.93" width="40.38" height="70.37" fill="rgb(184,184,184)"/><rect x="201.1" y="1532.93" width="40.38" height="70.37" fill="rgb(196,196,196)"/><rect x="240.97" y="1532.93" width="40.38" height="70.37" fill="rgb(184,184,184)"/><rect x="280.85" y="1532.93" width="40.38" height="70.37" fill="rgb(169,169,169)"/><rect x="320.73" y="1532.93" width="70.38" height="70.37" fill="rgb(196,196,196)"/></g>
<defs><filter id="mc4" filterUnits="userSpaceOnUse" x="367" y="1333.6" width="319.3" height="239.2" color-interpolation-filters="sRGB"><feGaussianBlur in="SourceGraphic" stdDeviation="10" result="b"/><feColorMatrix in="b" type="matrix" values="1 0 0 0 0 1 0 0 0 0 1 0 0 0 0 0 0 0 0 1" result="d"/><feTurbulence type="turbulence" baseFrequency="0.06" numOctaves="3" seed="14" result="n0"/><feColorMatrix in="n0" type="matrix" values="1 0 0 0 0 1 0 0 0 0 1 0 0 0 0 0 0 0 0 1" result="n"/><feComposite in="d" in2="n" operator="arithmetic" k2="0.35" k3="1" k4="-0.35" result="s"/><feColorMatrix in="s" type="matrix" values="0 0 0 0 0 0 0 0 0 0 0 0 0 0 0 14 0 0 0 -3.08" result="m1"/><feFlood flood-color="#7444c6"/><feComposite in2="m1" operator="in" result="f1"/><feColorMatrix in="s" type="matrix" values="0 0 0 0 0 0 0 0 0 0 0 0 0 0 0 14 0 0 0 -4.9" result="m2"/><feFlood flood-color="#442494"/><feComposite in2="m2" operator="in" result="f2"/><feMerge><feMergeNode in="f1"/><feMergeNode in="f2"/></feMerge></filter><filter id="mc4s" filterUnits="userSpaceOnUse" x="367" y="1333.6" width="319.3" height="239.2" color-interpolation-filters="sRGB"><feTurbulence type="fractalNoise" baseFrequency="0.55" numOctaves="1" seed="64" result="n"/><feColorMatrix in="n" type="matrix" values="0 0 0 0 0 0 0 0 0 0 0 0 0 0 0 -9 0 0 0 3.42" result="a1"/><feFlood flood-color="#8a78b0"/><feComposite in2="a1" operator="in" result="s1"/><feColorMatrix in="n" type="matrix" values="0 0 0 0 0 0 0 0 0 0 0 0 0 0 0 0 9 0 0 -5.58" result="a2"/><feFlood flood-color="#f0e8c8"/><feComposite in2="a2" operator="in" result="s2"/><feMerge><feMergeNode in="s1"/><feMergeNode in="s2"/></feMerge></filter></defs>
<rect x="367" y="1333.6" width="319.3" height="239.2" fill="#e0d8e6"/>
<rect x="367" y="1333.6" width="319.3" height="239.2" fill="#000" filter="url(#mc4s)"/>
<g filter="url(#mc4)"><rect x="337" y="1303.6" width="70.41" height="70.37" fill="rgb(143,143,143)"/><rect x="406.91" y="1303.6" width="40.41" height="70.37" fill="rgb(184,184,184)"/><rect x="446.82" y="1303.6" width="40.41" height="70.37" fill="rgb(166,166,166)"/><rect x="486.74" y="1303.6" width="40.41" height="70.37" fill="rgb(184,184,184)"/><rect x="526.65" y="1303.6" width="40.41" height="70.37" fill="rgb(198,198,198)"/><rect x="566.56" y="1303.6" width="40.41" height="70.37" fill="rgb(198,198,198)"/><rect x="606.48" y="1303.6" width="40.41" height="70.37" fill="rgb(166,166,166)"/><rect x="646.39" y="1303.6" width="70.41" height="70.37" fill="rgb(184,184,184)"/><rect x="337" y="1373.47" width="70.41" height="40.37" fill="rgb(184,184,184)"/><rect x="406.91" y="1373.47" width="40.41" height="40.37" fill="rgb(143,143,143)"/><rect x="446.82" y="1373.47" width="40.41" height="40.37" fill="rgb(143,143,143)"/><rect x="486.74" y="1373.47" width="40.41" height="40.37" fill="rgb(198,198,198)"/><rect x="526.65" y="1373.47" width="40.41" height="40.37" fill="rgb(166,166,166)"/><rect x="566.56" y="1373.47" width="40.41" height="40.37" fill="rgb(184,184,184)"/><rect x="606.48" y="1373.47" width="40.41" height="40.37" fill="rgb(166,166,166)"/><rect x="646.39" y="1373.47" width="70.41" height="40.37" fill="rgb(214,214,214)"/><rect x="337" y="1413.33" width="70.41" height="40.37" fill="rgb(143,143,143)"/><rect x="406.91" y="1413.33" width="40.41" height="40.37" fill="rgb(184,184,184)"/><rect x="446.82" y="1413.33" width="40.41" height="40.37" fill="rgb(214,214,214)"/><rect x="486.74" y="1413.33" width="40.41" height="40.37" fill="rgb(166,166,166)"/><rect x="526.65" y="1413.33" width="40.41" height="40.37" fill="rgb(143,143,143)"/><rect x="566.56" y="1413.33" width="40.41" height="40.37" fill="rgb(166,166,166)"/><rect x="606.48" y="1413.33" width="40.41" height="40.37" fill="rgb(184,184,184)"/><rect x="646.39" y="1413.33" width="70.41" height="40.37" fill="rgb(184,184,184)"/><rect x="337" y="1453.2" width="70.41" height="40.37" fill="rgb(119,119,119)"/><rect x="406.91" y="1453.2" width="40.41" height="40.37" fill="rgb(166,166,166)"/><rect x="446.82" y="1453.2" width="40.41" height="40.37" fill="rgb(184,184,184)"/><rect x="486.74" y="1453.2" width="40.41" height="40.37" fill="rgb(143,143,143)"/><rect x="526.65" y="1453.2" width="40.41" height="40.37" fill="rgb(119,119,119)"/><rect x="566.56" y="1453.2" width="40.41" height="40.37" fill="rgb(184,184,184)"/><rect x="606.48" y="1453.2" width="40.41" height="40.37" fill="rgb(184,184,184)"/><rect x="646.39" y="1453.2" width="70.41" height="40.37" fill="rgb(184,184,184)"/><rect x="337" y="1493.07" width="70.41" height="40.37" fill="rgb(119,119,119)"/><rect x="406.91" y="1493.07" width="40.41" height="40.37" fill="rgb(143,143,143)"/><rect x="446.82" y="1493.07" width="40.41" height="40.37" fill="rgb(143,143,143)"/><rect x="486.74" y="1493.07" width="40.41" height="40.37" fill="rgb(166,166,166)"/><rect x="526.65" y="1493.07" width="40.41" height="40.37" fill="rgb(184,184,184)"/><rect x="566.56" y="1493.07" width="40.41" height="40.37" fill="rgb(166,166,166)"/><rect x="606.48" y="1493.07" width="40.41" height="40.37" fill="rgb(184,184,184)"/><rect x="646.39" y="1493.07" width="70.41" height="40.37" fill="rgb(214,214,214)"/><rect x="337" y="1532.93" width="70.41" height="70.37" fill="rgb(143,143,143)"/><rect x="406.91" y="1532.93" width="40.41" height="70.37" fill="rgb(119,119,119)"/><rect x="446.82" y="1532.93" width="40.41" height="70.37" fill="rgb(143,143,143)"/><rect x="486.74" y="1532.93" width="40.41" height="70.37" fill="rgb(143,143,143)"/><rect x="526.65" y="1532.93" width="40.41" height="70.37" fill="rgb(143,143,143)"/><rect x="566.56" y="1532.93" width="40.41" height="70.37" fill="rgb(166,166,166)"/><rect x="606.48" y="1532.93" width="40.41" height="70.37" fill="rgb(184,184,184)"/><rect x="646.39" y="1532.93" width="70.41" height="70.37" fill="rgb(214,214,214)"/></g>
<defs><filter id="mc5" filterUnits="userSpaceOnUse" x="1054.7" y="1090.5" width="312.3" height="238.1" color-interpolation-filters="sRGB"><feGaussianBlur in="SourceGraphic" stdDeviation="10" result="b"/><feColorMatrix in="b" type="matrix" values="1 0 0 0 0 1 0 0 0 0 1 0 0 0 0 0 0 0 0 1" result="d"/><feTurbulence type="turbulence" baseFrequency="0.06" numOctaves="3" seed="15" result="n0"/><feColorMatrix in="n0" type="matrix" values="1 0 0 0 0 1 0 0 0 0 1 0 0 0 0 0 0 0 0 1" result="n"/><feComposite in="d" in2="n" operator="arithmetic" k2="0.35" k3="1" k4="-0.35" result="s"/><feColorMatrix in="s" type="matrix" values="0 0 0 0 0 0 0 0 0 0 0 0 0 0 0 14 0 0 0 -3.08" result="m1"/><feFlood flood-color="#6c40ca"/><feComposite in2="m1" operator="in" result="f1"/><feColorMatrix in="s" type="matrix" values="0 0 0 0 0 0 0 0 0 0 0 0 0 0 0 14 0 0 0 -4.9" result="m2"/><feFlood flood-color="#46269e"/><feComposite in2="m2" operator="in" result="f2"/><feMerge><feMergeNode in="f1"/><feMergeNode in="f2"/></feMerge></filter><filter id="mc5s" filterUnits="userSpaceOnUse" x="1054.7" y="1090.5" width="312.3" height="238.1" color-interpolation-filters="sRGB"><feTurbulence type="fractalNoise" baseFrequency="0.55" numOctaves="1" seed="65" result="n"/><feColorMatrix in="n" type="matrix" values="0 0 0 0 0 0 0 0 0 0 0 0 0 0 0 -9 0 0 0 3.42" result="a1"/><feFlood flood-color="#8a78b0"/><feComposite in2="a1" operator="in" result="s1"/><feColorMatrix in="n" type="matrix" values="0 0 0 0 0 0 0 0 0 0 0 0 0 0 0 0 9 0 0 -5.58" result="a2"/><feFlood flood-color="#f0e8c8"/><feComposite in2="a2" operator="in" result="s2"/><feMerge><feMergeNode in="s1"/><feMergeNode in="s2"/></feMerge></filter></defs>
<rect x="1054.7" y="1090.5" width="312.3" height="238.1" fill="#d3cde2"/>
<rect x="1054.7" y="1090.5" width="312.3" height="238.1" fill="#000" filter="url(#mc5s)"/>
<g filter="url(#mc5)"><rect x="1024.7" y="1060.5" width="69.54" height="70.18" fill="rgb(214,214,214)"/><rect x="1093.74" y="1060.5" width="39.54" height="70.18" fill="rgb(184,184,184)"/><rect x="1132.78" y="1060.5" width="39.54" height="70.18" fill="rgb(166,166,166)"/><rect x="1171.81" y="1060.5" width="39.54" height="70.18" fill="rgb(166,166,166)"/><rect x="1210.85" y="1060.5" width="39.54" height="70.18" fill="rgb(166,166,166)"/><rect x="1249.89" y="1060.5" width="39.54" height="70.18" fill="rgb(143,143,143)"/><rect x="1288.93" y="1060.5" width="39.54" height="70.18" fill="rgb(184,184,184)"/><rect x="1327.96" y="1060.5" width="69.54" height="70.18" fill="rgb(143,143,143)"/><rect x="1024.7" y="1130.18" width="69.54" height="40.18" fill="rgb(230,230,230)"/><rect x="1093.74" y="1130.18" width="39.54" height="40.18" fill="rgb(143,143,143)"/><rect x="1132.78" y="1130.18" width="39.54" height="40.18" fill="rgb(166,166,166)"/><rect x="1171.81" y="1130.18" width="39.54" height="40.18" fill="rgb(166,166,166)"/><rect x="1210.85" y="1130.18" width="39.54" height="40.18" fill="rgb(166,166,166)"/><rect x="1249.89" y="1130.18" width="39.54" height="40.18" fill="rgb(166,166,166)"/><rect x="1288.93" y="1130.18" width="39.54" height="40.18" fill="rgb(166,166,166)"/><rect x="1327.96" y="1130.18" width="69.54" height="40.18" fill="rgb(119,119,119)"/><rect x="1024.7" y="1169.87" width="69.54" height="40.18" fill="rgb(166,166,166)"/><rect x="1093.74" y="1169.87" width="39.54" height="40.18" fill="rgb(119,119,119)"/><rect x="1132.78" y="1169.87" width="39.54" height="40.18" fill="rgb(143,143,143)"/><rect x="1171.81" y="1169.87" width="39.54" height="40.18" fill="rgb(198,198,198)"/><rect x="1210.85" y="1169.87" width="39.54" height="40.18" fill="rgb(184,184,184)"/><rect x="1249.89" y="1169.87" width="39.54" height="40.18" fill="rgb(143,143,143)"/><rect x="1288.93" y="1169.87" width="39.54" height="40.18" fill="rgb(143,143,143)"/><rect x="1327.96" y="1169.87" width="69.54" height="40.18" fill="rgb(97,97,97)"/><rect x="1024.7" y="1209.55" width="69.54" height="40.18" fill="rgb(97,97,97)"/><rect x="1093.74" y="1209.55" width="39.54" height="40.18" fill="rgb(166,166,166)"/><rect x="1132.78" y="1209.55" width="39.54" height="40.18" fill="rgb(143,143,143)"/><rect x="1171.81" y="1209.55" width="39.54" height="40.18" fill="rgb(166,166,166)"/><rect x="1210.85" y="1209.55" width="39.54" height="40.18" fill="rgb(119,119,119)"/><rect x="1249.89" y="1209.55" width="39.54" height="40.18" fill="rgb(143,143,143)"/><rect x="1288.93" y="1209.55" width="39.54" height="40.18" fill="rgb(166,166,166)"/><rect x="1327.96" y="1209.55" width="69.54" height="40.18" fill="rgb(97,97,97)"/><rect x="1024.7" y="1249.23" width="69.54" height="40.18" fill="rgb(119,119,119)"/><rect x="1093.74" y="1249.23" width="39.54" height="40.18" fill="rgb(119,119,119)"/><rect x="1132.78" y="1249.23" width="39.54" height="40.18" fill="rgb(166,166,166)"/><rect x="1171.81" y="1249.23" width="39.54" height="40.18" fill="rgb(214,214,214)"/><rect x="1210.85" y="1249.23" width="39.54" height="40.18" fill="rgb(198,198,198)"/><rect x="1249.89" y="1249.23" width="39.54" height="40.18" fill="rgb(119,119,119)"/><rect x="1288.93" y="1249.23" width="39.54" height="40.18" fill="rgb(166,166,166)"/><rect x="1327.96" y="1249.23" width="69.54" height="40.18" fill="rgb(97,97,97)"/><rect x="1024.7" y="1288.92" width="69.54" height="70.18" fill="rgb(119,119,119)"/><rect x="1093.74" y="1288.92" width="39.54" height="70.18" fill="rgb(143,143,143)"/><rect x="1132.78" y="1288.92" width="39.54" height="70.18" fill="rgb(119,119,119)"/><rect x="1171.81" y="1288.92" width="39.54" height="70.18" fill="rgb(143,143,143)"/><rect x="1210.85" y="1288.92" width="39.54" height="70.18" fill="rgb(143,143,143)"/><rect x="1249.89" y="1288.92" width="39.54" height="70.18" fill="rgb(97,97,97)"/><rect x="1288.93" y="1288.92" width="39.54" height="70.18" fill="rgb(97,97,97)"/><rect x="1327.96" y="1288.92" width="69.54" height="70.18" fill="rgb(97,97,97)"/></g>
<defs><filter id="mc6" filterUnits="userSpaceOnUse" x="1374" y="1090.5" width="317.6" height="238.1" color-interpolation-filters="sRGB"><feGaussianBlur in="SourceGraphic" stdDeviation="10" result="b"/><feColorMatrix in="b" type="matrix" values="1 0 0 0 0 1 0 0 0 0 1 0 0 0 0 0 0 0 0 1" result="d"/><feTurbulence type="turbulence" baseFrequency="0.07" numOctaves="3" seed="16" result="n0"/><feColorMatrix in="n0" type="matrix" values="1 0 0 0 0 1 0 0 0 0 1 0 0 0 0 0 0 0 0 1" result="n"/><feComposite in="d" in2="n" operator="arithmetic" k2="0.35" k3="1" k4="-0.35" result="s"/><feColorMatrix in="s" type="matrix" values="0 0 0 0 0 0 0 0 0 0 0 0 0 0 0 14 0 0 0 -3.08" result="m1"/><feFlood flood-color="#7c4ec8"/><feComposite in2="m1" operator="in" result="f1"/><feColorMatrix in="s" type="matrix" values="0 0 0 0 0 0 0 0 0 0 0 0 0 0 0 14 0 0 0 -4.9" result="m2"/><feFlood flood-color="#4c2c9a"/><feComposite in2="m2" operator="in" result="f2"/><feMerge><feMergeNode in="f1"/><feMergeNode in="f2"/></feMerge></filter><filter id="mc6s" filterUnits="userSpaceOnUse" x="1374" y="1090.5" width="317.6" height="238.1" color-interpolation-filters="sRGB"><feTurbulence type="fractalNoise" baseFrequency="0.55" numOctaves="1" seed="66" result="n"/><feColorMatrix in="n" type="matrix" values="0 0 0 0 0 0 0 0 0 0 0 0 0 0 0 -9 0 0 0 3.42" result="a1"/><feFlood flood-color="#8a78b0"/><feComposite in2="a1" operator="in" result="s1"/><feColorMatrix in="n" type="matrix" values="0 0 0 0 0 0 0 0 0 0 0 0 0 0 0 0 9 0 0 -5.58" result="a2"/><feFlood flood-color="#f0e8c8"/><feComposite in2="a2" operator="in" result="s2"/><feMerge><feMergeNode in="s1"/><feMergeNode in="s2"/></feMerge></filter></defs>
<rect x="1374" y="1090.5" width="317.6" height="238.1" fill="#d1c9e3"/>
<rect x="1374" y="1090.5" width="317.6" height="238.1" fill="#000" filter="url(#mc6s)"/>
<g filter="url(#mc6)"><rect x="1344" y="1060.5" width="70.2" height="70.18" fill="rgb(45,45,45)"/><rect x="1413.7" y="1060.5" width="40.2" height="70.18" fill="rgb(82,82,82)"/><rect x="1453.4" y="1060.5" width="40.2" height="70.18" fill="rgb(119,119,119)"/><rect x="1493.1" y="1060.5" width="40.2" height="70.18" fill="rgb(97,97,97)"/><rect x="1532.8" y="1060.5" width="40.2" height="70.18" fill="rgb(64,64,64)"/><rect x="1572.5" y="1060.5" width="40.2" height="70.18" fill="rgb(97,97,97)"/><rect x="1612.2" y="1060.5" width="40.2" height="70.18" fill="rgb(45,45,45)"/><rect x="1651.9" y="1060.5" width="70.2" height="70.18" fill="rgb(45,45,45)"/><rect x="1344" y="1130.18" width="70.2" height="40.18" fill="rgb(45,45,45)"/><rect x="1413.7" y="1130.18" width="40.2" height="40.18" fill="rgb(64,64,64)"/><rect x="1453.4" y="1130.18" width="40.2" height="40.18" fill="rgb(119,119,119)"/><rect x="1493.1" y="1130.18" width="40.2" height="40.18" fill="rgb(82,82,82)"/><rect x="1532.8" y="1130.18" width="40.2" height="40.18" fill="rgb(64,64,64)"/><rect x="1572.5" y="1130.18" width="40.2" height="40.18" fill="rgb(64,64,64)"/><rect x="1612.2" y="1130.18" width="40.2" height="40.18" fill="rgb(64,64,64)"/><rect x="1651.9" y="1130.18" width="70.2" height="40.18" fill="rgb(64,64,64)"/><rect x="1344" y="1169.87" width="70.2" height="40.18" fill="rgb(45,45,45)"/><rect x="1413.7" y="1169.87" width="40.2" height="40.18" fill="rgb(82,82,82)"/><rect x="1453.4" y="1169.87" width="40.2" height="40.18" fill="rgb(97,97,97)"/><rect x="1493.1" y="1169.87" width="40.2" height="40.18" fill="rgb(64,64,64)"/><rect x="1532.8" y="1169.87" width="40.2" height="40.18" fill="rgb(45,45,45)"/><rect x="1572.5" y="1169.87" width="40.2" height="40.18" fill="rgb(32,32,32)"/><rect x="1612.2" y="1169.87" width="40.2" height="40.18" fill="rgb(32,32,32)"/><rect x="1651.9" y="1169.87" width="70.2" height="40.18" fill="rgb(45,45,45)"/><rect x="1344" y="1209.55" width="70.2" height="40.18" fill="rgb(32,32,32)"/><rect x="1413.7" y="1209.55" width="40.2" height="40.18" fill="rgb(64,64,64)"/><rect x="1453.4" y="1209.55" width="40.2" height="40.18" fill="rgb(64,64,64)"/><rect x="1493.1" y="1209.55" width="40.2" height="40.18" fill="rgb(64,64,64)"/><rect x="1532.8" y="1209.55" width="40.2" height="40.18" fill="rgb(45,45,45)"/><rect x="1572.5" y="1209.55" width="40.2" height="40.18" fill="rgb(32,32,32)"/><rect x="1612.2" y="1209.55" width="40.2" height="40.18" fill="rgb(32,32,32)"/><rect x="1651.9" y="1209.55" width="70.2" height="40.18" fill="rgb(32,32,32)"/><rect x="1344" y="1249.23" width="70.2" height="40.18" fill="rgb(32,32,32)"/><rect x="1413.7" y="1249.23" width="40.2" height="40.18" fill="rgb(64,64,64)"/><rect x="1453.4" y="1249.23" width="40.2" height="40.18" fill="rgb(82,82,82)"/><rect x="1493.1" y="1249.23" width="40.2" height="40.18" fill="rgb(64,64,64)"/><rect x="1532.8" y="1249.23" width="40.2" height="40.18" fill="rgb(64,64,64)"/><rect x="1572.5" y="1249.23" width="40.2" height="40.18" fill="rgb(97,97,97)"/><rect x="1612.2" y="1249.23" width="40.2" height="40.18" fill="rgb(45,45,45)"/><rect x="1651.9" y="1249.23" width="70.2" height="40.18" fill="rgb(64,64,64)"/><rect x="1344" y="1288.92" width="70.2" height="70.18" fill="rgb(45,45,45)"/><rect x="1413.7" y="1288.92" width="40.2" height="70.18" fill="rgb(64,64,64)"/><rect x="1453.4" y="1288.92" width="40.2" height="70.18" fill="rgb(45,45,45)"/><rect x="1493.1" y="1288.92" width="40.2" height="70.18" fill="rgb(64,64,64)"/><rect x="1532.8" y="1288.92" width="40.2" height="70.18" fill="rgb(45,45,45)"/><rect x="1572.5" y="1288.92" width="40.2" height="70.18" fill="rgb(45,45,45)"/><rect x="1612.2" y="1288.92" width="40.2" height="70.18" fill="rgb(45,45,45)"/><rect x="1651.9" y="1288.92" width="70.2" height="70.18" fill="rgb(45,45,45)"/></g>
<defs><filter id="mc7" filterUnits="userSpaceOnUse" x="1054.7" y="1334.6" width="312.3" height="238.9" color-interpolation-filters="sRGB"><feGaussianBlur in="SourceGraphic" stdDeviation="10" result="b"/><feColorMatrix in="b" type="matrix" values="1 0 0 0 0 1 0 0 0 0 1 0 0 0 0 0 0 0 0 1" result="d"/><feTurbulence type="turbulence" baseFrequency="0.06" numOctaves="3" seed="17" result="n0"/><feColorMatrix in="n0" type="matrix" values="1 0 0 0 0 1 0 0 0 0 1 0 0 0 0 0 0 0 0 1" result="n"/><feComposite in="d" in2="n" operator="arithmetic" k2="0.35" k3="1" k4="-0.35" result="s"/><feColorMatrix in="s" type="matrix" values="0 0 0 0 0 0 0 0 0 0 0 0 0 0 0 14 0 0 0 -3.08" result="m1"/><feFlood flood-color="#7446ca"/><feComposite in2="m1" operator="in" result="f1"/><feColorMatrix in="s" type="matrix" values="0 0 0 0 0 0 0 0 0 0 0 0 0 0 0 14 0 0 0 -4.9" result="m2"/><feFlood flood-color="#48289c"/><feComposite in2="m2" operator="in" result="f2"/><feMerge><feMergeNode in="f1"/><feMergeNode in="f2"/></feMerge></filter><filter id="mc7s" filterUnits="userSpaceOnUse" x="1054.7" y="1334.6" width="312.3" height="238.9" color-interpolation-filters="sRGB"><feTurbulence type="fractalNoise" baseFrequency="0.55" numOctaves="1" seed="67" result="n"/><feColorMatrix in="n" type="matrix" values="0 0 0 0 0 0 0 0 0 0 0 0 0 0 0 -9 0 0 0 3.42" result="a1"/><feFlood flood-color="#8a78b0"/><feComposite in2="a1" operator="in" result="s1"/><feColorMatrix in="n" type="matrix" values="0 0 0 0 0 0 0 0 0 0 0 0 0 0 0 0 9 0 0 -5.58" result="a2"/><feFlood flood-color="#f0e8c8"/><feComposite in2="a2" operator="in" result="s2"/><feMerge><feMergeNode in="s1"/><feMergeNode in="s2"/></feMerge></filter></defs>
<rect x="1054.7" y="1334.6" width="312.3" height="238.9" fill="#d8c8e6"/>
<defs><linearGradient id="mc7g" x1="0" y1="1" x2="1" y2="0"><stop offset="0" stop-color="#e0a8e0" stop-opacity="0"/><stop offset="1" stop-color="#e0a8e0" stop-opacity="0.5"/></linearGradient></defs>
<rect x="1054.7" y="1334.6" width="312.3" height="238.9" fill="url(#mc7g)"/>
<rect x="1054.7" y="1334.6" width="312.3" height="238.9" fill="#000" filter="url(#mc7s)"/>
<g filter="url(#mc7)"><rect x="1024.7" y="1304.6" width="69.54" height="70.32" fill="rgb(119,119,119)"/><rect x="1093.74" y="1304.6" width="39.54" height="70.32" fill="rgb(119,119,119)"/><rect x="1132.78" y="1304.6" width="39.54" height="70.32" fill="rgb(119,119,119)"/><rect x="1171.81" y="1304.6" width="39.54" height="70.32" fill="rgb(143,143,143)"/><rect x="1210.85" y="1304.6" width="39.54" height="70.32" fill="rgb(119,119,119)"/><rect x="1249.89" y="1304.6" width="39.54" height="70.32" fill="rgb(119,119,119)"/><rect x="1288.93" y="1304.6" width="39.54" height="70.32" fill="rgb(119,119,119)"/><rect x="1327.96" y="1304.6" width="69.54" height="70.32" fill="rgb(119,119,119)"/><rect x="1024.7" y="1374.42" width="69.54" height="40.32" fill="rgb(143,143,143)"/><rect x="1093.74" y="1374.42" width="39.54" height="40.32" fill="rgb(97,97,97)"/><rect x="1132.78" y="1374.42" width="39.54" height="40.32" fill="rgb(119,119,119)"/><rect x="1171.81" y="1374.42" width="39.54" height="40.32" fill="rgb(119,119,119)"/><rect x="1210.85" y="1374.42" width="39.54" height="40.32" fill="rgb(119,119,119)"/><rect x="1249.89" y="1374.42" width="39.54" height="40.32" fill="rgb(119,119,119)"/><rect x="1288.93" y="1374.42" width="39.54" height="40.32" fill="rgb(97,97,97)"/><rect x="1327.96" y="1374.42" width="69.54" height="40.32" fill="rgb(143,143,143)"/><rect x="1024.7" y="1414.23" width="69.54" height="40.32" fill="rgb(143,143,143)"/><rect x="1093.74" y="1414.23" width="39.54" height="40.32" fill="rgb(119,119,119)"/><rect x="1132.78" y="1414.23" width="39.54" height="40.32" fill="rgb(143,143,143)"/><rect x="1171.81" y="1414.23" width="39.54" height="40.32" fill="rgb(119,119,119)"/><rect x="1210.85" y="1414.23" width="39.54" height="40.32" fill="rgb(97,97,97)"/><rect x="1249.89" y="1414.23" width="39.54" height="40.32" fill="rgb(143,143,143)"/><rect x="1288.93" y="1414.23" width="39.54" height="40.32" fill="rgb(97,97,97)"/><rect x="1327.96" y="1414.23" width="69.54" height="40.32" fill="rgb(166,166,166)"/><rect x="1024.7" y="1454.05" width="69.54" height="40.32" fill="rgb(143,143,143)"/><rect x="1093.74" y="1454.05" width="39.54" height="40.32" fill="rgb(119,119,119)"/><rect x="1132.78" y="1454.05" width="39.54" height="40.32" fill="rgb(119,119,119)"/><rect x="1171.81" y="1454.05" width="39.54" height="40.32" fill="rgb(119,119,119)"/><rect x="1210.85" y="1454.05" width="39.54" height="40.32" fill="rgb(119,119,119)"/><rect x="1249.89" y="1454.05" width="39.54" height="40.32" fill="rgb(143,143,143)"/><rect x="1288.93" y="1454.05" width="39.54" height="40.32" fill="rgb(143,143,143)"/><rect x="1327.96" y="1454.05" width="69.54" height="40.32" fill="rgb(119,119,119)"/><rect x="1024.7" y="1493.87" width="69.54" height="40.32" fill="rgb(97,97,97)"/><rect x="1093.74" y="1493.87" width="39.54" height="40.32" fill="rgb(97,97,97)"/><rect x="1132.78" y="1493.87" width="39.54" height="40.32" fill="rgb(119,119,119)"/><rect x="1171.81" y="1493.87" width="39.54" height="40.32" fill="rgb(119,119,119)"/><rect x="1210.85" y="1493.87" width="39.54" height="40.32" fill="rgb(119,119,119)"/><rect x="1249.89" y="1493.87" width="39.54" height="40.32" fill="rgb(119,119,119)"/><rect x="1288.93" y="1493.87" width="39.54" height="40.32" fill="rgb(97,97,97)"/><rect x="1327.96" y="1493.87" width="69.54" height="40.32" fill="rgb(119,119,119)"/><rect x="1024.7" y="1533.68" width="69.54" height="70.32" fill="rgb(97,97,97)"/><rect x="1093.74" y="1533.68" width="39.54" height="70.32" fill="rgb(119,119,119)"/><rect x="1132.78" y="1533.68" width="39.54" height="70.32" fill="rgb(119,119,119)"/><rect x="1171.81" y="1533.68" width="39.54" height="70.32" fill="rgb(119,119,119)"/><rect x="1210.85" y="1533.68" width="39.54" height="70.32" fill="rgb(119,119,119)"/><rect x="1249.89" y="1533.68" width="39.54" height="70.32" fill="rgb(143,143,143)"/><rect x="1288.93" y="1533.68" width="39.54" height="70.32" fill="rgb(119,119,119)"/><rect x="1327.96" y="1533.68" width="69.54" height="70.32" fill="rgb(119,119,119)"/></g>
<defs><filter id="mc8" filterUnits="userSpaceOnUse" x="1374" y="1334.6" width="317.6" height="238.9" color-interpolation-filters="sRGB"><feGaussianBlur in="SourceGraphic" stdDeviation="10" result="b"/><feColorMatrix in="b" type="matrix" values="1 0 0 0 0 1 0 0 0 0 1 0 0 0 0 0 0 0 0 1" result="d"/><feTurbulence type="turbulence" baseFrequency="0.08" numOctaves="3" seed="18" result="n0"/><feColorMatrix in="n0" type="matrix" values="1 0 0 0 0 1 0 0 0 0 1 0 0 0 0 0 0 0 0 1" result="n"/><feComposite in="d" in2="n" operator="arithmetic" k2="0.35" k3="1" k4="-0.35" result="s"/><feColorMatrix in="s" type="matrix" values="0 0 0 0 0 0 0 0 0 0 0 0 0 0 0 14 0 0 0 -3.08" result="m1"/><feFlood flood-color="#7c4cc6"/><feComposite in2="m1" operator="in" result="f1"/><feColorMatrix in="s" type="matrix" values="0 0 0 0 0 0 0 0 0 0 0 0 0 0 0 14 0 0 0 -4.9" result="m2"/><feFlood flood-color="#4e2e9a"/><feComposite in2="m2" operator="in" result="f2"/><feMerge><feMergeNode in="f1"/><feMergeNode in="f2"/></feMerge></filter><filter id="mc8s" filterUnits="userSpaceOnUse" x="1374" y="1334.6" width="317.6" height="238.9" color-interpolation-filters="sRGB"><feTurbulence type="fractalNoise" baseFrequency="0.55" numOctaves="1" seed="68" result="n"/><feColorMatrix in="n" type="matrix" values="0 0 0 0 0 0 0 0 0 0 0 0 0 0 0 -9 0 0 0 3.42" result="a1"/><feFlood flood-color="#8a78b0"/><feComposite in2="a1" operator="in" result="s1"/><feColorMatrix in="n" type="matrix" values="0 0 0 0 0 0 0 0 0 0 0 0 0 0 0 0 9 0 0 -5.58" result="a2"/><feFlood flood-color="#f0e8c8"/><feComposite in2="a2" operator="in" result="s2"/><feMerge><feMergeNode in="s1"/><feMergeNode in="s2"/></feMerge></filter></defs>
<rect x="1374" y="1334.6" width="317.6" height="238.9" fill="#d8c6e6"/>
<defs><linearGradient id="mc8g" x1="0" y1="1" x2="1" y2="0"><stop offset="0" stop-color="#e0a8dc" stop-opacity="0"/><stop offset="1" stop-color="#e0a8dc" stop-opacity="0.6"/></linearGradient></defs>
<rect x="1374" y="1334.6" width="317.6" height="238.9" fill="url(#mc8g)"/>
<rect x="1374" y="1334.6" width="317.6" height="238.9" fill="#000" filter="url(#mc8s)"/>
<g filter="url(#mc8)"><rect x="1344" y="1304.6" width="70.2" height="70.32" fill="rgb(82,82,82)"/><rect x="1413.7" y="1304.6" width="40.2" height="70.32" fill="rgb(97,97,97)"/><rect x="1453.4" y="1304.6" width="40.2" height="70.32" fill="rgb(64,64,64)"/><rect x="1493.1" y="1304.6" width="40.2" height="70.32" fill="rgb(97,97,97)"/><rect x="1532.8" y="1304.6" width="40.2" height="70.32" fill="rgb(64,64,64)"/><rect x="1572.5" y="1304.6" width="40.2" height="70.32" fill="rgb(64,64,64)"/><rect x="1612.2" y="1304.6" width="40.2" height="70.32" fill="rgb(64,64,64)"/><rect x="1651.9" y="1304.6" width="70.2" height="70.32" fill="rgb(82,82,82)"/><rect x="1344" y="1374.42" width="70.2" height="40.32" fill="rgb(64,64,64)"/><rect x="1413.7" y="1374.42" width="40.2" height="40.32" fill="rgb(64,64,64)"/><rect x="1453.4" y="1374.42" width="40.2" height="40.32" fill="rgb(64,64,64)"/><rect x="1493.1" y="1374.42" width="40.2" height="40.32" fill="rgb(64,64,64)"/><rect x="1532.8" y="1374.42" width="40.2" height="40.32" fill="rgb(64,64,64)"/><rect x="1572.5" y="1374.42" width="40.2" height="40.32" fill="rgb(64,64,64)"/><rect x="1612.2" y="1374.42" width="40.2" height="40.32" fill="rgb(64,64,64)"/><rect x="1651.9" y="1374.42" width="70.2" height="40.32" fill="rgb(64,64,64)"/><rect x="1344" y="1414.23" width="70.2" height="40.32" fill="rgb(64,64,64)"/><rect x="1413.7" y="1414.23" width="40.2" height="40.32" fill="rgb(64,64,64)"/><rect x="1453.4" y="1414.23" width="40.2" height="40.32" fill="rgb(45,45,45)"/><rect x="1493.1" y="1414.23" width="40.2" height="40.32" fill="rgb(64,64,64)"/><rect x="1532.8" y="1414.23" width="40.2" height="40.32" fill="rgb(82,82,82)"/><rect x="1572.5" y="1414.23" width="40.2" height="40.32" fill="rgb(64,64,64)"/><rect x="1612.2" y="1414.23" width="40.2" height="40.32" fill="rgb(64,64,64)"/><rect x="1651.9" y="1414.23" width="70.2" height="40.32" fill="rgb(45,45,45)"/><rect x="1344" y="1454.05" width="70.2" height="40.32" fill="rgb(45,45,45)"/><rect x="1413.7" y="1454.05" width="40.2" height="40.32" fill="rgb(64,64,64)"/><rect x="1453.4" y="1454.05" width="40.2" height="40.32" fill="rgb(64,64,64)"/><rect x="1493.1" y="1454.05" width="40.2" height="40.32" fill="rgb(45,45,45)"/><rect x="1532.8" y="1454.05" width="40.2" height="40.32" fill="rgb(64,64,64)"/><rect x="1572.5" y="1454.05" width="40.2" height="40.32" fill="rgb(64,64,64)"/><rect x="1612.2" y="1454.05" width="40.2" height="40.32" fill="rgb(45,45,45)"/><rect x="1651.9" y="1454.05" width="70.2" height="40.32" fill="rgb(45,45,45)"/><rect x="1344" y="1493.87" width="70.2" height="40.32" fill="rgb(45,45,45)"/><rect x="1413.7" y="1493.87" width="40.2" height="40.32" fill="rgb(45,45,45)"/><rect x="1453.4" y="1493.87" width="40.2" height="40.32" fill="rgb(45,45,45)"/><rect x="1493.1" y="1493.87" width="40.2" height="40.32" fill="rgb(64,64,64)"/><rect x="1532.8" y="1493.87" width="40.2" height="40.32" fill="rgb(64,64,64)"/><rect x="1572.5" y="1493.87" width="40.2" height="40.32" fill="rgb(45,45,45)"/><rect x="1612.2" y="1493.87" width="40.2" height="40.32" fill="rgb(45,45,45)"/><rect x="1651.9" y="1493.87" width="70.2" height="40.32" fill="rgb(64,64,64)"/><rect x="1344" y="1533.68" width="70.2" height="70.32" fill="rgb(45,45,45)"/><rect x="1413.7" y="1533.68" width="40.2" height="70.32" fill="rgb(64,64,64)"/><rect x="1453.4" y="1533.68" width="40.2" height="70.32" fill="rgb(45,45,45)"/><rect x="1493.1" y="1533.68" width="40.2" height="70.32" fill="rgb(64,64,64)"/><rect x="1532.8" y="1533.68" width="40.2" height="70.32" fill="rgb(64,64,64)"/><rect x="1572.5" y="1533.68" width="40.2" height="70.32" fill="rgb(45,45,45)"/><rect x="1612.2" y="1533.68" width="40.2" height="70.32" fill="rgb(45,45,45)"/><rect x="1651.9" y="1533.68" width="70.2" height="70.32" fill="rgb(64,64,64)"/></g>
</svg>
</body></html>
